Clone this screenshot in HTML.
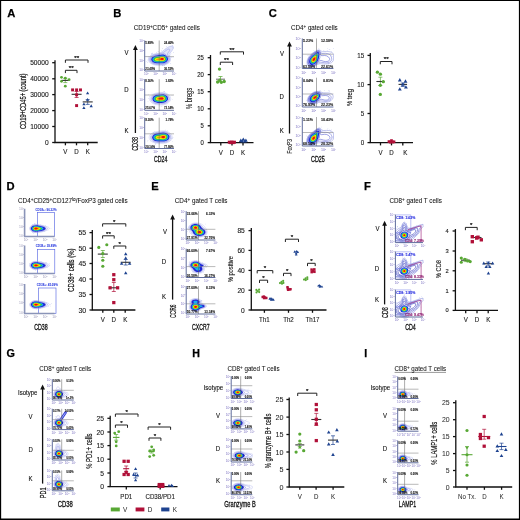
<!DOCTYPE html>
<html><head><meta charset="utf-8"><style>
html,body{margin:0;padding:0;background:#fff;width:520px;height:520px;overflow:hidden}
svg{display:block}
text{font-family:"Liberation Sans", sans-serif}
</style></head><body>
<svg width="520" height="520" viewBox="0 0 520 520" style="will-change:transform">
<rect width="520" height="520" fill="#fff"/>
<text x="7.2" y="16.9" font-size="11.2" text-anchor="start" font-weight="bold" fill="#000" stroke="#000" stroke-width="0.25" >A</text>
<text transform="translate(25.55,101.3) rotate(-90)" x="0" y="0" font-size="8.2" text-anchor="middle" fill="#111" stroke="#111" stroke-width="0.22" textLength="55.5" lengthAdjust="spacingAndGlyphs">CD19+CD45+ (count)</text>
<path d="M55 60.2V142.5H97.7" fill="none" stroke="#111" stroke-width="1.3"/>
<line x1="52.2" y1="62.7" x2="55" y2="62.7" stroke="#111" stroke-width="1.3"/>
<text x="48.6" y="65.0628" font-size="6.6" text-anchor="end" font-weight="normal" fill="#1a1a1a" textLength="18.40" lengthAdjust="spacingAndGlyphs" stroke="#1a1a1a" stroke-width="0.12" >50000</text>
<line x1="52.2" y1="78.8" x2="55" y2="78.8" stroke="#111" stroke-width="1.3"/>
<text x="48.6" y="81.16279999999999" font-size="6.6" text-anchor="end" font-weight="normal" fill="#1a1a1a" textLength="18.40" lengthAdjust="spacingAndGlyphs" stroke="#1a1a1a" stroke-width="0.12" >40000</text>
<line x1="52.2" y1="94.6" x2="55" y2="94.6" stroke="#111" stroke-width="1.3"/>
<text x="48.6" y="96.96279999999999" font-size="6.6" text-anchor="end" font-weight="normal" fill="#1a1a1a" textLength="18.40" lengthAdjust="spacingAndGlyphs" stroke="#1a1a1a" stroke-width="0.12" >30000</text>
<line x1="52.2" y1="110.6" x2="55" y2="110.6" stroke="#111" stroke-width="1.3"/>
<text x="48.6" y="112.96279999999999" font-size="6.6" text-anchor="end" font-weight="normal" fill="#1a1a1a" textLength="18.40" lengthAdjust="spacingAndGlyphs" stroke="#1a1a1a" stroke-width="0.12" >20000</text>
<line x1="52.2" y1="126.5" x2="55" y2="126.5" stroke="#111" stroke-width="1.3"/>
<text x="48.6" y="128.8628" font-size="6.6" text-anchor="end" font-weight="normal" fill="#1a1a1a" textLength="18.40" lengthAdjust="spacingAndGlyphs" stroke="#1a1a1a" stroke-width="0.12" >10000</text>
<line x1="52.2" y1="142.5" x2="55" y2="142.5" stroke="#111" stroke-width="1.3"/>
<text x="48.6" y="144.8628" font-size="6.6" text-anchor="end" font-weight="normal" fill="#1a1a1a" textLength="3.68" lengthAdjust="spacingAndGlyphs" stroke="#1a1a1a" stroke-width="0.12" >0</text>
<line x1="65.4" y1="142.5" x2="65.4" y2="145.3" stroke="#111" stroke-width="1.3"/>
<text x="65.4" y="154.4" font-size="7.0" text-anchor="middle" font-weight="normal" fill="#1a1a1a" textLength="4.11" lengthAdjust="spacingAndGlyphs" stroke="#1a1a1a" stroke-width="0.12" >V</text>
<line x1="76.5" y1="142.5" x2="76.5" y2="145.3" stroke="#111" stroke-width="1.3"/>
<text x="76.5" y="154.4" font-size="7.0" text-anchor="middle" font-weight="normal" fill="#1a1a1a" textLength="4.45" lengthAdjust="spacingAndGlyphs" stroke="#1a1a1a" stroke-width="0.12" >D</text>
<line x1="87.7" y1="142.5" x2="87.7" y2="145.3" stroke="#111" stroke-width="1.3"/>
<text x="87.7" y="154.4" font-size="7.0" text-anchor="middle" font-weight="normal" fill="#1a1a1a" textLength="4.11" lengthAdjust="spacingAndGlyphs" stroke="#1a1a1a" stroke-width="0.12" >K</text>
<path d="M65.4 73.1V70.3H77V73.1" fill="none" stroke="#222" stroke-width="1.0"/>
<text x="71.2" y="70.0" font-size="6.2" text-anchor="middle" font-weight="normal" fill="#222" stroke="#222" stroke-width="0.25" >**</text>
<path d="M65.4 62.8V60.0H88V62.8" fill="none" stroke="#222" stroke-width="1.0"/>
<text x="76.7" y="59.7" font-size="6.2" text-anchor="middle" font-weight="normal" fill="#222" stroke="#222" stroke-width="0.25" >**</text>
<path d="M65.3 78.3V82.6M63.3 78.3H67.3M63.3 82.6H67.3" stroke="#58a834" stroke-width="0.7" fill="none"/>
<line x1="61.3" y1="80.4" x2="69.3" y2="80.4" stroke="#333" stroke-width="1.1"/>
<circle cx="61.5" cy="77.3" r="1.40" fill="#58a834"/>
<circle cx="65.3" cy="78.2" r="1.40" fill="#58a834"/>
<circle cx="69.1" cy="79.7" r="1.40" fill="#58a834"/>
<circle cx="61.5" cy="81.3" r="1.40" fill="#58a834"/>
<circle cx="65.3" cy="86.2" r="1.40" fill="#58a834"/>
<path d="M76.6 91.5V97.5M74.6 91.5H78.6M74.6 97.5H78.6" stroke="#b01038" stroke-width="0.7" fill="none"/>
<line x1="71.6" y1="94.3" x2="81.6" y2="94.3" stroke="#333" stroke-width="1.1"/>
<rect x="71.13" y="88.43" width="2.94" height="2.94" fill="#b01038"/>
<rect x="75.13" y="88.43" width="2.94" height="2.94" fill="#b01038"/>
<rect x="79.03" y="88.43" width="2.94" height="2.94" fill="#b01038"/>
<rect x="75.13" y="93.33" width="2.94" height="2.94" fill="#b01038"/>
<rect x="75.13" y="104.13" width="2.94" height="2.94" fill="#b01038"/>
<path d="M87.7 99.6V104.4M85.7 99.6H89.7M85.7 104.4H89.7" stroke="#1e4390" stroke-width="0.7" fill="none"/>
<line x1="82.7" y1="101.9" x2="92.7" y2="101.9" stroke="#333" stroke-width="1.1"/>
<path d="M87.6 91.48L89.22 94.34L85.97 94.34Z" fill="#1e4390"/>
<path d="M87.6 97.88L89.22 100.74L85.97 100.74Z" fill="#1e4390"/>
<path d="M83.9 102.38L85.53 105.24L82.28 105.24Z" fill="#1e4390"/>
<path d="M91.2 104.28L92.83 107.14L89.58 107.14Z" fill="#1e4390"/>
<path d="M83.9 106.18L85.53 109.04L82.28 109.04Z" fill="#1e4390"/>
<text x="113.3" y="16.7" font-size="11.2" text-anchor="start" font-weight="bold" fill="#000" stroke="#000" stroke-width="0.25" >B</text>
<text x="133.8" y="30.3" font-size="6.5" text-anchor="start" font-weight="normal" fill="#111" textLength="66" lengthAdjust="spacingAndGlyphs" stroke="#111" stroke-width="0.06" >CD19<tspan font-size="4.8" baseline-shift="2.2">+</tspan>CD5<tspan font-size="4.8" baseline-shift="2.2">+</tspan> gated cells</text>
<path d="M162.2 65.4L158.6 65.5L155.6 65.2L153.2 64.7L151.0 63.7L149.4 62.4L148.4 60.8L148.2 59.2L148.7 57.4L150.1 55.8L152.2 54.5L154.6 53.7L158.6 53.0L160.8 52.2L162.0 51.4L165.8 48.3L168.8 46.5L171.4 45.7L172.4 45.6L173.2 45.9L173.7 46.4L173.8 47.0L173.4 48.8L172.2 50.8L169.8 53.8L169.4 54.6L169.5 55.4L170.5 57.4L170.8 58.6L170.7 60.0L170.2 61.4L169.0 62.9L167.2 64.1L165.0 65.0L162.2 65.4Z" fill="#e2e5fa"/>
<path d="M162.6 65.2L159.0 65.3L155.8 65.1L153.6 64.7L151.4 63.7L149.7 62.4L148.7 60.8L148.4 59.2L148.9 57.6L150.2 55.9L152.2 54.7L154.4 53.9L158.5 53.2L160.4 52.6L161.9 51.8L165.6 48.8L168.2 47.1L170.8 46.1L171.8 46.1L172.6 46.2L173.1 46.6L173.3 47.2L173.0 48.8L171.9 50.8L169.5 53.8L169.1 54.6L169.3 55.4L170.3 57.4L170.6 58.6L170.5 60.0L170.1 61.2L169.0 62.6L167.2 63.9L165.2 64.7L162.6 65.2Z" fill="none" stroke="#a4aaea" stroke-width="0.35"/>
<path d="M162.4 64.4L156.0 64.3L154.0 63.9L152.4 63.3L150.9 62.2L149.9 60.8L149.6 59.4L149.9 58.0L151.0 56.5L152.8 55.3L154.6 54.7L158.8 54.0L162.2 53.0L163.8 52.2L167.2 49.7L168.4 49.2L169.4 49.2L169.8 49.8L169.6 50.6L167.8 53.2L167.4 54.0L167.6 54.8L168.9 56.8L169.4 58.0L169.5 59.4L169.1 60.8L168.1 62.2L166.6 63.3L164.6 64.1L162.4 64.4Z" fill="none" stroke="#7e86e4" stroke-width="0.4"/>
<path d="M163.8 63.6L162.0 63.8L156.8 63.7L155.0 63.5L153.6 63.1L152.0 62.2L150.9 61.0L150.5 59.6L150.7 58.2L151.4 57.2L152.2 56.5L154.4 55.4L162.6 53.9L164.0 53.8L165.0 54.1L166.2 54.9L167.8 56.6L168.5 58.0L168.7 59.4L168.2 60.8L167.2 62.1L165.6 63.1L163.8 63.6Z" fill="none" stroke="#5560dc" stroke-width="0.4"/>
<circle cx="152.6" cy="66.2" r="0.28" fill="#9aa2ea"/>
<circle cx="161.4" cy="50.2" r="0.28" fill="#9aa2ea"/>
<circle cx="156.4" cy="52.4" r="0.28" fill="#9aa2ea"/>
<circle cx="148.0" cy="62.0" r="0.28" fill="#9aa2ea"/>
<circle cx="170.0" cy="55.2" r="0.28" fill="#9aa2ea"/>
<circle cx="173.0" cy="57.4" r="0.28" fill="#9aa2ea"/>
<circle cx="148.2" cy="56.2" r="0.28" fill="#9aa2ea"/>
<circle cx="158.0" cy="51.8" r="0.28" fill="#9aa2ea"/>
<circle cx="162.8" cy="48.6" r="0.28" fill="#9aa2ea"/>
<circle cx="146.8" cy="61.8" r="0.28" fill="#9aa2ea"/>
<circle cx="168.0" cy="48.2" r="0.28" fill="#9aa2ea"/>
<circle cx="162.8" cy="65.4" r="0.28" fill="#9aa2ea"/>
<circle cx="148.0" cy="56.2" r="0.28" fill="#9aa2ea"/>
<circle cx="164.4" cy="65.8" r="0.28" fill="#9aa2ea"/>
<circle cx="152.4" cy="53.8" r="0.28" fill="#9aa2ea"/>
<circle cx="172.4" cy="45.4" r="0.28" fill="#9aa2ea"/>
<circle cx="147.4" cy="60.0" r="0.28" fill="#9aa2ea"/>
<circle cx="173.4" cy="52.4" r="0.28" fill="#9aa2ea"/>
<circle cx="172.6" cy="43.0" r="0.28" fill="#9aa2ea"/>
<circle cx="164.6" cy="65.8" r="0.28" fill="#9aa2ea"/>
<circle cx="170.6" cy="54.2" r="0.28" fill="#9aa2ea"/>
<circle cx="171.4" cy="57.4" r="0.28" fill="#9aa2ea"/>
<circle cx="165.8" cy="49.2" r="0.28" fill="#9aa2ea"/>
<circle cx="171.0" cy="46.2" r="0.28" fill="#9aa2ea"/>
<circle cx="173.4" cy="48.0" r="0.28" fill="#9aa2ea"/>
<circle cx="172.8" cy="47.8" r="0.28" fill="#9aa2ea"/>
<circle cx="162.4" cy="65.6" r="0.28" fill="#9aa2ea"/>
<circle cx="151.6" cy="53.4" r="0.28" fill="#9aa2ea"/>
<circle cx="147.4" cy="62.8" r="0.28" fill="#9aa2ea"/>
<circle cx="163.8" cy="65.2" r="0.28" fill="#9aa2ea"/>
<circle cx="158.2" cy="51.6" r="0.28" fill="#9aa2ea"/>
<circle cx="146.6" cy="56.8" r="0.28" fill="#9aa2ea"/>
<circle cx="151.2" cy="54.4" r="0.28" fill="#9aa2ea"/>
<circle cx="169.6" cy="55.6" r="0.28" fill="#9aa2ea"/>
<circle cx="152.4" cy="53.0" r="0.28" fill="#9aa2ea"/>
<circle cx="171.0" cy="53.8" r="0.28" fill="#9aa2ea"/>
<circle cx="148.0" cy="57.0" r="0.28" fill="#9aa2ea"/>
<circle cx="152.0" cy="53.8" r="0.28" fill="#9aa2ea"/>
<circle cx="170.8" cy="63.4" r="0.28" fill="#9aa2ea"/>
<circle cx="166.2" cy="46.4" r="0.28" fill="#9aa2ea"/>
<path d="M163.2 63.2L156.8 63.2L154.0 62.7L152.6 61.9L151.6 60.8L151.2 59.6L151.4 58.4L151.8 57.6L152.6 56.9L154.8 55.8L162.2 54.6L163.6 54.6L164.8 54.9L166.2 55.7L167.4 57.0L167.9 58.2L168.0 59.6L167.5 60.8L166.4 62.0L165.0 62.8L163.2 63.2Z" fill="#2024d4"/>
<path d="M162.8 62.4L156.8 62.4L154.8 62.0L153.6 61.4L152.8 60.6L152.4 59.8L152.5 58.8L152.9 58.0L153.6 57.4L155.4 56.6L161.8 55.6L163.2 55.6L164.4 55.9L165.6 56.5L166.4 57.4L166.9 58.4L166.9 59.6L166.4 60.6L165.4 61.6L164.2 62.1L162.8 62.4Z" fill="#18b0f0"/>
<path d="M163.2 61.6L157.0 61.6L155.6 61.4L154.6 61.0L153.9 60.4L153.6 59.8L153.6 59.0L154.3 58.0L155.8 57.3L161.6 56.3L163.6 56.4L164.6 56.8L165.4 57.5L165.9 58.4L166.0 59.2L165.8 60.0L165.1 60.8L164.2 61.3L163.2 61.6Z" fill="#30c838"/>
<path d="M162.8 61.0L156.2 60.7L155.1 60.2L154.8 59.8L154.8 59.2L155.4 58.4L156.4 58.0L159.0 57.7L161.6 57.0L163.2 57.1L164.6 57.8L165.0 58.4L165.1 59.2L164.9 59.8L164.3 60.4L162.8 61.0Z" fill="#f4f000"/>
<path d="M163.0 60.4L161.8 60.5L159.2 60.1L157.0 60.0L156.3 59.8L156.0 59.4L156.2 59.0L156.8 58.7L158.8 58.5L161.4 57.6L162.8 57.6L163.8 58.0L164.2 58.4L164.4 59.0L164.0 59.9L163.0 60.4Z" fill="#ff9a00"/>
<path d="M162.8 60.0L161.8 60.1L160.8 59.8L160.1 59.4L160.0 59.0L160.7 58.4L161.4 58.1L162.2 58.0L163.0 58.1L163.5 58.4L163.8 59.0L163.5 59.6L162.8 60.0Z" fill="#f01010"/>
<text x="142.70" y="42.10" font-size="3.2" fill="#7c72c2" text-anchor="end">10</text><text x="142.70" y="41.00" font-size="1.98" fill="#7c72c2">1</text>
<text x="142.70" y="51.87" font-size="3.2" fill="#7c72c2" text-anchor="end">10</text><text x="142.70" y="50.77" font-size="1.98" fill="#7c72c2">2</text>
<text x="142.70" y="61.63" font-size="3.2" fill="#7c72c2" text-anchor="end">10</text><text x="142.70" y="60.53" font-size="1.98" fill="#7c72c2">3</text>
<text x="142.70" y="71.40" font-size="3.2" fill="#7c72c2" text-anchor="end">10</text><text x="142.70" y="70.30" font-size="1.98" fill="#7c72c2">4</text>
<text x="145.70" y="75.30" font-size="3.2" fill="#7c72c2" text-anchor="middle">10</text><text x="147.40" y="74.20" font-size="1.98" fill="#7c72c2">1</text>
<text x="154.97" y="75.30" font-size="3.2" fill="#7c72c2" text-anchor="middle">10</text><text x="156.67" y="74.20" font-size="1.98" fill="#7c72c2">2</text>
<text x="164.23" y="75.30" font-size="3.2" fill="#7c72c2" text-anchor="middle">10</text><text x="165.93" y="74.20" font-size="1.98" fill="#7c72c2">3</text>
<text x="173.50" y="75.30" font-size="3.2" fill="#7c72c2" text-anchor="middle">10</text><text x="175.20" y="74.20" font-size="1.98" fill="#7c72c2">4</text>
<line x1="159.2" y1="40.5" x2="159.2" y2="71" stroke="#5a5a5a" stroke-width="0.5"/>
<line x1="144.7" y1="56.6" x2="174" y2="56.6" stroke="#8a8a8a" stroke-width="0.6"/>
<path d="M144.7 40.5V71H174" fill="none" stroke="#5f6c9c" stroke-width="1.0"/>
<text x="145.29999999999998" y="43.762" font-size="2.9" text-anchor="start" font-weight="bold" fill="#111" stroke="#111" stroke-width="0.08" >5.89%</text>
<text x="173.7" y="43.762" font-size="2.9" text-anchor="end" font-weight="bold" fill="#111" stroke="#111" stroke-width="0.08" >24.40%</text>
<text x="145.29999999999998" y="70.1" font-size="2.9" text-anchor="start" font-weight="bold" fill="#111" stroke="#111" stroke-width="0.08" >23.49%</text>
<text x="173.7" y="70.1" font-size="2.9" text-anchor="end" font-weight="bold" fill="#111" stroke="#111" stroke-width="0.08" >36.53%</text>
<path d="M163.4 104.8L160.4 105.0L156.6 104.7L154.2 104.1L152.4 103.3L150.7 101.8L149.8 100.2L149.6 98.4L150.3 96.6L151.4 95.2L153.0 94.1L155.0 93.3L157.0 92.9L160.6 92.4L163.2 92.4L165.6 92.9L167.6 93.9L169.2 95.2L170.3 96.8L170.7 98.6L170.5 100.2L169.5 101.8L167.8 103.3L165.8 104.3L163.4 104.8Z" fill="none" stroke="#a4aaea" stroke-width="0.35"/>
<path d="M163.2 104.0L160.6 104.1L156.8 103.9L154.8 103.5L153.2 102.7L151.7 101.4L150.9 99.8L150.9 98.2L151.5 96.6L152.6 95.4L154.0 94.5L155.8 93.9L158.2 93.5L161.2 93.1L163.2 93.2L165.4 93.7L167.0 94.4L168.5 95.8L169.3 97.2L169.6 98.8L169.3 100.2L168.4 101.6L167.0 102.7L165.4 103.5L163.2 104.0Z" fill="none" stroke="#7e86e4" stroke-width="0.4"/>
<path d="M163.0 103.4L157.2 103.3L155.4 103.0L154.0 102.4L152.8 101.4L151.9 100.0L151.7 98.4L152.2 97.0L153.0 96.0L154.0 95.3L155.4 94.7L157.2 94.2L160.8 93.7L162.6 93.7L164.6 94.0L166.2 94.7L167.6 95.8L168.4 97.0L168.7 98.4L168.5 99.8L167.7 101.2L166.4 102.3L164.8 103.0L163.0 103.4Z" fill="none" stroke="#5560dc" stroke-width="0.4"/>
<circle cx="161.8" cy="106.2" r="0.28" fill="#9aa2ea"/>
<circle cx="160.0" cy="106.8" r="0.28" fill="#9aa2ea"/>
<circle cx="172.0" cy="95.6" r="0.28" fill="#9aa2ea"/>
<circle cx="148.6" cy="94.8" r="0.28" fill="#9aa2ea"/>
<circle cx="148.6" cy="98.6" r="0.28" fill="#9aa2ea"/>
<circle cx="155.0" cy="106.2" r="0.28" fill="#9aa2ea"/>
<circle cx="148.0" cy="101.2" r="0.28" fill="#9aa2ea"/>
<circle cx="152.0" cy="93.0" r="0.28" fill="#9aa2ea"/>
<circle cx="172.2" cy="99.8" r="0.28" fill="#9aa2ea"/>
<circle cx="162.0" cy="106.0" r="0.28" fill="#9aa2ea"/>
<circle cx="149.6" cy="96.4" r="0.28" fill="#9aa2ea"/>
<circle cx="163.6" cy="91.8" r="0.28" fill="#9aa2ea"/>
<circle cx="164.4" cy="91.8" r="0.28" fill="#9aa2ea"/>
<circle cx="164.2" cy="91.4" r="0.28" fill="#9aa2ea"/>
<circle cx="166.8" cy="105.8" r="0.28" fill="#9aa2ea"/>
<path d="M163.6 102.8L161.6 103.0L157.8 102.9L156.2 102.6L154.6 102.1L153.4 101.2L152.6 100.0L152.4 98.6L152.7 97.4L153.4 96.4L154.4 95.7L155.6 95.1L157.0 94.8L162.2 94.2L163.8 94.3L165.4 94.9L166.6 95.7L167.6 96.8L168.0 98.2L167.9 99.4L167.4 100.6L166.4 101.6L165.2 102.3L163.6 102.8Z" fill="#2024d4"/>
<path d="M163.0 102.0L158.0 102.0L155.6 101.5L154.5 100.8L153.7 99.8L153.5 98.8L153.8 97.8L154.3 97.0L155.0 96.4L157.0 95.7L161.8 95.0L163.2 95.1L164.6 95.5L165.7 96.2L166.4 97.0L166.8 98.0L166.8 99.2L166.3 100.2L165.5 101.0L164.4 101.6L163.0 102.0Z" fill="#18b0f0"/>
<path d="M163.2 101.2L160.4 101.4L157.8 101.2L156.4 100.9L155.4 100.4L154.9 99.8L154.6 99.0L154.7 98.2L155.6 97.1L157.2 96.4L161.4 95.7L162.6 95.8L163.8 96.0L164.8 96.5L165.5 97.2L165.9 98.0L165.9 98.8L165.6 99.6L165.0 100.4L163.2 101.2Z" fill="#30c838"/>
<path d="M162.4 100.6L158.8 100.5L157.0 100.2L155.9 99.4L155.8 98.4L156.5 97.6L157.8 97.1L161.4 96.5L163.2 96.6L164.0 97.0L164.6 97.5L164.9 98.2L164.9 98.8L164.7 99.4L164.1 100.0L162.4 100.6Z" fill="#f4f000"/>
<path d="M162.6 100.0L161.0 100.1L158.0 99.7L157.0 99.2L156.9 98.6L157.4 98.0L158.5 97.6L161.2 97.0L162.8 97.1L163.8 97.7L164.2 98.6L163.8 99.4L162.6 100.0Z" fill="#ff9a00"/>
<path d="M162.2 99.6L161.0 99.6L159.4 99.3L158.6 99.0L158.4 98.6L158.9 98.2L160.7 97.6L161.8 97.4L162.6 97.5L163.3 98.0L163.5 98.6L163.2 99.2L162.2 99.6Z" fill="#f01010"/>
<text x="142.70" y="80.80" font-size="3.2" fill="#7c72c2" text-anchor="end">10</text><text x="142.70" y="79.70" font-size="1.98" fill="#7c72c2">1</text>
<text x="142.70" y="90.77" font-size="3.2" fill="#7c72c2" text-anchor="end">10</text><text x="142.70" y="89.67" font-size="1.98" fill="#7c72c2">2</text>
<text x="142.70" y="100.73" font-size="3.2" fill="#7c72c2" text-anchor="end">10</text><text x="142.70" y="99.63" font-size="1.98" fill="#7c72c2">3</text>
<text x="142.70" y="110.70" font-size="3.2" fill="#7c72c2" text-anchor="end">10</text><text x="142.70" y="109.60" font-size="1.98" fill="#7c72c2">4</text>
<text x="145.70" y="114.60" font-size="3.2" fill="#7c72c2" text-anchor="middle">10</text><text x="147.40" y="113.50" font-size="1.98" fill="#7c72c2">1</text>
<text x="154.97" y="114.60" font-size="3.2" fill="#7c72c2" text-anchor="middle">10</text><text x="156.67" y="113.50" font-size="1.98" fill="#7c72c2">2</text>
<text x="164.23" y="114.60" font-size="3.2" fill="#7c72c2" text-anchor="middle">10</text><text x="165.93" y="113.50" font-size="1.98" fill="#7c72c2">3</text>
<text x="173.50" y="114.60" font-size="3.2" fill="#7c72c2" text-anchor="middle">10</text><text x="175.20" y="113.50" font-size="1.98" fill="#7c72c2">4</text>
<line x1="159.2" y1="79.2" x2="159.2" y2="110.3" stroke="#5a5a5a" stroke-width="0.5"/>
<line x1="144.7" y1="95" x2="174" y2="95" stroke="#8a8a8a" stroke-width="0.6"/>
<path d="M144.7 79.2V110.3H174" fill="none" stroke="#5f6c9c" stroke-width="1.0"/>
<text x="145.29999999999998" y="82.462" font-size="2.9" text-anchor="start" font-weight="bold" fill="#111" stroke="#111" stroke-width="0.08" >8.36%</text>
<text x="173.7" y="82.462" font-size="2.9" text-anchor="end" font-weight="bold" fill="#111" stroke="#111" stroke-width="0.08" >1.82%</text>
<text x="145.29999999999998" y="109.39999999999999" font-size="2.9" text-anchor="start" font-weight="bold" fill="#111" stroke="#111" stroke-width="0.08" >25.67%</text>
<text x="173.7" y="109.39999999999999" font-size="2.9" text-anchor="end" font-weight="bold" fill="#111" stroke="#111" stroke-width="0.08" >73.14%</text>
<path d="M159.4 143.4L156.6 143.3L154.0 142.7L152.0 141.8L150.4 140.4L149.4 138.8L149.1 137.2L149.5 135.6L150.8 134.0L152.6 132.8L155.0 131.9L161.4 130.9L163.4 130.8L165.8 131.1L167.8 131.7L169.6 132.7L171.0 134.0L171.7 135.0L172.1 136.0L172.2 137.8L171.5 139.6L170.0 141.2L168.2 142.3L165.8 143.1L163.6 143.4L159.4 143.4Z" fill="none" stroke="#a4aaea" stroke-width="0.35"/>
<path d="M159.4 142.6L156.8 142.5L154.8 142.1L153.0 141.3L151.6 140.2L150.7 138.8L150.4 137.2L150.8 135.8L151.9 134.4L153.6 133.3L155.6 132.6L163.4 131.6L165.4 131.7L167.2 132.3L168.8 133.2L170.1 134.4L170.9 136.0L171.0 137.8L170.3 139.4L169.0 140.8L167.4 141.7L165.4 142.4L163.6 142.6L159.4 142.6Z" fill="none" stroke="#7e86e4" stroke-width="0.4"/>
<path d="M165.0 141.8L157.6 142.0L155.8 141.7L154.4 141.3L152.8 140.3L151.8 139.0L151.4 137.6L151.6 136.2L152.3 135.2L153.2 134.3L154.4 133.7L156.0 133.1L163.2 132.2L165.0 132.3L166.8 132.8L168.4 133.7L169.6 135.0L170.1 136.4L170.1 137.8L169.5 139.2L168.4 140.4L166.8 141.3L165.0 141.8Z" fill="none" stroke="#5560dc" stroke-width="0.4"/>
<circle cx="155.2" cy="144.6" r="0.28" fill="#9aa2ea"/>
<circle cx="150.4" cy="134.2" r="0.28" fill="#9aa2ea"/>
<circle cx="155.8" cy="143.6" r="0.28" fill="#9aa2ea"/>
<circle cx="148.0" cy="140.2" r="0.28" fill="#9aa2ea"/>
<circle cx="159.6" cy="130.2" r="0.28" fill="#9aa2ea"/>
<circle cx="159.0" cy="144.0" r="0.28" fill="#9aa2ea"/>
<circle cx="147.6" cy="141.0" r="0.28" fill="#9aa2ea"/>
<circle cx="150.2" cy="141.0" r="0.28" fill="#9aa2ea"/>
<circle cx="172.4" cy="138.8" r="0.28" fill="#9aa2ea"/>
<circle cx="167.8" cy="130.8" r="0.28" fill="#9aa2ea"/>
<circle cx="170.8" cy="140.2" r="0.28" fill="#9aa2ea"/>
<circle cx="154.2" cy="131.2" r="0.28" fill="#9aa2ea"/>
<circle cx="172.2" cy="141.2" r="0.28" fill="#9aa2ea"/>
<circle cx="173.0" cy="137.6" r="0.28" fill="#9aa2ea"/>
<circle cx="153.6" cy="132.6" r="0.28" fill="#9aa2ea"/>
<circle cx="166.6" cy="142.8" r="0.28" fill="#9aa2ea"/>
<circle cx="171.8" cy="138.4" r="0.28" fill="#9aa2ea"/>
<circle cx="165.4" cy="130.0" r="0.28" fill="#9aa2ea"/>
<path d="M164.2 141.4L157.6 141.5L156.2 141.3L154.8 140.9L153.4 140.0L152.5 139.0L152.1 137.8L152.3 136.4L152.9 135.4L153.8 134.6L154.8 134.1L156.2 133.6L163.2 132.6L165.0 132.8L166.6 133.2L168.1 134.2L169.1 135.4L169.5 136.6L169.4 138.0L168.7 139.2L167.6 140.3L166.0 141.0L164.2 141.4Z" fill="#2024d4"/>
<path d="M163.4 140.6L157.6 140.6L155.6 140.2L154.4 139.5L153.6 138.6L153.4 137.6L153.5 136.6L154.6 135.3L156.6 134.5L163.0 133.5L164.4 133.5L165.8 133.9L167.1 134.6L168.0 135.6L168.3 136.8L168.2 138.0L167.5 139.0L166.4 139.9L165.0 140.4L163.4 140.6Z" fill="#18b0f0"/>
<path d="M164.2 139.8L158.0 139.8L156.6 139.7L155.6 139.2L154.9 138.6L154.5 137.8L154.5 137.0L155.4 135.9L156.8 135.2L160.0 134.8L162.8 134.2L165.0 134.4L166.0 134.8L166.9 135.6L167.3 136.4L167.4 137.4L167.0 138.2L166.3 139.0L165.4 139.5L164.2 139.8Z" fill="#30c838"/>
<path d="M164.4 139.0L163.2 139.2L160.6 138.9L157.2 138.9L156.4 138.6L155.9 138.2L155.7 137.8L155.7 137.2L156.2 136.5L157.2 136.0L160.0 135.7L162.8 135.0L164.4 135.0L165.2 135.3L165.9 135.8L166.3 136.4L166.4 137.0L166.3 137.6L165.9 138.2L165.2 138.8L164.4 139.0Z" fill="#f4f000"/>
<path d="M163.6 138.6L160.2 138.1L157.8 138.2L157.2 138.0L156.9 137.4L157.2 137.0L157.6 136.8L160.0 136.5L162.5 135.6L164.0 135.5L164.8 135.7L165.4 136.2L165.7 137.2L165.4 137.8L165.0 138.2L163.6 138.6Z" fill="#ff9a00"/>
<path d="M164.2 138.0L163.4 138.2L162.4 138.0L161.5 137.6L161.3 137.0L161.9 136.4L162.6 136.1L163.4 135.9L164.2 136.0L164.8 136.4L165.1 137.0L164.8 137.6L164.2 138.0Z" fill="#f01010"/>
<text x="142.70" y="119.30" font-size="3.2" fill="#7c72c2" text-anchor="end">10</text><text x="142.70" y="118.20" font-size="1.98" fill="#7c72c2">1</text>
<text x="142.70" y="129.17" font-size="3.2" fill="#7c72c2" text-anchor="end">10</text><text x="142.70" y="128.07" font-size="1.98" fill="#7c72c2">2</text>
<text x="142.70" y="139.03" font-size="3.2" fill="#7c72c2" text-anchor="end">10</text><text x="142.70" y="137.93" font-size="1.98" fill="#7c72c2">3</text>
<text x="142.70" y="148.90" font-size="3.2" fill="#7c72c2" text-anchor="end">10</text><text x="142.70" y="147.80" font-size="1.98" fill="#7c72c2">4</text>
<text x="145.70" y="152.80" font-size="3.2" fill="#7c72c2" text-anchor="middle">10</text><text x="147.40" y="151.70" font-size="1.98" fill="#7c72c2">1</text>
<text x="154.97" y="152.80" font-size="3.2" fill="#7c72c2" text-anchor="middle">10</text><text x="156.67" y="151.70" font-size="1.98" fill="#7c72c2">2</text>
<text x="164.23" y="152.80" font-size="3.2" fill="#7c72c2" text-anchor="middle">10</text><text x="165.93" y="151.70" font-size="1.98" fill="#7c72c2">3</text>
<text x="173.50" y="152.80" font-size="3.2" fill="#7c72c2" text-anchor="middle">10</text><text x="175.20" y="151.70" font-size="1.98" fill="#7c72c2">4</text>
<line x1="159.2" y1="117.7" x2="159.2" y2="148.5" stroke="#5a5a5a" stroke-width="0.5"/>
<line x1="144.7" y1="133.8" x2="174" y2="133.8" stroke="#8a8a8a" stroke-width="0.6"/>
<path d="M144.7 117.7V148.5H174" fill="none" stroke="#5f6c9c" stroke-width="1.0"/>
<text x="145.29999999999998" y="120.962" font-size="2.9" text-anchor="start" font-weight="bold" fill="#111" stroke="#111" stroke-width="0.08" >9.30%</text>
<text x="173.7" y="120.962" font-size="2.9" text-anchor="end" font-weight="bold" fill="#111" stroke="#111" stroke-width="0.08" >1.79%</text>
<text x="145.29999999999998" y="147.6" font-size="2.9" text-anchor="start" font-weight="bold" fill="#111" stroke="#111" stroke-width="0.08" >20.14%</text>
<text x="173.7" y="147.6" font-size="2.9" text-anchor="end" font-weight="bold" fill="#111" stroke="#111" stroke-width="0.08" >77.86%</text>
<line x1="135.4" y1="133" x2="135.4" y2="48" stroke="#111" stroke-width="1.3"/>
<path d="M135.4 45L137.8 50L133.0 50Z" fill="#111"/>
<text x="126.5" y="54.6" font-size="7.0" text-anchor="middle" font-weight="normal" fill="#111" textLength="4.02" lengthAdjust="spacingAndGlyphs" stroke="#111" stroke-width="0.12" >V</text>
<text x="126.5" y="91.8" font-size="7.0" text-anchor="middle" font-weight="normal" fill="#111" textLength="4.35" lengthAdjust="spacingAndGlyphs" stroke="#111" stroke-width="0.12" >D</text>
<text x="126.5" y="132.8" font-size="7.0" text-anchor="middle" font-weight="normal" fill="#111" textLength="4.02" lengthAdjust="spacingAndGlyphs" stroke="#111" stroke-width="0.12" >K</text>
<text transform="translate(138.05,143.9) rotate(-90)" x="0" y="0" font-size="8.2" text-anchor="middle" fill="#111" stroke="#111" stroke-width="0.22" textLength="13.8" lengthAdjust="spacingAndGlyphs">CD38</text>
<text x="154" y="162.3" font-size="8.2" text-anchor="start" font-weight="normal" fill="#111" textLength="13.3" lengthAdjust="spacingAndGlyphs" stroke="#111" stroke-width="0.3" >CD24</text>
<text transform="translate(192.15,98.4) rotate(-90)" x="0" y="0" font-size="8.2" text-anchor="middle" fill="#111" stroke="#111" stroke-width="0.1" textLength="21.3" lengthAdjust="spacingAndGlyphs">% bregs</text>
<path d="M210.5 55V142.6H253.5" fill="none" stroke="#111" stroke-width="1.3"/>
<line x1="207.7" y1="57.7" x2="210.5" y2="57.7" stroke="#111" stroke-width="1.3"/>
<text x="203.8" y="59.991200000000006" font-size="6.4" text-anchor="end" font-weight="normal" fill="#1a1a1a" textLength="6.60" lengthAdjust="spacingAndGlyphs" stroke="#1a1a1a" stroke-width="0.12" >25</text>
<line x1="207.7" y1="74.6" x2="210.5" y2="74.6" stroke="#111" stroke-width="1.3"/>
<text x="203.8" y="76.8912" font-size="6.4" text-anchor="end" font-weight="normal" fill="#1a1a1a" textLength="6.60" lengthAdjust="spacingAndGlyphs" stroke="#1a1a1a" stroke-width="0.12" >20</text>
<line x1="207.7" y1="91.7" x2="210.5" y2="91.7" stroke="#111" stroke-width="1.3"/>
<text x="203.8" y="93.9912" font-size="6.4" text-anchor="end" font-weight="normal" fill="#1a1a1a" textLength="6.60" lengthAdjust="spacingAndGlyphs" stroke="#1a1a1a" stroke-width="0.12" >15</text>
<line x1="207.7" y1="108.8" x2="210.5" y2="108.8" stroke="#111" stroke-width="1.3"/>
<text x="203.8" y="111.0912" font-size="6.4" text-anchor="end" font-weight="normal" fill="#1a1a1a" textLength="6.60" lengthAdjust="spacingAndGlyphs" stroke="#1a1a1a" stroke-width="0.12" >10</text>
<line x1="207.7" y1="125.8" x2="210.5" y2="125.8" stroke="#111" stroke-width="1.3"/>
<text x="203.8" y="128.0912" font-size="6.4" text-anchor="end" font-weight="normal" fill="#1a1a1a" textLength="3.30" lengthAdjust="spacingAndGlyphs" stroke="#1a1a1a" stroke-width="0.12" >5</text>
<line x1="207.7" y1="142.6" x2="210.5" y2="142.6" stroke="#111" stroke-width="1.3"/>
<text x="203.8" y="144.8912" font-size="6.4" text-anchor="end" font-weight="normal" fill="#1a1a1a" textLength="3.30" lengthAdjust="spacingAndGlyphs" stroke="#1a1a1a" stroke-width="0.12" >0</text>
<line x1="220.8" y1="142.6" x2="220.8" y2="145.4" stroke="#111" stroke-width="1.3"/>
<text x="220.8" y="154.5" font-size="7.0" text-anchor="middle" font-weight="normal" fill="#1a1a1a" textLength="4.11" lengthAdjust="spacingAndGlyphs" stroke="#1a1a1a" stroke-width="0.12" >V</text>
<line x1="232" y1="142.6" x2="232" y2="145.4" stroke="#111" stroke-width="1.3"/>
<text x="232" y="154.5" font-size="7.0" text-anchor="middle" font-weight="normal" fill="#1a1a1a" textLength="4.45" lengthAdjust="spacingAndGlyphs" stroke="#1a1a1a" stroke-width="0.12" >D</text>
<line x1="243" y1="142.6" x2="243" y2="145.4" stroke="#111" stroke-width="1.3"/>
<text x="243" y="154.5" font-size="7.0" text-anchor="middle" font-weight="normal" fill="#1a1a1a" textLength="4.11" lengthAdjust="spacingAndGlyphs" stroke="#1a1a1a" stroke-width="0.12" >K</text>
<path d="M220.3 65.0V62.2H232.6V65.0" fill="none" stroke="#222" stroke-width="1.0"/>
<text x="226.45" y="61.900000000000006" font-size="6.2" text-anchor="middle" font-weight="normal" fill="#222" stroke="#222" stroke-width="0.25" >**</text>
<path d="M220.3 54.599999999999994V51.8H243.5V54.599999999999994" fill="none" stroke="#222" stroke-width="1.0"/>
<text x="231.9" y="51.5" font-size="6.2" text-anchor="middle" font-weight="normal" fill="#222" stroke="#222" stroke-width="0.25" >**</text>
<path d="M220.5 76.5V81.5M218.5 76.5H222.5M218.5 81.5H222.5" stroke="#58a834" stroke-width="0.7" fill="none"/>
<line x1="216.0" y1="79.2" x2="225.0" y2="79.2" stroke="#777" stroke-width="1.1"/>
<circle cx="219.5" cy="69.1" r="1.67" fill="#58a834"/>
<circle cx="217.6" cy="82" r="1.67" fill="#58a834"/>
<circle cx="221.3" cy="82.3" r="1.67" fill="#58a834"/>
<circle cx="224.2" cy="81.5" r="1.67" fill="#58a834"/>
<circle cx="219.8" cy="80.2" r="1.67" fill="#58a834"/>
<rect x="227.78" y="140.68" width="3.04" height="3.04" fill="#b01038"/>
<rect x="230.28" y="140.48" width="3.04" height="3.04" fill="#b01038"/>
<rect x="232.88" y="140.68" width="3.04" height="3.04" fill="#b01038"/>
<rect x="229.08" y="141.08" width="3.04" height="3.04" fill="#b01038"/>
<rect x="231.68" y="141.08" width="3.04" height="3.04" fill="#b01038"/>
<path d="M240.8 138.62L242.68 141.92L238.93 141.92Z" fill="#1e4390"/>
<path d="M243.3 137.42L245.18 140.72L241.43 140.72Z" fill="#1e4390"/>
<path d="M245.9 138.42L247.78 141.72L244.03 141.72Z" fill="#1e4390"/>
<path d="M242.2 139.12L244.07 142.42L240.32 142.42Z" fill="#1e4390"/>
<path d="M244.9 139.22L246.78 142.52L243.03 142.52Z" fill="#1e4390"/>
<text x="268.7" y="16.8" font-size="11.2" text-anchor="start" font-weight="bold" fill="#000" stroke="#000" stroke-width="0.25" >C</text>
<text x="291" y="30.3" font-size="6.5" text-anchor="start" font-weight="normal" fill="#111" textLength="46.7" lengthAdjust="spacingAndGlyphs" stroke="#111" stroke-width="0.06" >CD4<tspan font-size="4.8" baseline-shift="2.2">+</tspan> gated cells</text>
<path d="M312.1 67.2L310.9 67.3L309.9 67.1L308.3 66.1L307.6 65.2L307.2 64.2L307.0 61.8L307.5 59.2L308.8 56.8L310.7 54.5L313.1 52.7L316.9 50.4L317.9 50.1L319.1 49.9L320.3 50.3L322.1 51.7L326.9 51.4L330.3 51.8L332.1 52.6L333.4 53.8L333.5 54.2L333.5 60.1L332.6 61.6L331.3 62.7L329.5 63.5L327.3 63.9L325.1 64.0L320.5 63.7L319.1 63.8L317.9 64.3L314.3 66.5L312.1 67.2Z" fill="none" stroke="#8088dc" stroke-width="0.45"/>
<path d="M312.7 66.4L311.5 66.6L310.5 66.5L309.5 66.1L308.7 65.4L308.2 64.6L307.8 63.4L307.7 62.0L307.8 60.6L308.8 58.0L310.5 55.6L312.3 53.9L316.3 51.3L317.9 50.6L319.3 50.7L320.1 51.2L321.3 53.2L321.7 53.5L325.5 53.3L327.7 53.6L329.6 54.4L330.8 55.8L331.6 57.8L331.8 59.4L331.2 60.8L329.9 62.0L328.3 62.6L326.3 62.9L324.3 62.7L320.7 62.2L319.5 62.3L318.5 62.8L314.9 65.5L312.7 66.4Z" fill="none" stroke="#5a62d4" stroke-width="0.5"/>
<path d="M312.9 65.8L311.7 66.0L310.7 65.9L309.7 65.4L309.0 64.8L308.6 64.0L308.2 62.8L308.2 61.6L308.4 60.2L309.4 57.8L311.1 55.6L312.9 54.1L316.9 51.4L318.5 51.1L319.7 51.6L320.2 52.6L320.7 55.0L321.1 55.5L321.9 55.7L324.7 55.5L326.5 55.8L328.3 56.8L329.5 58.3L329.7 59.2L329.6 60.0L329.1 60.6L328.3 61.2L327.1 61.5L325.5 61.6L323.7 61.3L321.1 60.4L320.1 60.5L319.1 61.1L315.5 64.5L314.3 65.3L312.9 65.8Z" fill="none" stroke="#4048cc" stroke-width="0.5"/>
<path d="M312.5 65.4L311.5 65.5L310.5 65.2L309.7 64.7L309.1 63.8L308.7 62.8L308.7 61.6L308.8 60.4L309.4 58.8L310.7 56.6L312.9 54.6L316.7 51.9L317.9 51.6L318.9 51.7L319.6 52.4L319.9 53.6L319.8 57.6L319.4 59.2L318.0 61.4L316.1 63.5L314.3 64.8L312.5 65.4Z" fill="none" stroke="#3038c4" stroke-width="0.5"/>
<circle cx="329.9" cy="49.6" r="0.28" fill="#9aa2ea"/>
<circle cx="329.7" cy="65.2" r="0.28" fill="#9aa2ea"/>
<circle cx="308.7" cy="66.6" r="0.28" fill="#9aa2ea"/>
<circle cx="309.7" cy="67.8" r="0.28" fill="#9aa2ea"/>
<circle cx="328.7" cy="64.0" r="0.28" fill="#9aa2ea"/>
<circle cx="322.3" cy="64.0" r="0.28" fill="#9aa2ea"/>
<circle cx="327.3" cy="48.8" r="0.28" fill="#9aa2ea"/>
<circle cx="327.7" cy="50.2" r="0.28" fill="#9aa2ea"/>
<circle cx="332.3" cy="56.8" r="0.28" fill="#9aa2ea"/>
<circle cx="314.9" cy="51.6" r="0.28" fill="#9aa2ea"/>
<circle cx="333.3" cy="48.6" r="0.28" fill="#9aa2ea"/>
<circle cx="328.1" cy="63.6" r="0.28" fill="#9aa2ea"/>
<circle cx="328.3" cy="63.6" r="0.28" fill="#9aa2ea"/>
<circle cx="318.9" cy="48.6" r="0.28" fill="#9aa2ea"/>
<circle cx="330.1" cy="53.0" r="0.28" fill="#9aa2ea"/>
<circle cx="329.1" cy="49.2" r="0.28" fill="#9aa2ea"/>
<circle cx="307.1" cy="62.8" r="0.28" fill="#9aa2ea"/>
<circle cx="308.7" cy="55.0" r="0.28" fill="#9aa2ea"/>
<circle cx="313.9" cy="50.8" r="0.28" fill="#9aa2ea"/>
<circle cx="331.7" cy="51.6" r="0.28" fill="#9aa2ea"/>
<circle cx="324.5" cy="64.8" r="0.28" fill="#9aa2ea"/>
<circle cx="319.9" cy="63.6" r="0.28" fill="#9aa2ea"/>
<circle cx="332.3" cy="61.6" r="0.28" fill="#9aa2ea"/>
<circle cx="323.9" cy="50.6" r="0.28" fill="#9aa2ea"/>
<circle cx="331.5" cy="55.2" r="0.28" fill="#9aa2ea"/>
<circle cx="307.9" cy="55.6" r="0.28" fill="#9aa2ea"/>
<circle cx="330.1" cy="53.4" r="0.28" fill="#9aa2ea"/>
<circle cx="331.1" cy="64.0" r="0.28" fill="#9aa2ea"/>
<circle cx="313.7" cy="52.8" r="0.28" fill="#9aa2ea"/>
<circle cx="309.5" cy="68.0" r="0.28" fill="#9aa2ea"/>
<path d="M313.1 64.8L312.1 65.0L311.1 64.9L310.3 64.5L309.7 63.8L309.2 62.8L309.1 61.8L309.2 60.6L309.6 59.2L310.9 57.0L312.7 55.2L316.5 52.4L317.5 52.1L318.5 52.1L319.2 52.8L319.4 54.2L319.0 57.8L318.5 59.6L317.5 61.4L316.1 63.0L314.7 64.1L313.1 64.8Z" fill="#2024d4"/>
<path d="M312.7 63.8L311.3 63.6L310.7 63.1L310.3 62.4L310.1 60.8L310.7 58.8L311.8 57.2L313.5 55.6L316.3 53.6L317.1 53.3L317.7 53.3L318.2 53.8L318.4 55.0L317.7 58.2L317.2 60.0L316.3 61.4L315.2 62.6L313.9 63.5L312.7 63.8Z" fill="#18b0f0"/>
<path d="M313.5 62.8L312.1 62.9L311.2 62.2L310.9 60.8L311.3 59.2L312.1 57.8L313.5 56.4L315.9 54.6L316.5 54.4L317.1 54.4L317.5 54.8L317.5 55.6L316.6 59.6L315.3 61.6L314.5 62.3L313.5 62.8Z" fill="#30c838"/>
<path d="M313.3 62.2L312.3 62.1L311.7 61.6L311.5 60.4L311.8 59.2L312.5 58.1L313.5 57.1L315.3 55.8L316.3 55.5L316.6 55.8L316.7 56.6L316.4 58.4L315.9 59.8L314.8 61.4L313.3 62.2Z" fill="#f4f000"/>
<path d="M313.5 61.6L312.7 61.6L312.1 61.0L312.0 60.2L312.3 59.2L313.0 58.2L313.9 57.3L315.1 56.6L315.7 56.6L315.9 56.8L316.0 57.6L315.6 59.6L314.7 60.9L313.5 61.6Z" fill="#ff9a00"/>
<path d="M313.9 60.8L313.3 61.0L312.8 60.8L312.6 60.2L312.7 59.6L313.6 58.2L314.3 57.7L315.0 57.6L315.3 58.0L315.2 59.2L314.7 60.2L313.9 60.8Z" fill="#f01010"/>
<text x="299.60" y="40.10" font-size="3.6" fill="#7c72c2" text-anchor="end">10</text><text x="299.60" y="39.00" font-size="2.23" fill="#7c72c2">1</text>
<text x="299.60" y="49.70" font-size="3.6" fill="#7c72c2" text-anchor="end">10</text><text x="299.60" y="48.60" font-size="2.23" fill="#7c72c2">2</text>
<text x="299.60" y="59.30" font-size="3.6" fill="#7c72c2" text-anchor="end">10</text><text x="299.60" y="58.20" font-size="2.23" fill="#7c72c2">3</text>
<text x="299.60" y="68.90" font-size="3.6" fill="#7c72c2" text-anchor="end">10</text><text x="299.60" y="67.80" font-size="2.23" fill="#7c72c2">4</text>
<text x="303.30" y="73.90" font-size="3.6" fill="#7c72c2" text-anchor="middle">10</text><text x="305.00" y="72.80" font-size="2.23" fill="#7c72c2">1</text>
<text x="313.17" y="73.90" font-size="3.6" fill="#7c72c2" text-anchor="middle">10</text><text x="314.87" y="72.80" font-size="2.23" fill="#7c72c2">2</text>
<text x="323.03" y="73.90" font-size="3.6" fill="#7c72c2" text-anchor="middle">10</text><text x="324.73" y="72.80" font-size="2.23" fill="#7c72c2">3</text>
<text x="332.90" y="73.90" font-size="3.6" fill="#7c72c2" text-anchor="middle">10</text><text x="334.60" y="72.80" font-size="2.23" fill="#7c72c2">4</text>
<line x1="316.5" y1="38.5" x2="316.5" y2="68.5" stroke="#5a5a5a" stroke-width="0.5"/>
<line x1="302.3" y1="54.2" x2="333.4" y2="54.2" stroke="#8a8a8a" stroke-width="0.6"/>
<path d="M302.3 38.5V68.5H333.4" fill="none" stroke="#5f6c9c" stroke-width="1.0"/>
<text x="302.90000000000003" y="42.308" font-size="3.6" text-anchor="start" font-weight="bold" fill="#111" stroke="#111" stroke-width="0.08" >5.23%</text>
<text x="333.09999999999997" y="42.308" font-size="3.6" text-anchor="end" font-weight="bold" fill="#111" stroke="#111" stroke-width="0.08" >12.58%</text>
<text x="302.90000000000003" y="67.6" font-size="3.6" text-anchor="start" font-weight="bold" fill="#111" stroke="#111" stroke-width="0.08" >63.59%</text>
<text x="333.09999999999997" y="67.6" font-size="3.6" text-anchor="end" font-weight="bold" fill="#111" stroke="#111" stroke-width="0.08" >22.61%</text>
<path d="M312.5 104.2L310.3 104.1L308.6 103.2L307.9 102.4L307.6 101.6L307.4 99.6L308.2 97.2L309.6 95.2L311.5 93.5L313.9 92.1L315.9 91.5L318.3 91.3L320.3 91.7L322.9 92.8L326.5 92.8L328.7 93.0L330.3 93.4L331.5 93.9L332.4 94.6L333.0 95.4L333.2 97.0L332.6 98.8L331.3 100.4L329.5 101.5L327.9 102.0L326.1 102.3L318.9 102.3L314.3 103.9L312.5 104.2Z" fill="none" stroke="#8088dc" stroke-width="0.45"/>
<path d="M312.7 103.6L310.7 103.5L309.1 102.6L308.2 101.2L308.1 99.4L308.8 97.4L310.2 95.4L312.1 93.7L314.3 92.5L316.9 91.9L319.5 92.1L320.7 92.6L322.5 94.1L326.5 94.2L328.9 94.7L330.3 95.6L331.0 96.6L331.1 97.8L330.7 99.0L329.8 100.0L328.5 100.7L327.1 101.1L325.7 101.3L320.9 100.9L319.7 100.9L318.7 101.2L314.9 103.1L312.7 103.6Z" fill="none" stroke="#5a62d4" stroke-width="0.5"/>
<path d="M313.5 103.0L311.5 103.1L309.9 102.5L308.9 101.2L308.7 99.4L309.2 97.6L310.5 95.6L312.5 93.9L314.5 92.9L317.1 92.3L319.3 92.5L320.7 93.4L321.7 95.3L322.1 95.7L325.3 95.5L326.9 95.7L328.3 96.2L329.1 97.2L329.3 98.0L329.0 98.8L328.4 99.4L327.5 99.9L326.3 100.1L324.9 100.1L321.3 99.3L320.5 99.4L319.5 99.8L315.9 102.1L313.5 103.0Z" fill="none" stroke="#4048cc" stroke-width="0.5"/>
<path d="M313.3 102.6L312.1 102.7L310.9 102.4L310.1 102.0L309.5 101.2L309.2 100.2L309.2 99.0L309.6 97.8L310.2 96.6L312.1 94.6L314.5 93.3L315.9 92.9L317.5 92.7L318.7 92.8L319.7 93.2L320.4 94.0L320.8 95.2L320.6 96.8L320.1 98.0L318.7 99.6L316.9 101.1L315.1 102.1L313.3 102.6Z" fill="none" stroke="#3038c4" stroke-width="0.5"/>
<circle cx="319.1" cy="91.0" r="0.28" fill="#9aa2ea"/>
<circle cx="328.9" cy="94.0" r="0.28" fill="#9aa2ea"/>
<circle cx="306.3" cy="100.4" r="0.28" fill="#9aa2ea"/>
<circle cx="329.5" cy="91.8" r="0.28" fill="#9aa2ea"/>
<circle cx="332.7" cy="94.6" r="0.28" fill="#9aa2ea"/>
<circle cx="330.3" cy="100.2" r="0.28" fill="#9aa2ea"/>
<circle cx="329.9" cy="92.0" r="0.28" fill="#9aa2ea"/>
<circle cx="330.3" cy="100.6" r="0.28" fill="#9aa2ea"/>
<circle cx="320.3" cy="90.6" r="0.28" fill="#9aa2ea"/>
<circle cx="332.3" cy="95.0" r="0.28" fill="#9aa2ea"/>
<circle cx="332.1" cy="98.0" r="0.28" fill="#9aa2ea"/>
<circle cx="324.5" cy="90.6" r="0.28" fill="#9aa2ea"/>
<circle cx="311.9" cy="104.8" r="0.28" fill="#9aa2ea"/>
<circle cx="329.5" cy="90.8" r="0.28" fill="#9aa2ea"/>
<circle cx="328.7" cy="90.6" r="0.28" fill="#9aa2ea"/>
<circle cx="316.3" cy="90.8" r="0.28" fill="#9aa2ea"/>
<circle cx="315.1" cy="105.0" r="0.28" fill="#9aa2ea"/>
<circle cx="329.3" cy="101.4" r="0.28" fill="#9aa2ea"/>
<circle cx="317.3" cy="103.2" r="0.28" fill="#9aa2ea"/>
<circle cx="325.7" cy="101.6" r="0.28" fill="#9aa2ea"/>
<circle cx="319.5" cy="90.2" r="0.28" fill="#9aa2ea"/>
<circle cx="317.3" cy="103.0" r="0.28" fill="#9aa2ea"/>
<circle cx="329.7" cy="100.6" r="0.28" fill="#9aa2ea"/>
<circle cx="319.5" cy="101.4" r="0.28" fill="#9aa2ea"/>
<circle cx="328.1" cy="92.0" r="0.28" fill="#9aa2ea"/>
<circle cx="326.9" cy="101.6" r="0.28" fill="#9aa2ea"/>
<circle cx="324.5" cy="93.2" r="0.28" fill="#9aa2ea"/>
<circle cx="322.3" cy="92.6" r="0.28" fill="#9aa2ea"/>
<circle cx="323.5" cy="103.2" r="0.28" fill="#9aa2ea"/>
<circle cx="324.3" cy="101.8" r="0.28" fill="#9aa2ea"/>
<path d="M313.3 102.2L312.1 102.3L311.1 102.0L310.3 101.5L309.8 100.8L309.6 99.8L309.7 98.8L310.0 97.8L310.7 96.6L312.5 94.7L314.9 93.5L317.5 93.1L318.7 93.3L319.4 93.6L320.1 94.4L320.2 95.6L320.0 96.8L319.2 98.2L318.0 99.6L316.5 100.9L314.9 101.8L313.3 102.2Z" fill="#2024d4"/>
<path d="M313.7 101.2L312.7 101.3L311.9 101.1L310.9 100.2L310.7 99.4L310.7 98.6L311.6 96.8L312.9 95.4L314.7 94.4L316.9 94.0L317.9 94.1L318.5 94.3L319.0 95.0L319.1 95.8L318.9 96.8L318.2 98.0L317.2 99.2L316.1 100.1L314.9 100.8L313.7 101.2Z" fill="#18b0f0"/>
<path d="M314.1 100.4L312.7 100.5L312.1 100.2L311.7 99.7L311.5 99.2L311.5 98.4L312.2 97.0L313.3 95.9L314.9 95.0L316.7 94.6L317.9 94.9L318.3 95.4L318.4 96.0L318.2 96.8L317.6 97.8L315.9 99.6L314.1 100.4Z" fill="#30c838"/>
<path d="M314.3 99.8L313.1 99.9L312.4 99.4L312.2 98.4L312.7 97.2L313.7 96.2L314.9 95.5L316.3 95.2L317.3 95.4L317.7 96.2L317.2 97.6L315.9 99.0L314.3 99.8Z" fill="#f4f000"/>
<path d="M313.9 99.4L313.1 99.2L312.7 98.6L312.9 97.8L313.4 97.0L314.3 96.2L315.3 95.8L316.3 95.7L316.9 95.9L317.1 96.2L317.1 96.8L316.4 98.0L315.1 99.0L313.9 99.4Z" fill="#ff9a00"/>
<path d="M314.3 98.8L313.7 98.7L313.4 98.4L313.4 97.8L313.8 97.2L315.1 96.3L315.9 96.2L316.4 96.4L316.5 97.0L316.0 97.8L315.1 98.5L314.3 98.8Z" fill="#f01010"/>
<text x="299.60" y="79.30" font-size="3.6" fill="#7c72c2" text-anchor="end">10</text><text x="299.60" y="78.20" font-size="2.23" fill="#7c72c2">1</text>
<text x="299.60" y="88.67" font-size="3.6" fill="#7c72c2" text-anchor="end">10</text><text x="299.60" y="87.57" font-size="2.23" fill="#7c72c2">2</text>
<text x="299.60" y="98.03" font-size="3.6" fill="#7c72c2" text-anchor="end">10</text><text x="299.60" y="96.93" font-size="2.23" fill="#7c72c2">3</text>
<text x="299.60" y="107.40" font-size="3.6" fill="#7c72c2" text-anchor="end">10</text><text x="299.60" y="106.30" font-size="2.23" fill="#7c72c2">4</text>
<text x="303.30" y="112.40" font-size="3.6" fill="#7c72c2" text-anchor="middle">10</text><text x="305.00" y="111.30" font-size="2.23" fill="#7c72c2">1</text>
<text x="313.17" y="112.40" font-size="3.6" fill="#7c72c2" text-anchor="middle">10</text><text x="314.87" y="111.30" font-size="2.23" fill="#7c72c2">2</text>
<text x="323.03" y="112.40" font-size="3.6" fill="#7c72c2" text-anchor="middle">10</text><text x="324.73" y="111.30" font-size="2.23" fill="#7c72c2">3</text>
<text x="332.90" y="112.40" font-size="3.6" fill="#7c72c2" text-anchor="middle">10</text><text x="334.60" y="111.30" font-size="2.23" fill="#7c72c2">4</text>
<line x1="316.5" y1="77.7" x2="316.5" y2="107" stroke="#5a5a5a" stroke-width="0.5"/>
<line x1="302.3" y1="94" x2="333.4" y2="94" stroke="#8a8a8a" stroke-width="0.6"/>
<path d="M302.3 77.7V107H333.4" fill="none" stroke="#5f6c9c" stroke-width="1.0"/>
<text x="302.90000000000003" y="81.50800000000001" font-size="3.6" text-anchor="start" font-weight="bold" fill="#111" stroke="#111" stroke-width="0.08" >0.04%</text>
<text x="333.09999999999997" y="81.50800000000001" font-size="3.6" text-anchor="end" font-weight="bold" fill="#111" stroke="#111" stroke-width="0.08" >0.81%</text>
<text x="302.90000000000003" y="106.1" font-size="3.6" text-anchor="start" font-weight="bold" fill="#111" stroke="#111" stroke-width="0.08" >76.93%</text>
<text x="333.09999999999997" y="106.1" font-size="3.6" text-anchor="end" font-weight="bold" fill="#111" stroke="#111" stroke-width="0.08" >22.23%</text>
<path d="M312.7 145.3L311.3 145.5L310.1 145.4L308.9 144.9L307.9 144.1L307.2 143.1L306.8 141.7L306.7 140.3L307.0 138.7L308.0 136.3L309.8 134.1L316.9 128.8L318.3 128.2L319.7 128.0L320.7 128.6L321.7 130.1L322.3 130.6L326.7 130.4L329.5 130.6L332.0 131.5L332.8 132.1L333.5 132.9L333.5 139.0L332.6 140.3L331.3 141.3L329.3 142.2L327.3 142.6L318.7 142.8L317.3 143.3L314.3 144.8L312.7 145.3Z" fill="none" stroke="#8088dc" stroke-width="0.45"/>
<path d="M312.5 144.7L311.3 144.8L310.1 144.6L309.1 144.2L308.2 143.3L307.7 142.3L307.4 141.1L307.4 139.7L307.8 138.3L308.7 136.3L310.4 134.3L313.7 131.9L316.3 129.8L317.5 129.0L318.9 128.7L319.5 128.8L320.1 129.1L320.6 129.9L321.1 131.9L321.5 132.4L325.7 132.3L328.1 132.6L330.1 133.6L330.8 134.3L331.4 135.3L332.0 136.9L331.8 138.5L331.1 139.7L329.7 140.7L328.1 141.3L326.3 141.5L320.5 141.1L319.3 141.2L318.3 141.6L314.9 143.9L312.5 144.7Z" fill="none" stroke="#5a62d4" stroke-width="0.5"/>
<path d="M312.9 144.1L311.7 144.3L310.7 144.2L309.7 143.8L308.8 143.1L308.2 142.1L308.0 141.1L307.9 139.9L308.2 138.5L309.2 136.5L310.6 134.7L313.9 132.3L316.3 130.2L317.5 129.5L318.9 129.3L319.5 129.5L319.9 129.9L320.3 131.1L320.3 133.8L320.7 134.6L321.5 134.7L324.7 134.3L326.7 134.5L328.7 135.5L329.8 136.9L330.0 137.7L329.8 138.5L329.2 139.3L328.3 139.8L326.9 140.2L325.3 140.3L323.5 140.0L320.9 139.3L319.9 139.3L319.1 139.8L315.7 142.8L314.3 143.6L312.9 144.1Z" fill="none" stroke="#4048cc" stroke-width="0.5"/>
<path d="M312.7 143.7L311.5 143.8L310.5 143.6L309.6 143.1L308.9 142.3L308.5 141.3L308.4 140.1L309.0 137.7L309.8 136.3L310.9 135.0L313.9 132.7L316.1 130.8L317.7 129.9L318.5 129.8L319.0 129.9L319.6 130.5L319.9 131.7L319.4 134.7L319.4 136.9L319.0 138.3L317.9 140.1L316.2 141.9L314.5 143.1L312.7 143.7Z" fill="none" stroke="#3038c4" stroke-width="0.5"/>
<circle cx="307.3" cy="136.5" r="0.28" fill="#9aa2ea"/>
<circle cx="327.9" cy="128.3" r="0.28" fill="#9aa2ea"/>
<circle cx="307.1" cy="144.9" r="0.28" fill="#9aa2ea"/>
<circle cx="320.1" cy="145.1" r="0.28" fill="#9aa2ea"/>
<circle cx="315.3" cy="145.7" r="0.28" fill="#9aa2ea"/>
<circle cx="329.7" cy="129.9" r="0.28" fill="#9aa2ea"/>
<circle cx="331.5" cy="129.3" r="0.28" fill="#9aa2ea"/>
<circle cx="306.7" cy="135.9" r="0.28" fill="#9aa2ea"/>
<circle cx="327.9" cy="141.9" r="0.28" fill="#9aa2ea"/>
<circle cx="320.3" cy="142.3" r="0.28" fill="#9aa2ea"/>
<circle cx="332.1" cy="132.9" r="0.28" fill="#9aa2ea"/>
<circle cx="322.9" cy="130.5" r="0.28" fill="#9aa2ea"/>
<circle cx="322.3" cy="129.3" r="0.28" fill="#9aa2ea"/>
<circle cx="325.1" cy="143.1" r="0.28" fill="#9aa2ea"/>
<circle cx="327.3" cy="129.9" r="0.28" fill="#9aa2ea"/>
<circle cx="330.3" cy="130.9" r="0.28" fill="#9aa2ea"/>
<circle cx="322.7" cy="131.5" r="0.28" fill="#9aa2ea"/>
<circle cx="306.5" cy="143.5" r="0.28" fill="#9aa2ea"/>
<circle cx="306.5" cy="141.7" r="0.28" fill="#9aa2ea"/>
<circle cx="321.7" cy="131.3" r="0.28" fill="#9aa2ea"/>
<circle cx="323.5" cy="141.9" r="0.28" fill="#9aa2ea"/>
<circle cx="326.1" cy="144.5" r="0.28" fill="#9aa2ea"/>
<circle cx="333.3" cy="136.9" r="0.28" fill="#9aa2ea"/>
<circle cx="330.9" cy="130.5" r="0.28" fill="#9aa2ea"/>
<circle cx="326.3" cy="141.7" r="0.28" fill="#9aa2ea"/>
<circle cx="324.9" cy="130.3" r="0.28" fill="#9aa2ea"/>
<circle cx="306.3" cy="141.7" r="0.28" fill="#9aa2ea"/>
<circle cx="332.7" cy="136.9" r="0.28" fill="#9aa2ea"/>
<circle cx="330.9" cy="133.1" r="0.28" fill="#9aa2ea"/>
<circle cx="321.1" cy="127.1" r="0.28" fill="#9aa2ea"/>
<path d="M312.5 143.3L311.5 143.3L310.5 143.1L309.7 142.5L309.3 141.9L308.9 141.1L308.8 139.9L309.0 138.7L309.5 137.5L311.1 135.3L316.1 131.2L317.5 130.4L318.7 130.4L319.3 131.1L319.4 132.3L318.6 137.3L318.0 138.9L317.0 140.5L315.7 141.8L314.1 142.8L312.5 143.3Z" fill="#2024d4"/>
<path d="M313.3 142.1L312.3 142.3L311.5 142.2L310.9 141.9L310.3 141.3L309.9 140.5L309.8 139.7L310.3 137.9L311.1 136.5L312.3 135.3L316.3 132.2L317.1 131.8L317.7 131.7L318.1 132.1L318.2 133.1L317.0 138.7L316.4 139.7L315.5 140.8L314.5 141.6L313.3 142.1Z" fill="#18b0f0"/>
<path d="M313.5 141.3L312.1 141.5L311.1 140.9L310.6 139.7L310.9 138.1L311.6 136.9L312.7 135.8L316.1 133.4L316.9 133.3L317.1 134.1L316.6 137.5L316.2 138.7L315.1 140.3L313.5 141.3Z" fill="#30c838"/>
<path d="M313.5 140.7L312.3 140.8L311.5 140.3L311.2 139.5L311.4 138.3L311.9 137.3L312.9 136.3L314.7 135.2L315.7 135.0L316.0 135.3L316.1 136.1L315.8 138.3L314.9 139.8L313.5 140.7Z" fill="#f4f000"/>
<path d="M313.7 140.1L312.9 140.3L312.1 140.0L311.7 139.3L311.9 138.3L312.4 137.3L313.3 136.5L314.3 136.0L315.1 136.0L315.4 136.3L315.5 136.9L315.3 138.3L314.7 139.3L313.7 140.1Z" fill="#ff9a00"/>
<path d="M313.7 139.5L313.1 139.7L312.6 139.5L312.3 139.1L312.3 138.5L313.1 137.3L313.9 136.8L314.5 136.7L314.9 137.2L314.9 138.1L314.5 138.9L313.7 139.5Z" fill="#f01010"/>
<text x="299.60" y="118.60" font-size="3.6" fill="#7c72c2" text-anchor="end">10</text><text x="299.60" y="117.50" font-size="2.23" fill="#7c72c2">1</text>
<text x="299.60" y="127.87" font-size="3.6" fill="#7c72c2" text-anchor="end">10</text><text x="299.60" y="126.77" font-size="2.23" fill="#7c72c2">2</text>
<text x="299.60" y="137.13" font-size="3.6" fill="#7c72c2" text-anchor="end">10</text><text x="299.60" y="136.03" font-size="2.23" fill="#7c72c2">3</text>
<text x="299.60" y="146.40" font-size="3.6" fill="#7c72c2" text-anchor="end">10</text><text x="299.60" y="145.30" font-size="2.23" fill="#7c72c2">4</text>
<text x="303.30" y="151.40" font-size="3.6" fill="#7c72c2" text-anchor="middle">10</text><text x="305.00" y="150.30" font-size="2.23" fill="#7c72c2">1</text>
<text x="313.17" y="151.40" font-size="3.6" fill="#7c72c2" text-anchor="middle">10</text><text x="314.87" y="150.30" font-size="2.23" fill="#7c72c2">2</text>
<text x="323.03" y="151.40" font-size="3.6" fill="#7c72c2" text-anchor="middle">10</text><text x="324.73" y="150.30" font-size="2.23" fill="#7c72c2">3</text>
<text x="332.90" y="151.40" font-size="3.6" fill="#7c72c2" text-anchor="middle">10</text><text x="334.60" y="150.30" font-size="2.23" fill="#7c72c2">4</text>
<line x1="316.5" y1="117" x2="316.5" y2="146" stroke="#5a5a5a" stroke-width="0.5"/>
<line x1="302.3" y1="132.5" x2="333.4" y2="132.5" stroke="#8a8a8a" stroke-width="0.6"/>
<path d="M302.3 117V146H333.4" fill="none" stroke="#5f6c9c" stroke-width="1.0"/>
<text x="302.90000000000003" y="120.808" font-size="3.6" text-anchor="start" font-weight="bold" fill="#111" stroke="#111" stroke-width="0.08" >1.11%</text>
<text x="333.09999999999997" y="120.808" font-size="3.6" text-anchor="end" font-weight="bold" fill="#111" stroke="#111" stroke-width="0.08" >10.43%</text>
<text x="302.90000000000003" y="145.1" font-size="3.6" text-anchor="start" font-weight="bold" fill="#111" stroke="#111" stroke-width="0.08" >68.14%</text>
<text x="333.09999999999997" y="145.1" font-size="3.6" text-anchor="end" font-weight="bold" fill="#111" stroke="#111" stroke-width="0.08" >20.32%</text>
<line x1="289.5" y1="133.5" x2="289.5" y2="44.5" stroke="#111" stroke-width="1.3"/>
<path d="M289.5 41.5L291.9 46.5L287.1 46.5Z" fill="#111"/>
<text x="281.9" y="56.2" font-size="7.0" text-anchor="middle" font-weight="normal" fill="#111" textLength="4.02" lengthAdjust="spacingAndGlyphs" stroke="#111" stroke-width="0.12" >V</text>
<text x="281.7" y="98.5" font-size="7.0" text-anchor="middle" font-weight="normal" fill="#111" textLength="4.35" lengthAdjust="spacingAndGlyphs" stroke="#111" stroke-width="0.12" >D</text>
<text x="281.7" y="133.1" font-size="7.0" text-anchor="middle" font-weight="normal" fill="#111" textLength="4.02" lengthAdjust="spacingAndGlyphs" stroke="#111" stroke-width="0.12" >K</text>
<text transform="translate(292.28,146.3) rotate(-90)" x="0" y="0" font-size="8.0" text-anchor="middle" fill="#111" stroke="#111" stroke-width="0.1" textLength="15.0" lengthAdjust="spacingAndGlyphs">FoxP3</text>
<text x="311" y="162.3" font-size="8.2" text-anchor="start" font-weight="normal" fill="#111" textLength="13.8" lengthAdjust="spacingAndGlyphs" stroke="#111" stroke-width="0.3" >CD25</text>
<text transform="translate(352.18,97.5) rotate(-90)" x="0" y="0" font-size="8.0" text-anchor="middle" fill="#111" stroke="#111" stroke-width="0.16" textLength="17" lengthAdjust="spacingAndGlyphs">% treg</text>
<path d="M370.3 53V142.6H413" fill="none" stroke="#111" stroke-width="1.3"/>
<line x1="367.5" y1="55.4" x2="370.3" y2="55.4" stroke="#111" stroke-width="1.3"/>
<text x="364.1" y="57.977599999999995" font-size="7.2" text-anchor="end" font-weight="normal" fill="#1a1a1a" textLength="6.90" lengthAdjust="spacingAndGlyphs" stroke="#1a1a1a" stroke-width="0.12" >15</text>
<line x1="367.5" y1="84.6" x2="370.3" y2="84.6" stroke="#111" stroke-width="1.3"/>
<text x="364.1" y="87.1776" font-size="7.2" text-anchor="end" font-weight="normal" fill="#1a1a1a" textLength="6.90" lengthAdjust="spacingAndGlyphs" stroke="#1a1a1a" stroke-width="0.12" >10</text>
<line x1="367.5" y1="113.5" x2="370.3" y2="113.5" stroke="#111" stroke-width="1.3"/>
<text x="364.1" y="116.0776" font-size="7.2" text-anchor="end" font-weight="normal" fill="#1a1a1a" textLength="3.45" lengthAdjust="spacingAndGlyphs" stroke="#1a1a1a" stroke-width="0.12" >5</text>
<line x1="367.5" y1="142.6" x2="370.3" y2="142.6" stroke="#111" stroke-width="1.3"/>
<text x="364.1" y="145.17759999999998" font-size="7.2" text-anchor="end" font-weight="normal" fill="#1a1a1a" textLength="3.45" lengthAdjust="spacingAndGlyphs" stroke="#1a1a1a" stroke-width="0.12" >0</text>
<line x1="380.5" y1="142.6" x2="380.5" y2="145.4" stroke="#111" stroke-width="1.3"/>
<text x="380.5" y="154.5" font-size="7.0" text-anchor="middle" font-weight="normal" fill="#1a1a1a" textLength="4.11" lengthAdjust="spacingAndGlyphs" stroke="#1a1a1a" stroke-width="0.12" >V</text>
<line x1="391.5" y1="142.6" x2="391.5" y2="145.4" stroke="#111" stroke-width="1.3"/>
<text x="391.5" y="154.5" font-size="7.0" text-anchor="middle" font-weight="normal" fill="#1a1a1a" textLength="4.45" lengthAdjust="spacingAndGlyphs" stroke="#1a1a1a" stroke-width="0.12" >D</text>
<line x1="402.8" y1="142.6" x2="402.8" y2="145.4" stroke="#111" stroke-width="1.3"/>
<text x="405.4" y="154.5" font-size="7.0" text-anchor="middle" font-weight="normal" fill="#1a1a1a" textLength="4.11" lengthAdjust="spacingAndGlyphs" stroke="#1a1a1a" stroke-width="0.12" >K</text>
<path d="M380.3 64.3V61.5H392V64.3" fill="none" stroke="#222" stroke-width="1.0"/>
<text x="386.15" y="61.2" font-size="6.2" text-anchor="middle" font-weight="normal" fill="#222" stroke="#222" stroke-width="0.25" >**</text>
<path d="M380.4 77.2V85.5M378.4 77.2H382.4M378.4 85.5H382.4" stroke="#58a834" stroke-width="0.7" fill="none"/>
<line x1="376.4" y1="81.5" x2="384.4" y2="81.5" stroke="#333" stroke-width="1.1"/>
<circle cx="377.4" cy="72.2" r="1.67" fill="#58a834"/>
<circle cx="380.4" cy="74.2" r="1.67" fill="#58a834"/>
<circle cx="383.3" cy="81.7" r="1.67" fill="#58a834"/>
<circle cx="380.3" cy="85.3" r="1.67" fill="#58a834"/>
<circle cx="380.3" cy="94.4" r="1.67" fill="#58a834"/>
<rect x="387.63" y="140.23" width="2.73" height="2.73" fill="#b01038"/>
<rect x="390.13" y="139.23" width="2.73" height="2.73" fill="#b01038"/>
<rect x="392.63" y="140.44" width="2.73" height="2.73" fill="#b01038"/>
<rect x="389.13" y="140.83" width="2.73" height="2.73" fill="#b01038"/>
<rect x="391.24" y="140.63" width="2.73" height="2.73" fill="#b01038"/>
<path d="M402.8 83V86.5M400.8 83H404.8M400.8 86.5H404.8" stroke="#1e4390" stroke-width="0.7" fill="none"/>
<line x1="398.55" y1="84.4" x2="407.05" y2="84.4" stroke="#333" stroke-width="1.1"/>
<path d="M399.8 78.05L401.74 81.46L397.86 81.46Z" fill="#1e4390"/>
<path d="M405.5 79.35L407.44 82.76L403.56 82.76Z" fill="#1e4390"/>
<path d="M402.9 82.35L404.84 85.76L400.96 85.76Z" fill="#1e4390"/>
<path d="M399.8 87.15L401.74 90.56L397.86 90.56Z" fill="#1e4390"/>
<path d="M405.9 85.15L407.84 88.56L403.96 88.56Z" fill="#1e4390"/>
<text x="6.5" y="189.8" font-size="11.2" text-anchor="start" font-weight="bold" fill="#000" stroke="#000" stroke-width="0.25" >D</text>
<text x="18" y="202.5" font-size="6.5" text-anchor="start" font-weight="normal" fill="#111" textLength="109.7" lengthAdjust="spacingAndGlyphs" stroke="#111" stroke-width="0.06" >CD4<tspan font-size="4.8" baseline-shift="2.2">+</tspan>CD25<tspan font-size="4.8" baseline-shift="2.2">+</tspan>CD127<tspan font-size="4.8" baseline-shift="2.2">lo</tspan>/FoxP3 gated cells</text>
<rect x="37.4" y="212.4" width="17.200000000000003" height="24.099999999999994" fill="none" stroke="#4a5ae0" stroke-width="0.6"/>
<path d="M36.4 232.6L34.4 232.6L32.6 232.1L31.2 231.4L30.2 230.4L29.6 229.2L29.6 227.8L30.2 226.6L31.2 225.7L32.6 224.9L34.0 224.5L35.6 224.4L37.2 224.5L42.2 225.3L44.8 225.9L48.2 227.1L49.0 227.6L49.4 228.2L49.3 229.0L48.6 229.7L44.6 231.3L41.4 232.1L36.4 232.6Z" fill="none" stroke="#a4aaea" stroke-width="0.35"/>
<path d="M37.8 232.0L36.0 232.2L34.4 232.1L33.0 231.7L31.6 231.0L30.7 230.0L30.3 229.0L30.3 227.8L30.8 226.8L31.8 225.9L33.0 225.3L34.6 224.9L36.4 224.9L43.4 226.1L46.4 227.2L47.6 228.2L47.6 228.8L47.1 229.4L44.4 230.7L41.8 231.5L37.8 232.0Z" fill="none" stroke="#7e86e4" stroke-width="0.4"/>
<path d="M38.0 231.6L36.2 231.8L34.6 231.7L33.2 231.4L32.2 230.8L31.3 230.0L30.9 229.2L30.8 228.2L31.2 227.2L32.0 226.3L33.2 225.7L34.6 225.3L36.2 225.2L42.6 226.3L44.7 227.2L46.0 228.2L46.0 228.6L45.7 229.2L43.6 230.5L41.6 231.1L38.0 231.6Z" fill="none" stroke="#5560dc" stroke-width="0.4"/>
<circle cx="38.0" cy="224.8" r="0.28" fill="#9aa2ea"/>
<circle cx="32.6" cy="232.4" r="0.28" fill="#9aa2ea"/>
<circle cx="33.4" cy="233.2" r="0.28" fill="#9aa2ea"/>
<circle cx="34.2" cy="223.6" r="0.28" fill="#9aa2ea"/>
<circle cx="40.8" cy="224.2" r="0.28" fill="#9aa2ea"/>
<circle cx="35.0" cy="223.6" r="0.28" fill="#9aa2ea"/>
<circle cx="32.6" cy="224.6" r="0.28" fill="#9aa2ea"/>
<circle cx="44.4" cy="231.8" r="0.28" fill="#9aa2ea"/>
<circle cx="45.4" cy="225.2" r="0.28" fill="#9aa2ea"/>
<circle cx="51.0" cy="228.8" r="0.28" fill="#9aa2ea"/>
<path d="M37.2 231.6L35.6 231.7L34.2 231.6L33.0 231.2L32.0 230.6L31.3 229.8L30.9 228.8L31.0 227.8L31.5 227.0L32.2 226.3L33.4 225.7L34.8 225.4L36.4 225.3L42.6 226.4L44.6 227.3L45.6 228.2L45.6 228.8L45.2 229.4L43.2 230.5L41.2 231.1L37.2 231.6Z" fill="#2024d4"/>
<path d="M37.8 230.8L35.2 231.0L33.2 230.4L32.5 229.8L32.0 229.0L32.0 228.4L32.2 227.6L32.8 226.9L33.8 226.4L35.0 226.1L36.2 226.0L41.4 227.0L42.7 227.6L43.3 228.2L43.3 229.0L42.2 229.8L40.8 230.3L37.8 230.8Z" fill="#18b0f0"/>
<path d="M37.2 230.4L35.2 230.5L33.7 230.0L32.8 229.0L32.7 228.4L32.9 227.8L33.4 227.2L34.2 226.8L36.2 226.5L40.6 227.5L41.4 227.9L41.9 228.4L41.8 229.0L41.0 229.5L37.2 230.4Z" fill="#30c838"/>
<path d="M37.2 230.0L35.6 230.1L34.2 229.8L33.4 229.0L33.4 228.0L34.4 227.1L36.0 226.9L39.0 227.6L40.1 228.0L40.5 228.4L40.5 228.8L40.0 229.2L37.2 230.0Z" fill="#f4f000"/>
<path d="M36.0 229.8L34.8 229.6L34.1 229.2L33.8 228.4L34.1 227.8L35.0 227.3L36.4 227.3L38.2 227.8L39.1 228.4L39.0 228.8L38.4 229.2L37.2 229.6L36.0 229.8Z" fill="#ff9a00"/>
<path d="M36.4 229.4L35.4 229.4L34.8 229.2L34.4 228.8L34.4 228.2L35.0 227.8L35.8 227.6L37.0 227.8L37.7 228.2L37.9 228.6L37.8 228.8L36.4 229.4Z" fill="#f01010"/>
<text x="22.80" y="210.40" font-size="3.4" fill="#9a98b8" text-anchor="end">10</text><text x="22.80" y="209.30" font-size="2.11" fill="#9a98b8">1</text>
<text x="22.80" y="219.23" font-size="3.4" fill="#9a98b8" text-anchor="end">10</text><text x="22.80" y="218.13" font-size="2.11" fill="#9a98b8">2</text>
<text x="22.80" y="228.07" font-size="3.4" fill="#9a98b8" text-anchor="end">10</text><text x="22.80" y="226.97" font-size="2.11" fill="#9a98b8">3</text>
<text x="22.80" y="236.90" font-size="3.4" fill="#9a98b8" text-anchor="end">10</text><text x="22.80" y="235.80" font-size="2.11" fill="#9a98b8">4</text>
<text x="25.60" y="240.80" font-size="3.4" fill="#9a98b8" text-anchor="middle">10</text><text x="27.30" y="239.70" font-size="2.11" fill="#9a98b8">1</text>
<text x="35.10" y="240.80" font-size="3.4" fill="#9a98b8" text-anchor="middle">10</text><text x="36.80" y="239.70" font-size="2.11" fill="#9a98b8">2</text>
<text x="44.60" y="240.80" font-size="3.4" fill="#9a98b8" text-anchor="middle">10</text><text x="46.30" y="239.70" font-size="2.11" fill="#9a98b8">3</text>
<text x="54.10" y="240.80" font-size="3.4" fill="#9a98b8" text-anchor="middle">10</text><text x="55.80" y="239.70" font-size="2.11" fill="#9a98b8">4</text>
<path d="M24.6 208.8V236.5H54.6" fill="none" stroke="#8a94b8" stroke-width="1.6"/>
<text x="46.0" y="210.5" font-size="3.2" text-anchor="middle" font-weight="bold" fill="#3040e0" textLength="21" lengthAdjust="spacingAndGlyphs" stroke="#3040e0" stroke-width="0.06" >CD38+: 96.32%</text>
<rect x="37.5" y="249.4" width="17.299999999999997" height="24.099999999999994" fill="none" stroke="#4a5ae0" stroke-width="0.6"/>
<path d="M37.4 269.4L35.4 269.5L33.6 269.3L32.0 268.7L30.8 267.9L29.9 266.8L29.6 265.6L29.7 264.4L30.5 263.2L31.6 262.3L33.0 261.7L34.8 261.3L36.6 261.3L41.8 262.1L44.4 262.7L48.0 263.9L48.9 264.4L49.4 265.0L49.4 265.6L49.1 266.2L47.0 267.3L42.6 268.7L37.4 269.4Z" fill="none" stroke="#a4aaea" stroke-width="0.35"/>
<path d="M37.0 269.0L35.4 269.1L33.8 268.9L32.4 268.4L31.3 267.6L30.5 266.6L30.2 265.6L30.4 264.4L31.1 263.4L32.0 262.7L33.4 262.0L35.0 261.8L36.8 261.8L41.4 262.5L43.6 263.0L46.5 264.2L47.2 264.6L47.6 265.2L47.6 265.8L46.9 266.4L43.8 267.8L41.4 268.5L37.0 269.0Z" fill="none" stroke="#7e86e4" stroke-width="0.4"/>
<path d="M37.2 268.6L35.4 268.7L34.0 268.5L32.8 268.1L31.8 267.4L31.1 266.6L30.8 265.6L30.9 264.6L31.4 263.8L32.2 263.1L33.4 262.5L34.8 262.2L36.4 262.2L42.8 263.3L44.9 264.2L46.0 265.2L46.0 265.6L45.6 266.2L43.4 267.5L41.2 268.1L37.2 268.6Z" fill="none" stroke="#5560dc" stroke-width="0.4"/>
<circle cx="46.4" cy="262.4" r="0.28" fill="#9aa2ea"/>
<circle cx="49.8" cy="263.8" r="0.28" fill="#9aa2ea"/>
<circle cx="40.2" cy="261.6" r="0.28" fill="#9aa2ea"/>
<circle cx="47.2" cy="267.0" r="0.28" fill="#9aa2ea"/>
<circle cx="29.6" cy="263.6" r="0.28" fill="#9aa2ea"/>
<circle cx="41.6" cy="261.6" r="0.28" fill="#9aa2ea"/>
<circle cx="35.4" cy="270.4" r="0.28" fill="#9aa2ea"/>
<circle cx="45.8" cy="262.6" r="0.28" fill="#9aa2ea"/>
<circle cx="32.8" cy="268.8" r="0.28" fill="#9aa2ea"/>
<circle cx="49.0" cy="265.8" r="0.28" fill="#9aa2ea"/>
<path d="M36.0 268.6L34.6 268.5L33.2 268.1L32.0 267.5L31.3 266.6L30.9 265.6L31.1 264.6L31.5 263.8L32.4 263.1L34.6 262.3L37.2 262.3L43.0 263.5L44.9 264.4L45.6 265.2L45.6 265.8L45.0 266.4L43.0 267.5L40.6 268.1L36.0 268.6Z" fill="#2024d4"/>
<path d="M37.0 267.8L34.6 267.8L32.8 267.0L32.3 266.4L32.0 265.6L32.1 264.8L32.4 264.2L33.2 263.6L34.2 263.1L36.4 263.0L41.4 263.9L42.6 264.5L43.3 265.2L43.2 266.0L42.0 266.8L40.4 267.3L37.0 267.8Z" fill="#18b0f0"/>
<path d="M36.4 267.4L34.6 267.3L33.3 266.6L32.7 265.6L32.8 265.0L33.1 264.4L34.4 263.6L36.4 263.4L40.6 264.4L41.5 264.8L41.9 265.2L41.8 265.8L41.0 266.4L36.4 267.4Z" fill="#30c838"/>
<path d="M36.6 267.0L35.0 267.0L33.8 266.4L33.3 265.6L33.6 264.6L34.8 263.9L36.4 263.8L39.3 264.6L40.2 265.0L40.6 265.4L40.4 265.8L39.8 266.2L36.6 267.0Z" fill="#f4f000"/>
<path d="M36.8 266.6L35.6 266.7L34.5 266.4L33.9 265.8L33.9 265.0L34.8 264.3L36.2 264.2L37.9 264.6L38.7 265.0L39.1 265.4L38.6 266.0L36.8 266.6Z" fill="#ff9a00"/>
<path d="M36.8 266.2L35.8 266.3L35.0 266.2L34.5 265.8L34.4 265.2L34.7 264.8L35.4 264.5L36.2 264.5L37.2 264.8L37.8 265.2L37.9 265.6L36.8 266.2Z" fill="#f01010"/>
<text x="22.80" y="247.20" font-size="3.4" fill="#9a98b8" text-anchor="end">10</text><text x="22.80" y="246.10" font-size="2.11" fill="#9a98b8">1</text>
<text x="22.80" y="256.10" font-size="3.4" fill="#9a98b8" text-anchor="end">10</text><text x="22.80" y="255.00" font-size="2.11" fill="#9a98b8">2</text>
<text x="22.80" y="265.00" font-size="3.4" fill="#9a98b8" text-anchor="end">10</text><text x="22.80" y="263.90" font-size="2.11" fill="#9a98b8">3</text>
<text x="22.80" y="273.90" font-size="3.4" fill="#9a98b8" text-anchor="end">10</text><text x="22.80" y="272.80" font-size="2.11" fill="#9a98b8">4</text>
<text x="25.60" y="277.80" font-size="3.4" fill="#9a98b8" text-anchor="middle">10</text><text x="27.30" y="276.70" font-size="2.11" fill="#9a98b8">1</text>
<text x="35.10" y="277.80" font-size="3.4" fill="#9a98b8" text-anchor="middle">10</text><text x="36.80" y="276.70" font-size="2.11" fill="#9a98b8">2</text>
<text x="44.60" y="277.80" font-size="3.4" fill="#9a98b8" text-anchor="middle">10</text><text x="46.30" y="276.70" font-size="2.11" fill="#9a98b8">3</text>
<text x="54.10" y="277.80" font-size="3.4" fill="#9a98b8" text-anchor="middle">10</text><text x="55.80" y="276.70" font-size="2.11" fill="#9a98b8">4</text>
<path d="M24.6 245.6V273.5H54.6" fill="none" stroke="#8a94b8" stroke-width="1.6"/>
<text x="46.15" y="247.29999999999998" font-size="3.2" text-anchor="middle" font-weight="bold" fill="#3040e0" textLength="21" lengthAdjust="spacingAndGlyphs" stroke="#3040e0" stroke-width="0.06" >CD38+: 39.89%</text>
<rect x="38.5" y="288" width="17.5" height="25.5" fill="none" stroke="#4a5ae0" stroke-width="0.6"/>
<path d="M37.4 308.6L35.4 308.7L33.6 308.5L32.0 307.9L30.8 307.1L29.9 306.0L29.6 304.8L29.7 303.6L30.5 302.4L31.6 301.5L33.0 300.9L34.8 300.5L36.6 300.5L41.8 301.3L44.4 301.9L48.0 303.1L48.9 303.6L49.4 304.2L49.4 304.8L49.1 305.4L47.0 306.5L42.6 307.9L37.4 308.6Z" fill="none" stroke="#a4aaea" stroke-width="0.35"/>
<path d="M37.0 308.2L35.4 308.3L33.8 308.1L32.4 307.6L31.3 306.8L30.5 305.8L30.2 304.8L30.4 303.6L31.1 302.6L32.0 301.9L33.4 301.2L35.0 301.0L36.8 301.0L41.4 301.7L43.6 302.2L46.5 303.4L47.2 303.8L47.6 304.4L47.6 305.0L46.9 305.6L43.8 307.0L41.4 307.7L37.0 308.2Z" fill="none" stroke="#7e86e4" stroke-width="0.4"/>
<path d="M37.2 307.8L35.4 307.9L34.0 307.7L32.8 307.3L31.8 306.6L31.1 305.8L30.8 304.8L30.9 303.8L31.4 303.0L32.2 302.3L33.4 301.7L34.8 301.4L36.4 301.4L42.8 302.5L44.9 303.4L46.0 304.4L46.0 304.8L45.6 305.4L43.4 306.7L41.2 307.3L37.2 307.8Z" fill="none" stroke="#5560dc" stroke-width="0.4"/>
<circle cx="40.2" cy="308.8" r="0.28" fill="#9aa2ea"/>
<circle cx="50.6" cy="306.0" r="0.28" fill="#9aa2ea"/>
<circle cx="51.2" cy="303.4" r="0.28" fill="#9aa2ea"/>
<circle cx="44.2" cy="307.8" r="0.28" fill="#9aa2ea"/>
<circle cx="39.4" cy="308.4" r="0.28" fill="#9aa2ea"/>
<circle cx="50.8" cy="304.2" r="0.28" fill="#9aa2ea"/>
<circle cx="36.6" cy="309.0" r="0.28" fill="#9aa2ea"/>
<circle cx="44.8" cy="301.0" r="0.28" fill="#9aa2ea"/>
<circle cx="48.2" cy="306.8" r="0.28" fill="#9aa2ea"/>
<circle cx="46.8" cy="302.2" r="0.28" fill="#9aa2ea"/>
<path d="M36.0 307.8L34.6 307.7L33.2 307.3L32.0 306.7L31.3 305.8L30.9 304.8L31.1 303.8L31.5 303.0L32.4 302.3L34.6 301.5L37.2 301.5L43.0 302.7L44.9 303.6L45.6 304.4L45.6 305.0L45.0 305.6L43.0 306.7L40.6 307.3L36.0 307.8Z" fill="#2024d4"/>
<path d="M37.0 307.0L34.6 307.0L32.8 306.2L32.3 305.6L32.0 304.8L32.1 304.0L32.4 303.4L33.2 302.8L34.2 302.3L36.4 302.2L41.4 303.1L42.6 303.7L43.3 304.4L43.2 305.2L42.0 306.0L40.4 306.5L37.0 307.0Z" fill="#18b0f0"/>
<path d="M36.4 306.6L34.6 306.5L33.3 305.8L32.7 304.8L32.8 304.2L33.1 303.6L34.4 302.8L36.4 302.6L40.6 303.6L41.5 304.0L41.9 304.4L41.8 305.0L41.0 305.6L36.4 306.6Z" fill="#30c838"/>
<path d="M36.6 306.2L35.0 306.2L33.8 305.6L33.3 304.8L33.6 303.8L34.8 303.1L36.4 303.0L39.3 303.8L40.2 304.2L40.6 304.6L40.4 305.0L39.8 305.4L36.6 306.2Z" fill="#f4f000"/>
<path d="M36.8 305.8L35.6 305.9L34.5 305.6L33.9 305.0L33.9 304.2L34.8 303.5L36.2 303.4L37.9 303.8L38.7 304.2L39.1 304.6L38.6 305.2L36.8 305.8Z" fill="#ff9a00"/>
<path d="M36.8 305.4L35.8 305.5L35.0 305.4L34.5 305.0L34.4 304.4L34.7 304.0L35.4 303.7L36.2 303.7L37.2 304.0L37.8 304.4L37.9 304.8L36.8 305.4Z" fill="#f01010"/>
<text x="22.80" y="285.60" font-size="3.4" fill="#9a98b8" text-anchor="end">10</text><text x="22.80" y="284.50" font-size="2.11" fill="#9a98b8">1</text>
<text x="22.80" y="295.03" font-size="3.4" fill="#9a98b8" text-anchor="end">10</text><text x="22.80" y="293.93" font-size="2.11" fill="#9a98b8">2</text>
<text x="22.80" y="304.47" font-size="3.4" fill="#9a98b8" text-anchor="end">10</text><text x="22.80" y="303.37" font-size="2.11" fill="#9a98b8">3</text>
<text x="22.80" y="313.90" font-size="3.4" fill="#9a98b8" text-anchor="end">10</text><text x="22.80" y="312.80" font-size="2.11" fill="#9a98b8">4</text>
<text x="25.60" y="317.80" font-size="3.4" fill="#9a98b8" text-anchor="middle">10</text><text x="27.30" y="316.70" font-size="2.11" fill="#9a98b8">1</text>
<text x="35.10" y="317.80" font-size="3.4" fill="#9a98b8" text-anchor="middle">10</text><text x="36.80" y="316.70" font-size="2.11" fill="#9a98b8">2</text>
<text x="44.60" y="317.80" font-size="3.4" fill="#9a98b8" text-anchor="middle">10</text><text x="46.30" y="316.70" font-size="2.11" fill="#9a98b8">3</text>
<text x="54.10" y="317.80" font-size="3.4" fill="#9a98b8" text-anchor="middle">10</text><text x="55.80" y="316.70" font-size="2.11" fill="#9a98b8">4</text>
<path d="M24.6 284V313.5H54.6" fill="none" stroke="#8a94b8" stroke-width="1.6"/>
<text x="47.25" y="285.7" font-size="3.2" text-anchor="middle" font-weight="bold" fill="#3040e0" textLength="21" lengthAdjust="spacingAndGlyphs" stroke="#3040e0" stroke-width="0.06" >CD38+: 45.09%</text>
<text x="34.2" y="330.2" font-size="8.2" text-anchor="start" font-weight="normal" fill="#111" textLength="13.5" lengthAdjust="spacingAndGlyphs" stroke="#111" stroke-width="0.3" >CD38</text>
<text transform="translate(74.05,270.1) rotate(-90)" x="0" y="0" font-size="8.2" text-anchor="middle" fill="#111" stroke="#111" stroke-width="0.22" textLength="43.2" lengthAdjust="spacingAndGlyphs">CD38+ cells (%)</text>
<path d="M92.3 230V310H135.4" fill="none" stroke="#111" stroke-width="1.3"/>
<line x1="89.5" y1="232.6" x2="92.3" y2="232.6" stroke="#111" stroke-width="1.3"/>
<text x="86.2" y="235.17759999999998" font-size="7.2" text-anchor="end" font-weight="normal" fill="#1a1a1a" textLength="7.70" lengthAdjust="spacingAndGlyphs" stroke="#1a1a1a" stroke-width="0.12" >55</text>
<line x1="89.5" y1="248.2" x2="92.3" y2="248.2" stroke="#111" stroke-width="1.3"/>
<text x="86.2" y="250.77759999999998" font-size="7.2" text-anchor="end" font-weight="normal" fill="#1a1a1a" textLength="7.70" lengthAdjust="spacingAndGlyphs" stroke="#1a1a1a" stroke-width="0.12" >50</text>
<line x1="89.5" y1="263.5" x2="92.3" y2="263.5" stroke="#111" stroke-width="1.3"/>
<text x="86.2" y="266.0776" font-size="7.2" text-anchor="end" font-weight="normal" fill="#1a1a1a" textLength="7.70" lengthAdjust="spacingAndGlyphs" stroke="#1a1a1a" stroke-width="0.12" >45</text>
<line x1="89.5" y1="279" x2="92.3" y2="279" stroke="#111" stroke-width="1.3"/>
<text x="86.2" y="281.5776" font-size="7.2" text-anchor="end" font-weight="normal" fill="#1a1a1a" textLength="7.70" lengthAdjust="spacingAndGlyphs" stroke="#1a1a1a" stroke-width="0.12" >40</text>
<line x1="89.5" y1="294.5" x2="92.3" y2="294.5" stroke="#111" stroke-width="1.3"/>
<text x="86.2" y="297.0776" font-size="7.2" text-anchor="end" font-weight="normal" fill="#1a1a1a" textLength="7.70" lengthAdjust="spacingAndGlyphs" stroke="#1a1a1a" stroke-width="0.12" >35</text>
<line x1="89.5" y1="310" x2="92.3" y2="310" stroke="#111" stroke-width="1.3"/>
<text x="86.2" y="312.5776" font-size="7.2" text-anchor="end" font-weight="normal" fill="#1a1a1a" textLength="7.70" lengthAdjust="spacingAndGlyphs" stroke="#1a1a1a" stroke-width="0.12" >30</text>
<line x1="102.8" y1="310" x2="102.8" y2="312.8" stroke="#111" stroke-width="1.3"/>
<text x="102.8" y="321.9" font-size="7.0" text-anchor="middle" font-weight="normal" fill="#1a1a1a" textLength="4.11" lengthAdjust="spacingAndGlyphs" stroke="#1a1a1a" stroke-width="0.12" >V</text>
<line x1="113.8" y1="310" x2="113.8" y2="312.8" stroke="#111" stroke-width="1.3"/>
<text x="113.8" y="321.9" font-size="7.0" text-anchor="middle" font-weight="normal" fill="#1a1a1a" textLength="4.45" lengthAdjust="spacingAndGlyphs" stroke="#1a1a1a" stroke-width="0.12" >D</text>
<line x1="125.2" y1="310" x2="125.2" y2="312.8" stroke="#111" stroke-width="1.3"/>
<text x="125.2" y="321.9" font-size="7.0" text-anchor="middle" font-weight="normal" fill="#1a1a1a" textLength="4.11" lengthAdjust="spacingAndGlyphs" stroke="#1a1a1a" stroke-width="0.12" >K</text>
<path d="M102.6 226.60000000000002V223.8H125.8V226.60000000000002" fill="none" stroke="#222" stroke-width="1.0"/>
<text x="114.19999999999999" y="223.5" font-size="6.2" text-anchor="middle" font-weight="normal" fill="#222" stroke="#222" stroke-width="0.25" >*</text>
<path d="M102.6 238.60000000000002V235.8H114.2V238.60000000000002" fill="none" stroke="#222" stroke-width="1.0"/>
<text x="108.4" y="235.5" font-size="6.2" text-anchor="middle" font-weight="normal" fill="#222" stroke="#222" stroke-width="0.25" >**</text>
<path d="M113.8 248.8V246H125.8V248.8" fill="none" stroke="#222" stroke-width="1.0"/>
<text x="119.8" y="245.7" font-size="6.2" text-anchor="middle" font-weight="normal" fill="#222" stroke="#222" stroke-width="0.25" >*</text>
<path d="M102.8 250.5V257.5M100.8 250.5H104.8M100.8 257.5H104.8" stroke="#58a834" stroke-width="0.7" fill="none"/>
<line x1="97.8" y1="254.1" x2="107.8" y2="254.1" stroke="#333" stroke-width="1.1"/>
<circle cx="98.8" cy="247.4" r="1.57" fill="#58a834"/>
<circle cx="106.8" cy="244.7" r="1.57" fill="#58a834"/>
<circle cx="102.8" cy="253.5" r="1.57" fill="#58a834"/>
<circle cx="102.8" cy="260.2" r="1.57" fill="#58a834"/>
<circle cx="102.8" cy="266.2" r="1.57" fill="#58a834"/>
<path d="M113.8 282.5V291.5M111.8 282.5H115.8M111.8 291.5H115.8" stroke="#b01038" stroke-width="0.7" fill="none"/>
<line x1="108.8" y1="287.8" x2="118.8" y2="287.8" stroke="#333" stroke-width="1.1"/>
<rect x="112.17" y="273.07" width="3.26" height="3.26" fill="#b01038"/>
<rect x="112.17" y="278.07" width="3.26" height="3.26" fill="#b01038"/>
<rect x="108.47" y="286.17" width="3.26" height="3.26" fill="#b01038"/>
<rect x="115.97" y="286.17" width="3.26" height="3.26" fill="#b01038"/>
<rect x="112.17" y="300.97" width="3.26" height="3.26" fill="#b01038"/>
<path d="M125.7 259.5V265M123.7 259.5H127.7M123.7 265H127.7" stroke="#1e4390" stroke-width="0.7" fill="none"/>
<line x1="120.7" y1="262.3" x2="130.7" y2="262.3" stroke="#333" stroke-width="1.1"/>
<path d="M125.7 252.25L127.45 255.33L123.95 255.33Z" fill="#1e4390"/>
<path d="M125.7 256.35L127.45 259.43L123.95 259.43Z" fill="#1e4390"/>
<path d="M121.6 261.75L123.35 264.83L119.85 264.83Z" fill="#1e4390"/>
<path d="M129.6 261.75L131.35 264.83L127.85 264.83Z" fill="#1e4390"/>
<path d="M125.7 271.15L127.45 274.23L123.95 274.23Z" fill="#1e4390"/>
<text x="151.2" y="189.8" font-size="11.2" text-anchor="start" font-weight="bold" fill="#000" stroke="#000" stroke-width="0.25" >E</text>
<text x="174.8" y="203.3" font-size="6.5" text-anchor="start" font-weight="normal" fill="#111" textLength="52.7" lengthAdjust="spacingAndGlyphs" stroke="#111" stroke-width="0.06" >CD4<tspan font-size="4.8" baseline-shift="2.2">+</tspan> gated T cells</text>
<path d="M200.5 237.2L197.7 237.3L194.9 236.7L192.5 235.5L190.9 234.0L189.6 231.8L188.8 229.8L188.5 228.4L188.6 227.4L188.9 226.4L189.5 225.4L190.3 224.6L191.7 223.7L193.5 223.1L195.7 222.8L197.7 222.9L199.7 223.3L201.5 224.1L203.1 225.2L204.5 226.6L206.2 229.0L206.9 230.4L207.2 231.8L207.0 233.2L206.1 234.7L204.5 235.9L202.7 236.7L200.5 237.2Z" fill="none" stroke="#a4aaea" stroke-width="0.35"/>
<path d="M199.9 236.6L197.5 236.5L195.3 235.9L193.5 234.9L192.2 233.6L189.9 229.6L189.4 228.2L189.4 227.4L189.8 226.4L190.3 225.6L191.1 224.8L192.9 223.9L194.7 223.5L196.7 223.5L198.7 223.9L200.1 224.5L201.4 225.4L205.3 229.6L206.0 230.8L206.3 231.8L206.1 233.0L205.6 234.0L204.7 235.0L203.5 235.7L201.9 236.3L199.9 236.6Z" fill="none" stroke="#7e86e4" stroke-width="0.4"/>
<path d="M200.7 236.0L198.7 236.1L196.7 235.8L195.1 235.1L193.7 234.0L193.0 233.0L192.2 231.4L190.7 229.6L190.3 228.6L190.2 227.0L190.6 226.2L191.3 225.4L192.7 224.5L194.3 224.0L196.1 223.9L198.1 224.3L199.3 224.8L200.3 225.5L202.1 227.8L204.5 229.8L205.2 230.8L205.5 231.8L205.5 232.8L205.1 233.6L204.4 234.4L203.5 235.1L202.1 235.7L200.7 236.0Z" fill="none" stroke="#5560dc" stroke-width="0.4"/>
<circle cx="187.3" cy="231.8" r="0.28" fill="#9aa2ea"/>
<circle cx="188.5" cy="227.0" r="0.28" fill="#9aa2ea"/>
<circle cx="205.7" cy="224.0" r="0.28" fill="#9aa2ea"/>
<circle cx="203.7" cy="238.0" r="0.28" fill="#9aa2ea"/>
<circle cx="206.1" cy="236.0" r="0.28" fill="#9aa2ea"/>
<circle cx="187.3" cy="228.8" r="0.28" fill="#9aa2ea"/>
<circle cx="206.7" cy="229.2" r="0.28" fill="#9aa2ea"/>
<circle cx="206.5" cy="234.8" r="0.28" fill="#9aa2ea"/>
<circle cx="195.7" cy="238.2" r="0.28" fill="#9aa2ea"/>
<circle cx="191.5" cy="233.6" r="0.28" fill="#9aa2ea"/>
<path d="M201.1 235.8L199.1 236.0L197.1 235.7L195.3 235.0L193.9 234.0L193.2 233.0L192.5 231.4L190.9 229.6L190.4 228.6L190.4 227.0L191.2 225.6L192.5 224.7L194.3 224.1L196.1 224.0L197.9 224.4L199.1 224.9L200.1 225.5L202.0 228.0L204.3 229.8L204.9 230.6L205.3 231.6L205.4 232.4L205.0 233.4L204.4 234.2L203.5 234.9L201.1 235.8Z" fill="#2024d4"/>
<path d="M200.5 235.0L198.9 235.1L197.5 234.9L196.3 234.4L195.3 233.6L194.8 232.8L194.2 231.0L192.3 229.4L191.6 228.4L191.5 227.2L192.3 226.0L193.3 225.3L194.7 224.9L196.3 224.9L197.7 225.3L198.7 225.8L199.3 226.4L200.5 228.7L202.5 229.9L203.4 230.6L203.8 231.2L204.0 232.0L203.9 232.8L203.6 233.4L202.3 234.5L200.5 235.0Z" fill="#18b0f0"/>
<path d="M200.5 234.4L199.3 234.5L198.1 234.4L197.1 234.0L196.2 233.4L195.6 232.4L195.4 230.6L193.3 229.3L192.5 228.4L192.3 227.4L192.9 226.3L193.7 225.8L194.9 225.4L196.3 225.5L197.4 225.8L198.3 226.4L198.8 227.0L199.1 228.8L199.4 229.2L201.5 230.1L202.5 230.8L203.1 231.8L202.9 233.0L201.9 233.9L200.5 234.4Z" fill="#30c838"/>
<path d="M200.3 234.0L198.3 234.0L196.9 233.2L196.5 232.6L196.3 232.0L196.7 230.2L194.3 229.3L193.3 228.6L192.9 227.6L193.4 226.6L194.1 226.1L195.1 225.9L196.1 225.9L197.2 226.2L197.9 226.8L198.2 227.4L198.3 228.1L198.0 229.6L200.9 230.4L202.1 231.2L202.4 232.0L202.3 232.8L201.5 233.6L200.3 234.0Z" fill="#f4f000"/>
<path d="M196.3 229.2L194.9 229.1L193.9 228.5L193.5 227.6L193.9 226.8L194.5 226.4L195.5 226.2L196.5 226.4L197.2 226.8L197.6 227.4L197.6 228.2L197.1 228.9L196.3 229.2ZM200.1 233.6L198.7 233.6L197.5 233.0L197.0 232.0L197.5 231.0L198.3 230.6L199.5 230.5L200.7 230.8L201.5 231.4L201.8 232.0L201.6 232.8L200.9 233.4L200.1 233.6Z" fill="#ff9a00"/>
<path d="M196.3 228.7L195.3 228.7L194.5 228.4L194.1 227.8L194.2 227.2L194.7 226.8L195.3 226.6L196.1 226.7L196.7 227.0L197.1 227.8L196.9 228.2L196.3 228.7ZM199.9 233.2L198.9 233.2L198.1 232.8L197.7 232.2L197.9 231.6L198.4 231.2L199.1 231.0L199.9 231.1L200.7 231.4L201.1 231.8L201.1 232.4L200.7 232.9L199.9 233.2Z" fill="#f01010"/>
<text x="184.20" y="212.80" font-size="3.2" fill="#7c72c2" text-anchor="end">10</text><text x="184.20" y="211.70" font-size="1.98" fill="#7c72c2">1</text>
<text x="184.20" y="222.00" font-size="3.2" fill="#7c72c2" text-anchor="end">10</text><text x="184.20" y="220.90" font-size="1.98" fill="#7c72c2">2</text>
<text x="184.20" y="231.20" font-size="3.2" fill="#7c72c2" text-anchor="end">10</text><text x="184.20" y="230.10" font-size="1.98" fill="#7c72c2">3</text>
<text x="184.20" y="240.40" font-size="3.2" fill="#7c72c2" text-anchor="end">10</text><text x="184.20" y="239.30" font-size="1.98" fill="#7c72c2">4</text>
<text x="187.20" y="244.30" font-size="3.2" fill="#7c72c2" text-anchor="middle">10</text><text x="188.90" y="243.20" font-size="1.98" fill="#7c72c2">1</text>
<text x="196.43" y="244.30" font-size="3.2" fill="#7c72c2" text-anchor="middle">10</text><text x="198.13" y="243.20" font-size="1.98" fill="#7c72c2">2</text>
<text x="205.67" y="244.30" font-size="3.2" fill="#7c72c2" text-anchor="middle">10</text><text x="207.37" y="243.20" font-size="1.98" fill="#7c72c2">3</text>
<text x="214.90" y="244.30" font-size="3.2" fill="#7c72c2" text-anchor="middle">10</text><text x="216.60" y="243.20" font-size="1.98" fill="#7c72c2">4</text>
<line x1="198.5" y1="211.2" x2="198.5" y2="240" stroke="#5a5a5a" stroke-width="0.5"/>
<line x1="186.2" y1="229.3" x2="215.4" y2="229.3" stroke="#8a8a8a" stroke-width="0.6"/>
<path d="M186.2 211.2V240H215.4" fill="none" stroke="#5f6c9c" stroke-width="1.0"/>
<text x="186.79999999999998" y="214.696" font-size="3.2" text-anchor="start" font-weight="bold" fill="#111" stroke="#111" stroke-width="0.08" >33.06%</text>
<text x="215.1" y="214.696" font-size="3.2" text-anchor="end" font-weight="bold" fill="#111" stroke="#111" stroke-width="0.08" >6.32%</text>
<text x="186.79999999999998" y="239.1" font-size="3.2" text-anchor="start" font-weight="bold" fill="#111" stroke="#111" stroke-width="0.08" >27.81%</text>
<text x="215.1" y="239.1" font-size="3.2" text-anchor="end" font-weight="bold" fill="#111" stroke="#111" stroke-width="0.08" >32.76%</text>
<path d="M198.7 273.3L196.5 273.2L194.7 272.8L193.1 272.0L192.0 270.9L190.9 268.8L189.4 266.7L189.0 265.5L189.0 264.5L189.4 263.5L190.9 262.0L192.3 261.2L193.9 260.8L195.5 260.7L197.3 260.8L199.5 261.6L201.9 263.1L205.9 264.2L207.3 265.1L207.4 265.7L207.1 266.1L204.5 267.7L204.5 269.9L204.1 270.7L203.5 271.5L202.5 272.2L201.3 272.8L198.7 273.3Z" fill="none" stroke="#a4aaea" stroke-width="0.35"/>
<path d="M199.7 272.5L197.7 272.7L195.9 272.4L194.3 271.8L193.1 270.9L191.9 268.8L190.4 267.1L189.8 265.9L189.7 265.1L189.8 264.3L190.2 263.5L190.9 262.7L191.9 262.0L193.5 261.4L195.1 261.2L196.7 261.2L198.7 261.8L201.4 263.5L204.5 264.5L205.6 265.1L205.7 265.5L205.6 265.9L203.6 267.1L203.3 267.5L203.5 269.5L203.0 270.7L201.7 271.8L199.7 272.5Z" fill="none" stroke="#7e86e4" stroke-width="0.4"/>
<path d="M198.5 272.1L196.3 271.9L194.5 271.1L193.7 270.3L192.8 268.7L190.8 266.7L190.4 265.7L190.4 264.5L190.9 263.5L191.9 262.6L193.1 262.0L194.5 261.6L197.1 261.7L198.7 262.3L201.0 263.9L203.5 264.9L204.0 265.3L203.9 265.9L202.4 266.9L202.1 267.3L202.6 269.3L202.2 270.5L200.7 271.6L198.5 272.1Z" fill="none" stroke="#5560dc" stroke-width="0.4"/>
<circle cx="202.3" cy="262.3" r="0.28" fill="#9aa2ea"/>
<circle cx="198.3" cy="273.1" r="0.28" fill="#9aa2ea"/>
<circle cx="189.3" cy="262.1" r="0.28" fill="#9aa2ea"/>
<circle cx="192.5" cy="271.9" r="0.28" fill="#9aa2ea"/>
<circle cx="189.9" cy="261.3" r="0.28" fill="#9aa2ea"/>
<circle cx="189.1" cy="262.3" r="0.28" fill="#9aa2ea"/>
<circle cx="188.1" cy="266.1" r="0.28" fill="#9aa2ea"/>
<circle cx="206.7" cy="267.7" r="0.28" fill="#9aa2ea"/>
<circle cx="193.3" cy="271.9" r="0.28" fill="#9aa2ea"/>
<circle cx="203.3" cy="272.7" r="0.28" fill="#9aa2ea"/>
<path d="M198.9 271.9L196.7 271.9L194.8 271.1L193.9 270.3L192.8 268.5L191.1 266.9L190.6 265.9L190.4 264.9L190.8 263.9L191.7 262.9L192.9 262.2L194.1 261.8L195.5 261.7L196.9 261.8L198.7 262.4L200.9 264.0L203.5 265.3L203.4 265.9L202.1 266.8L201.8 267.3L202.4 269.1L202.0 270.3L200.7 271.4L198.9 271.9Z" fill="#2024d4"/>
<path d="M198.9 270.5L197.7 270.6L196.5 270.3L195.8 269.7L195.0 268.5L192.3 266.7L191.7 265.9L191.6 265.1L191.8 264.3L192.4 263.5L194.1 262.6L196.3 262.5L198.1 263.1L199.8 264.5L200.3 265.1L200.4 265.7L199.4 267.5L200.2 269.3L199.8 270.1L198.9 270.5Z" fill="#18b0f0"/>
<path d="M197.1 267.5L196.3 267.7L195.1 267.5L193.9 267.1L193.1 266.5L192.6 265.9L192.4 265.3L192.4 264.7L192.7 264.1L193.8 263.3L195.3 263.0L196.9 263.2L198.2 263.9L199.1 264.9L199.2 265.7L198.3 266.8L197.1 267.5Z" fill="#30c838"/>
<path d="M196.7 266.9L195.1 267.0L193.6 266.3L193.0 265.3L193.3 264.3L194.1 263.7L195.3 263.4L196.5 263.5L197.7 264.1L198.3 264.9L198.4 265.7L197.7 266.4L196.7 266.9Z" fill="#f4f000"/>
<path d="M196.3 266.5L195.1 266.5L194.1 266.1L193.5 265.3L193.7 264.5L194.3 264.0L195.3 263.8L196.3 263.9L197.2 264.3L197.7 264.9L197.8 265.5L197.3 266.1L196.3 266.5Z" fill="#ff9a00"/>
<path d="M196.1 266.1L195.3 266.1L194.5 265.8L194.1 265.3L194.2 264.7L195.3 264.2L196.1 264.2L196.7 264.5L197.1 264.9L197.1 265.5L196.7 265.9L196.1 266.1Z" fill="#f01010"/>
<text x="184.20" y="250.30" font-size="3.2" fill="#7c72c2" text-anchor="end">10</text><text x="184.20" y="249.20" font-size="1.98" fill="#7c72c2">1</text>
<text x="184.20" y="259.50" font-size="3.2" fill="#7c72c2" text-anchor="end">10</text><text x="184.20" y="258.40" font-size="1.98" fill="#7c72c2">2</text>
<text x="184.20" y="268.70" font-size="3.2" fill="#7c72c2" text-anchor="end">10</text><text x="184.20" y="267.60" font-size="1.98" fill="#7c72c2">3</text>
<text x="184.20" y="277.90" font-size="3.2" fill="#7c72c2" text-anchor="end">10</text><text x="184.20" y="276.80" font-size="1.98" fill="#7c72c2">4</text>
<text x="187.20" y="281.80" font-size="3.2" fill="#7c72c2" text-anchor="middle">10</text><text x="188.90" y="280.70" font-size="1.98" fill="#7c72c2">1</text>
<text x="196.43" y="281.80" font-size="3.2" fill="#7c72c2" text-anchor="middle">10</text><text x="198.13" y="280.70" font-size="1.98" fill="#7c72c2">2</text>
<text x="205.67" y="281.80" font-size="3.2" fill="#7c72c2" text-anchor="middle">10</text><text x="207.37" y="280.70" font-size="1.98" fill="#7c72c2">3</text>
<text x="214.90" y="281.80" font-size="3.2" fill="#7c72c2" text-anchor="middle">10</text><text x="216.60" y="280.70" font-size="1.98" fill="#7c72c2">4</text>
<line x1="198.5" y1="248.7" x2="198.5" y2="277.5" stroke="#5a5a5a" stroke-width="0.5"/>
<line x1="186.2" y1="266.6" x2="215.4" y2="266.6" stroke="#8a8a8a" stroke-width="0.6"/>
<path d="M186.2 248.7V277.5H215.4" fill="none" stroke="#5f6c9c" stroke-width="1.0"/>
<text x="186.79999999999998" y="252.196" font-size="3.2" text-anchor="start" font-weight="bold" fill="#111" stroke="#111" stroke-width="0.08" >66.60%</text>
<text x="215.1" y="252.196" font-size="3.2" text-anchor="end" font-weight="bold" fill="#111" stroke="#111" stroke-width="0.08" >7.67%</text>
<text x="186.79999999999998" y="276.6" font-size="3.2" text-anchor="start" font-weight="bold" fill="#111" stroke="#111" stroke-width="0.08" >26.58%</text>
<text x="215.1" y="276.6" font-size="3.2" text-anchor="end" font-weight="bold" fill="#111" stroke="#111" stroke-width="0.08" >16.27%</text>
<path d="M196.3 311.6L193.9 311.5L191.7 310.7L190.2 309.4L189.4 307.8L189.3 306.2L190.1 304.0L189.4 302.2L189.5 301.2L190.0 300.4L190.7 299.8L192.7 298.9L194.5 298.5L196.3 298.5L198.3 298.9L199.7 299.4L200.8 300.2L201.4 301.0L201.6 301.8L201.3 303.2L201.4 303.6L205.3 304.7L206.3 305.4L206.6 306.0L206.4 306.8L205.5 307.5L201.7 308.7L199.9 310.3L198.9 310.9L197.7 311.4L196.3 311.6Z" fill="none" stroke="#a4aaea" stroke-width="0.35"/>
<path d="M196.7 311.0L194.7 311.1L192.7 310.6L191.1 309.5L190.1 308.0L190.0 307.2L190.0 306.2L191.0 303.8L190.4 302.2L190.4 301.4L191.1 300.4L192.7 299.5L194.3 299.1L195.9 299.0L197.5 299.2L198.9 299.7L199.9 300.4L200.5 301.2L200.6 302.0L200.2 303.4L200.4 303.8L204.3 304.8L205.3 305.4L205.7 306.0L205.6 306.6L204.9 307.3L203.9 307.7L201.2 308.4L198.9 310.2L196.7 311.0Z" fill="none" stroke="#7e86e4" stroke-width="0.4"/>
<path d="M196.5 310.6L194.7 310.6L192.7 310.0L191.4 309.0L190.6 307.6L190.7 306.0L191.8 303.8L191.2 302.2L191.3 301.4L192.1 300.4L193.7 299.7L196.3 299.5L197.5 299.7L198.6 300.2L199.4 300.8L199.8 301.6L199.8 302.2L199.3 303.4L199.5 304.0L200.5 304.4L203.7 305.1L204.5 305.5L204.9 306.0L204.8 306.6L204.1 307.2L200.7 308.2L198.5 309.9L196.5 310.6Z" fill="none" stroke="#5560dc" stroke-width="0.4"/>
<circle cx="194.1" cy="312.4" r="0.28" fill="#9aa2ea"/>
<circle cx="200.9" cy="301.0" r="0.28" fill="#9aa2ea"/>
<circle cx="197.9" cy="299.0" r="0.28" fill="#9aa2ea"/>
<circle cx="201.9" cy="300.4" r="0.28" fill="#9aa2ea"/>
<circle cx="189.1" cy="308.4" r="0.28" fill="#9aa2ea"/>
<circle cx="198.7" cy="312.0" r="0.28" fill="#9aa2ea"/>
<circle cx="189.9" cy="309.6" r="0.28" fill="#9aa2ea"/>
<circle cx="202.1" cy="303.0" r="0.28" fill="#9aa2ea"/>
<circle cx="197.7" cy="311.4" r="0.28" fill="#9aa2ea"/>
<circle cx="201.5" cy="300.4" r="0.28" fill="#9aa2ea"/>
<path d="M196.9 310.4L194.9 310.6L193.1 310.1L191.7 309.2L190.8 307.8L190.7 307.0L190.8 306.0L192.0 303.8L191.4 302.2L191.5 301.4L192.1 300.6L193.3 299.9L194.5 299.7L195.9 299.6L197.1 299.8L198.3 300.2L199.1 300.8L199.6 301.6L199.6 302.2L199.0 303.4L199.3 304.0L200.1 304.4L203.5 305.1L204.3 305.5L204.7 306.0L204.6 306.6L204.1 307.0L200.5 308.2L198.7 309.7L196.9 310.4Z" fill="#2024d4"/>
<path d="M196.7 309.6L195.1 309.7L193.5 309.3L192.3 308.4L191.8 307.4L191.8 306.4L192.1 305.6L194.3 303.6L194.2 303.2L193.4 302.2L193.4 301.6L193.9 301.0L194.7 300.7L196.3 300.7L197.0 301.0L197.5 301.4L197.6 302.2L196.7 303.4L197.1 304.0L199.1 305.0L202.2 305.6L202.9 306.2L202.2 306.8L199.7 307.6L198.1 309.0L196.7 309.6Z" fill="#18b0f0"/>
<path d="M195.5 309.2L193.7 308.7L193.0 308.2L192.6 307.6L192.5 307.0L192.6 306.2L193.0 305.6L193.7 305.0L194.9 304.5L196.1 304.5L200.4 306.2L197.5 308.6L196.5 309.1L195.5 309.2Z" fill="#30c838"/>
<path d="M196.5 308.6L194.9 308.7L193.5 308.0L193.1 307.0L193.1 306.4L193.5 305.8L194.5 305.2L195.7 305.0L197.1 305.3L198.3 306.0L198.6 306.4L198.2 307.2L197.5 308.0L196.5 308.6Z" fill="#f4f000"/>
<path d="M196.3 308.2L195.1 308.3L194.0 307.8L193.6 307.0L194.0 306.0L194.7 305.5L195.7 305.4L196.7 305.6L197.4 306.0L197.7 306.4L197.7 307.0L197.1 307.8L196.3 308.2Z" fill="#ff9a00"/>
<path d="M196.1 307.8L195.3 307.9L194.5 307.6L194.1 307.0L194.5 306.2L195.1 305.9L195.7 305.8L196.8 306.2L197.1 306.6L197.1 307.0L196.7 307.5L196.1 307.8Z" fill="#f01010"/>
<text x="184.20" y="287.60" font-size="3.2" fill="#7c72c2" text-anchor="end">10</text><text x="184.20" y="286.50" font-size="1.98" fill="#7c72c2">1</text>
<text x="184.20" y="296.53" font-size="3.2" fill="#7c72c2" text-anchor="end">10</text><text x="184.20" y="295.43" font-size="1.98" fill="#7c72c2">2</text>
<text x="184.20" y="305.47" font-size="3.2" fill="#7c72c2" text-anchor="end">10</text><text x="184.20" y="304.37" font-size="1.98" fill="#7c72c2">3</text>
<text x="184.20" y="314.40" font-size="3.2" fill="#7c72c2" text-anchor="end">10</text><text x="184.20" y="313.30" font-size="1.98" fill="#7c72c2">4</text>
<text x="187.20" y="318.30" font-size="3.2" fill="#7c72c2" text-anchor="middle">10</text><text x="188.90" y="317.20" font-size="1.98" fill="#7c72c2">1</text>
<text x="196.43" y="318.30" font-size="3.2" fill="#7c72c2" text-anchor="middle">10</text><text x="198.13" y="317.20" font-size="1.98" fill="#7c72c2">2</text>
<text x="205.67" y="318.30" font-size="3.2" fill="#7c72c2" text-anchor="middle">10</text><text x="207.37" y="317.20" font-size="1.98" fill="#7c72c2">3</text>
<text x="214.90" y="318.30" font-size="3.2" fill="#7c72c2" text-anchor="middle">10</text><text x="216.60" y="317.20" font-size="1.98" fill="#7c72c2">4</text>
<line x1="198.5" y1="286" x2="198.5" y2="314" stroke="#5a5a5a" stroke-width="0.5"/>
<line x1="186.2" y1="303.8" x2="215.4" y2="303.8" stroke="#8a8a8a" stroke-width="0.6"/>
<path d="M186.2 286V314H215.4" fill="none" stroke="#5f6c9c" stroke-width="1.0"/>
<text x="186.79999999999998" y="289.496" font-size="3.2" text-anchor="start" font-weight="bold" fill="#111" stroke="#111" stroke-width="0.08" >27.60%</text>
<text x="215.1" y="289.496" font-size="3.2" text-anchor="end" font-weight="bold" fill="#111" stroke="#111" stroke-width="0.08" >8.33%</text>
<text x="186.79999999999998" y="313.1" font-size="3.2" text-anchor="start" font-weight="bold" fill="#111" stroke="#111" stroke-width="0.08" >50.77%</text>
<text x="215.1" y="313.1" font-size="3.2" text-anchor="end" font-weight="bold" fill="#111" stroke="#111" stroke-width="0.08" >13.34%</text>
<line x1="172.6" y1="299.6" x2="172.6" y2="217.6" stroke="#111" stroke-width="1.3"/>
<path d="M172.6 214.6L175.0 219.6L170.2 219.6Z" fill="#111"/>
<text x="165" y="233.8" font-size="7.0" text-anchor="middle" font-weight="normal" fill="#111" textLength="4.02" lengthAdjust="spacingAndGlyphs" stroke="#111" stroke-width="0.12" >V</text>
<text x="164" y="264.2" font-size="7.0" text-anchor="middle" font-weight="normal" fill="#111" textLength="4.35" lengthAdjust="spacingAndGlyphs" stroke="#111" stroke-width="0.12" >D</text>
<text x="164" y="299.2" font-size="7.0" text-anchor="middle" font-weight="normal" fill="#111" textLength="4.02" lengthAdjust="spacingAndGlyphs" stroke="#111" stroke-width="0.12" >K</text>
<text transform="translate(176.05,311.2) rotate(-90)" x="0" y="0" font-size="8.2" text-anchor="middle" fill="#111" stroke="#111" stroke-width="0.22" textLength="13.6" lengthAdjust="spacingAndGlyphs">CCR6</text>
<text x="192" y="330.4" font-size="8.2" text-anchor="start" font-weight="normal" fill="#111" textLength="17.6" lengthAdjust="spacingAndGlyphs" stroke="#111" stroke-width="0.3" >CXCR7</text>
<text transform="translate(233.01,269.2) rotate(-90)" x="0" y="0" font-size="7.8" text-anchor="middle" fill="#111" stroke="#111" stroke-width="0.08" textLength="26.1" lengthAdjust="spacingAndGlyphs">% positive</text>
<path d="M251.3 228V310H326.5" fill="none" stroke="#111" stroke-width="1.3"/>
<line x1="248.5" y1="230.6" x2="251.3" y2="230.6" stroke="#111" stroke-width="1.3"/>
<text x="244.8" y="233.106" font-size="7.0" text-anchor="end" font-weight="normal" fill="#1a1a1a" textLength="7.40" lengthAdjust="spacingAndGlyphs" stroke="#1a1a1a" stroke-width="0.12" >85</text>
<line x1="248.5" y1="250.4" x2="251.3" y2="250.4" stroke="#111" stroke-width="1.3"/>
<text x="244.8" y="252.906" font-size="7.0" text-anchor="end" font-weight="normal" fill="#1a1a1a" textLength="7.40" lengthAdjust="spacingAndGlyphs" stroke="#1a1a1a" stroke-width="0.12" >60</text>
<line x1="248.5" y1="270.4" x2="251.3" y2="270.4" stroke="#111" stroke-width="1.3"/>
<text x="244.8" y="272.90599999999995" font-size="7.0" text-anchor="end" font-weight="normal" fill="#1a1a1a" textLength="7.40" lengthAdjust="spacingAndGlyphs" stroke="#1a1a1a" stroke-width="0.12" >40</text>
<line x1="248.5" y1="290.2" x2="251.3" y2="290.2" stroke="#111" stroke-width="1.3"/>
<text x="244.8" y="292.70599999999996" font-size="7.0" text-anchor="end" font-weight="normal" fill="#1a1a1a" textLength="7.40" lengthAdjust="spacingAndGlyphs" stroke="#1a1a1a" stroke-width="0.12" >20</text>
<line x1="248.5" y1="310" x2="251.3" y2="310" stroke="#111" stroke-width="1.3"/>
<text x="244.8" y="312.506" font-size="7.0" text-anchor="end" font-weight="normal" fill="#1a1a1a" textLength="3.70" lengthAdjust="spacingAndGlyphs" stroke="#1a1a1a" stroke-width="0.12" >0</text>
<line x1="264.4" y1="310" x2="264.4" y2="312.8" stroke="#111" stroke-width="1.3"/>
<text x="264.4" y="321.9" font-size="7.0" text-anchor="middle" font-weight="normal" fill="#1a1a1a" textLength="10.61" lengthAdjust="spacingAndGlyphs" stroke="#1a1a1a" stroke-width="0.12" >Th1</text>
<line x1="288.5" y1="310" x2="288.5" y2="312.8" stroke="#111" stroke-width="1.3"/>
<text x="288.5" y="321.9" font-size="7.0" text-anchor="middle" font-weight="normal" fill="#1a1a1a" textLength="10.61" lengthAdjust="spacingAndGlyphs" stroke="#1a1a1a" stroke-width="0.12" >Th2</text>
<line x1="312.5" y1="310" x2="312.5" y2="312.8" stroke="#111" stroke-width="1.3"/>
<text x="312.5" y="321.9" font-size="7.0" text-anchor="middle" font-weight="normal" fill="#1a1a1a" textLength="14.04" lengthAdjust="spacingAndGlyphs" stroke="#1a1a1a" stroke-width="0.12" >Th17</text>
<path d="M257.2 273.40000000000003V270.6H272.8V273.40000000000003" fill="none" stroke="#222" stroke-width="1.0"/>
<text x="265.0" y="270.3" font-size="6.2" text-anchor="middle" font-weight="normal" fill="#222" stroke="#222" stroke-width="0.25" >*</text>
<path d="M259.5 283.0V280.2H267.6V283.0" fill="none" stroke="#222" stroke-width="1.0"/>
<text x="263.55" y="279.9" font-size="6.2" text-anchor="middle" font-weight="normal" fill="#222" stroke="#222" stroke-width="0.25" >*</text>
<path d="M285.4 242.0V239.2H298.5V242.0" fill="none" stroke="#222" stroke-width="1.0"/>
<text x="291.95" y="238.89999999999998" font-size="6.2" text-anchor="middle" font-weight="normal" fill="#222" stroke="#222" stroke-width="0.25" >*</text>
<path d="M283.5 276.1V273.3H291V276.1" fill="none" stroke="#222" stroke-width="1.0"/>
<text x="287.25" y="273.0" font-size="6.2" text-anchor="middle" font-weight="normal" fill="#222" stroke="#222" stroke-width="0.25" >*</text>
<path d="M307.5 266.1V263.3H315.2V266.1" fill="none" stroke="#222" stroke-width="1.0"/>
<text x="311.35" y="263.0" font-size="6.2" text-anchor="middle" font-weight="normal" fill="#222" stroke="#222" stroke-width="0.25" >*</text>
<circle cx="256.40000000000003" cy="289.90000000000003" r="1.08" fill="#58a834"/>
<circle cx="259.1" cy="289.70000000000005" r="1.08" fill="#58a834"/>
<circle cx="257.8" cy="291.1" r="1.08" fill="#58a834"/>
<circle cx="256.5" cy="292.40000000000003" r="1.08" fill="#58a834"/>
<circle cx="259.2" cy="292.1" r="1.08" fill="#58a834"/>
<rect x="261.49" y="295.79" width="2.42" height="2.42" fill="#b01038"/>
<rect x="262.69" y="295.39" width="2.42" height="2.42" fill="#b01038"/>
<rect x="263.79" y="296.29" width="2.42" height="2.42" fill="#b01038"/>
<rect x="265.09" y="296.79" width="2.42" height="2.42" fill="#b01038"/>
<rect x="262.89" y="296.89" width="2.42" height="2.42" fill="#b01038"/>
<path d="M269.8 297.35L271.18 299.77L268.43 299.77Z" fill="#1e4390"/>
<path d="M271.0 296.95L272.38 299.37L269.62 299.37Z" fill="#1e4390"/>
<path d="M272.1 297.85L273.48 300.27L270.73 300.27Z" fill="#1e4390"/>
<path d="M273.40000000000003 298.35L274.78 300.77L272.03 300.77Z" fill="#1e4390"/>
<path d="M271.2 298.45L272.57 300.87L269.82 300.87Z" fill="#1e4390"/>
<circle cx="280.0" cy="283.1" r="1.08" fill="#58a834"/>
<circle cx="281.5" cy="281.9" r="1.08" fill="#58a834"/>
<circle cx="283.2" cy="280.9" r="1.08" fill="#58a834"/>
<circle cx="282.0" cy="283.7" r="1.08" fill="#58a834"/>
<circle cx="283.40000000000003" cy="282.9" r="1.08" fill="#58a834"/>
<rect x="286.29" y="285.99" width="2.42" height="2.42" fill="#b01038"/>
<rect x="286.69" y="287.39" width="2.42" height="2.42" fill="#b01038"/>
<rect x="286.89" y="288.59" width="2.42" height="2.42" fill="#b01038"/>
<rect x="288.29" y="288.19" width="2.42" height="2.42" fill="#b01038"/>
<rect x="289.29" y="287.99" width="2.42" height="2.42" fill="#b01038"/>
<path d="M294.7 250.35L296.07 252.77L293.32 252.77Z" fill="#1e4390"/>
<path d="M296.4 249.95L297.77 252.37L295.02 252.37Z" fill="#1e4390"/>
<path d="M297.7 250.55L299.07 252.97L296.32 252.97Z" fill="#1e4390"/>
<path d="M296.2 251.95L297.57 254.37L294.82 254.37Z" fill="#1e4390"/>
<path d="M296.2 253.15L297.57 255.57L294.82 255.57Z" fill="#1e4390"/>
<circle cx="304.0" cy="279.6" r="1.08" fill="#58a834"/>
<circle cx="305.6" cy="278.40000000000003" r="1.08" fill="#58a834"/>
<circle cx="307.3" cy="277.3" r="1.08" fill="#58a834"/>
<circle cx="305.8" cy="280.1" r="1.08" fill="#58a834"/>
<circle cx="307.40000000000003" cy="279.1" r="1.08" fill="#58a834"/>
<rect x="310.34" y="268.34" width="2.52" height="2.52" fill="#b01038"/>
<rect x="313.04" y="268.14" width="2.52" height="2.52" fill="#b01038"/>
<rect x="311.74" y="269.54" width="2.52" height="2.52" fill="#b01038"/>
<rect x="310.44" y="270.84" width="2.52" height="2.52" fill="#b01038"/>
<rect x="313.14" y="270.54" width="2.52" height="2.52" fill="#b01038"/>
<path d="M318.4 284.38L319.65 286.58L317.15 286.58Z" fill="#1e4390"/>
<path d="M319.59999999999997 283.98L320.85 286.18L318.35 286.18Z" fill="#1e4390"/>
<path d="M320.7 284.88L321.95 287.08L319.45 287.08Z" fill="#1e4390"/>
<path d="M322.0 285.38L323.25 287.58L320.75 287.58Z" fill="#1e4390"/>
<path d="M319.79999999999995 285.48L321.05 287.68L318.55 287.68Z" fill="#1e4390"/>
<text x="364.0" y="189.8" font-size="11.2" text-anchor="start" font-weight="bold" fill="#000" stroke="#000" stroke-width="0.25" >F</text>
<text x="389.5" y="203.3" font-size="6.5" text-anchor="start" font-weight="normal" fill="#111" textLength="52.3" lengthAdjust="spacingAndGlyphs" stroke="#111" stroke-width="0.06" >CD8<tspan font-size="4.8" baseline-shift="2.2">+</tspan> gated T cells</text>
<path d="M408.6 242.6L400.1 242.6L398.0 241.9L395.6 241.8L395.4 235.4L395.6 230.9L397.8 229.1L400.8 227.4L401.4 226.6L402.8 223.3L403.4 222.6L404.0 222.2L404.8 222.3L405.4 222.8L406.1 223.8L407.6 227.4L408.2 227.9L409.2 228.2L410.4 228.1L411.9 227.8L420.0 225.0L423.0 224.3L423.0 226.7L420.6 229.2L419.3 232.4L418.4 233.8L411.6 240.2L408.6 242.6Z" fill="none" stroke="#7880d8" stroke-width="0.5"/>
<path d="M406.2 242.6L403.2 242.6L398.8 241.0L395.6 240.4L395.6 232.6L396.8 232.2L398.6 230.6L401.2 228.8L401.8 227.8L403.0 224.6L403.4 224.0L404.0 223.5L404.8 223.6L405.4 224.2L405.9 225.2L407.0 228.3L407.6 229.0L408.2 229.2L410.4 229.0L418.4 226.5L419.8 226.3L420.6 226.5L420.6 227.2L419.1 229.6L418.1 232.4L417.2 233.8L415.8 235.1L412.3 237.6L408.0 241.0L406.8 242.3L406.2 242.6Z" fill="none" stroke="#4a52cc" stroke-width="0.55"/>
<path d="M404.8 241.6L403.8 241.7L402.4 241.5L397.4 239.6L396.5 238.8L395.6 236.7L395.6 234.0L397.4 233.7L398.0 233.4L399.6 231.6L401.8 229.8L402.4 228.8L403.2 226.1L403.8 225.2L404.4 225.0L405.0 225.5L405.5 226.4L406.4 229.2L407.0 229.9L407.8 230.2L409.6 230.1L415.6 228.2L417.0 228.1L417.6 228.4L417.7 229.2L417.1 231.6L416.6 232.6L415.9 233.6L414.4 234.8L411.0 236.8L408.4 239.3L404.8 241.6Z" fill="none" stroke="#3038c0" stroke-width="0.55"/>
<path d="M404.2 240.6L403.2 240.7L402.0 240.5L398.2 239.0L397.1 237.8L396.6 236.0L396.8 235.4L398.6 234.5L400.2 232.1L402.7 230.0L404.0 227.2L404.4 227.1L404.7 227.4L405.5 229.4L405.9 230.0L406.8 230.6L407.8 231.0L409.4 231.0L414.0 229.6L414.8 229.6L415.4 229.8L415.6 230.4L415.5 231.4L415.1 232.4L414.4 233.2L413.3 234.0L410.6 235.4L408.7 238.0L407.6 239.0L406.0 239.9L404.2 240.6Z" fill="none" stroke="#2830b8" stroke-width="0.55"/>
<path d="M404.0 239.8L402.6 239.8L400.8 239.3L399.2 238.5L398.4 237.6L398.3 236.6L399.2 235.4L399.9 233.6L400.7 232.4L403.0 230.7L404.4 230.1L408.0 231.8L410.4 232.4L410.5 232.8L408.9 236.6L408.1 237.8L406.4 239.1L404.0 239.8Z" fill="none" stroke="#2028b0" stroke-width="0.55"/>
<circle cx="416.0" cy="239.0" r="0.28" fill="#9aa2ea"/>
<circle cx="415.8" cy="235.0" r="0.28" fill="#9aa2ea"/>
<circle cx="410.8" cy="242.0" r="0.28" fill="#9aa2ea"/>
<circle cx="414.0" cy="226.8" r="0.28" fill="#9aa2ea"/>
<circle cx="415.8" cy="227.2" r="0.28" fill="#9aa2ea"/>
<circle cx="418.8" cy="231.4" r="0.28" fill="#9aa2ea"/>
<circle cx="421.6" cy="225.4" r="0.28" fill="#9aa2ea"/>
<circle cx="420.2" cy="227.4" r="0.28" fill="#9aa2ea"/>
<circle cx="411.0" cy="240.0" r="0.28" fill="#9aa2ea"/>
<circle cx="397.4" cy="226.6" r="0.28" fill="#9aa2ea"/>
<circle cx="408.2" cy="240.4" r="0.28" fill="#9aa2ea"/>
<circle cx="403.4" cy="223.0" r="0.28" fill="#9aa2ea"/>
<circle cx="397.6" cy="226.6" r="0.28" fill="#9aa2ea"/>
<circle cx="406.4" cy="223.4" r="0.28" fill="#9aa2ea"/>
<circle cx="421.6" cy="227.0" r="0.28" fill="#9aa2ea"/>
<circle cx="407.8" cy="228.4" r="0.28" fill="#9aa2ea"/>
<circle cx="416.8" cy="225.8" r="0.28" fill="#9aa2ea"/>
<circle cx="397.6" cy="227.0" r="0.28" fill="#9aa2ea"/>
<circle cx="409.8" cy="228.2" r="0.28" fill="#9aa2ea"/>
<circle cx="396.8" cy="228.2" r="0.28" fill="#9aa2ea"/>
<circle cx="400.8" cy="229.0" r="0.28" fill="#9aa2ea"/>
<circle cx="420.8" cy="226.6" r="0.28" fill="#9aa2ea"/>
<circle cx="418.6" cy="225.4" r="0.28" fill="#9aa2ea"/>
<circle cx="412.8" cy="242.0" r="0.28" fill="#9aa2ea"/>
<circle cx="404.6" cy="222.8" r="0.28" fill="#9aa2ea"/>
<path d="M404.8 238.8L403.2 238.8L401.8 238.4L400.8 237.6L400.3 236.4L400.4 234.6L401.1 233.2L402.4 232.0L404.0 231.4L405.4 231.6L407.1 232.4L407.9 233.2L408.4 234.4L408.1 236.0L407.4 237.4L406.2 238.3L404.8 238.8Z" fill="#2024d4"/>
<path d="M404.4 238.0L403.2 237.9L402.2 237.4L401.5 236.4L401.3 235.4L401.4 234.4L402.0 233.4L403.0 232.6L404.2 232.3L405.4 232.5L406.4 233.1L407.2 234.0L407.4 235.0L407.2 236.0L406.6 237.0L405.6 237.7L404.4 238.0Z" fill="#18b0f0"/>
<path d="M404.6 237.4L403.6 237.4L402.8 237.0L402.2 236.4L401.9 235.6L402.0 234.6L402.4 233.9L403.2 233.2L404.0 232.9L405.0 233.0L405.8 233.4L406.4 234.0L406.7 234.8L406.6 235.8L406.2 236.5L405.4 237.2L404.6 237.4Z" fill="#30c838"/>
<path d="M405.0 236.8L404.2 237.0L403.4 236.8L402.9 236.4L402.5 235.8L402.4 235.2L402.6 234.4L403.0 233.9L403.6 233.5L404.2 233.4L405.0 233.5L405.6 233.8L406.0 234.4L406.2 235.0L406.1 235.8L405.7 236.4L405.0 236.8Z" fill="#f4f000"/>
<path d="M404.8 236.5L403.6 236.4L402.9 235.6L403.0 234.6L403.8 233.9L404.8 233.9L405.6 234.6L405.8 235.2L405.6 235.8L404.8 236.5Z" fill="#ff9a00"/>
<path d="M404.8 236.0L404.0 236.1L403.4 235.7L403.3 235.0L403.7 234.4L404.6 234.2L405.2 234.7L405.3 235.4L404.8 236.0Z" fill="#f01010"/>
<path d="M395.6 214.9H410.8V232.6H395.6" fill="none" stroke="#6a74e8" stroke-width="0.45"/>
<path d="M407.9 229.7L421.1 225.7V242.6" fill="none" stroke="#a83888" stroke-width="0.7"/>
<text x="393.40" y="216.20" font-size="3.2" fill="#7c72c2" text-anchor="end">10</text><text x="393.40" y="215.10" font-size="1.98" fill="#7c72c2">1</text>
<text x="393.40" y="222.90" font-size="3.2" fill="#7c72c2" text-anchor="end">10</text><text x="393.40" y="221.80" font-size="1.98" fill="#7c72c2">2</text>
<text x="393.40" y="229.60" font-size="3.2" fill="#7c72c2" text-anchor="end">10</text><text x="393.40" y="228.50" font-size="1.98" fill="#7c72c2">3</text>
<text x="393.40" y="236.30" font-size="3.2" fill="#7c72c2" text-anchor="end">10</text><text x="393.40" y="235.20" font-size="1.98" fill="#7c72c2">4</text>
<text x="393.40" y="243.00" font-size="3.2" fill="#7c72c2" text-anchor="end">10</text><text x="393.40" y="241.90" font-size="1.98" fill="#7c72c2">5</text>
<text x="396.40" y="246.90" font-size="3.2" fill="#7c72c2" text-anchor="middle">10</text><text x="398.10" y="245.80" font-size="1.98" fill="#7c72c2">1</text>
<text x="405.10" y="246.90" font-size="3.2" fill="#7c72c2" text-anchor="middle">10</text><text x="406.80" y="245.80" font-size="1.98" fill="#7c72c2">2</text>
<text x="413.80" y="246.90" font-size="3.2" fill="#7c72c2" text-anchor="middle">10</text><text x="415.50" y="245.80" font-size="1.98" fill="#7c72c2">3</text>
<text x="422.50" y="246.90" font-size="3.2" fill="#7c72c2" text-anchor="middle">10</text><text x="424.20" y="245.80" font-size="1.98" fill="#7c72c2">4</text>
<path d="M395.4 214.6V242.6H423" fill="none" stroke="#5f6c9c" stroke-width="1.0"/>
<text x="396.3" y="219.0" font-size="3.5" text-anchor="start" font-weight="bold" fill="#2a30e0" stroke="#2a30e0" stroke-width="0.1" >CD8: 3.63%</text>
<text x="424" y="241.5" font-size="3.5" text-anchor="end" font-weight="bold" fill="#902070" stroke="#902070" stroke-width="0.1" >CD4: 7.29%</text>
<path d="M407.6 279.5L403.5 279.5L398.3 277.9L395.6 277.7L395.4 271.3L395.6 266.8L397.8 265.0L400.8 263.3L401.4 262.5L402.8 259.2L403.4 258.5L404.0 258.1L404.8 258.2L405.4 258.7L406.1 259.7L407.6 263.3L408.2 263.8L409.2 264.1L410.4 264.0L411.9 263.7L420.0 260.9L423.0 260.2L423.0 262.6L420.6 265.1L419.3 268.3L418.4 269.7L411.6 276.1L407.6 279.5Z" fill="none" stroke="#7880d8" stroke-width="0.5"/>
<path d="M405.6 278.7L403.4 278.6L398.8 276.9L395.6 276.3L395.6 268.5L396.8 268.1L398.6 266.5L401.2 264.7L401.8 263.7L402.8 260.9L403.4 259.9L403.8 259.5L404.4 259.4L405.2 259.9L405.9 261.1L407.0 264.2L407.6 264.9L408.2 265.1L410.4 264.9L418.4 262.4L419.8 262.2L420.6 262.4L420.6 263.1L419.1 265.5L418.1 268.3L417.0 269.9L415.6 271.2L412.3 273.5L408.0 276.9L406.7 278.3L405.6 278.7Z" fill="none" stroke="#4a52cc" stroke-width="0.55"/>
<path d="M404.8 277.5L403.8 277.6L402.4 277.4L397.4 275.5L396.5 274.7L395.6 272.6L395.6 269.9L397.4 269.6L398.0 269.3L399.6 267.5L401.8 265.7L402.4 264.7L403.2 262.0L403.8 261.1L404.4 260.9L405.0 261.4L405.5 262.3L406.4 265.1L407.0 265.8L407.8 266.1L409.6 266.0L415.6 264.1L417.0 264.0L417.6 264.3L417.7 265.1L417.1 267.5L416.6 268.5L415.9 269.5L414.4 270.7L411.0 272.7L408.4 275.2L404.8 277.5Z" fill="none" stroke="#3038c0" stroke-width="0.55"/>
<path d="M404.2 276.5L403.2 276.6L402.0 276.4L398.2 274.9L397.1 273.7L396.6 271.9L396.8 271.3L398.6 270.4L400.2 268.0L402.7 265.9L404.0 263.1L404.4 263.0L404.7 263.3L405.5 265.3L405.9 265.9L406.8 266.5L407.8 266.9L409.4 266.9L414.0 265.5L414.8 265.5L415.4 265.7L415.6 266.3L415.5 267.3L415.1 268.3L414.4 269.1L413.3 269.9L410.6 271.3L408.7 273.9L407.6 274.9L406.0 275.8L404.2 276.5Z" fill="none" stroke="#2830b8" stroke-width="0.55"/>
<path d="M404.0 275.7L402.6 275.7L400.8 275.2L399.2 274.4L398.4 273.5L398.3 272.5L399.2 271.3L399.9 269.5L400.7 268.3L403.0 266.6L404.4 266.0L408.0 267.7L410.4 268.3L410.5 268.7L408.9 272.5L408.1 273.7L406.4 275.0L404.0 275.7Z" fill="none" stroke="#2028b0" stroke-width="0.55"/>
<circle cx="418.0" cy="271.3" r="0.28" fill="#9aa2ea"/>
<circle cx="411.2" cy="263.9" r="0.28" fill="#9aa2ea"/>
<circle cx="421.4" cy="266.1" r="0.28" fill="#9aa2ea"/>
<circle cx="406.2" cy="260.7" r="0.28" fill="#9aa2ea"/>
<circle cx="411.8" cy="278.1" r="0.28" fill="#9aa2ea"/>
<circle cx="402.4" cy="258.7" r="0.28" fill="#9aa2ea"/>
<circle cx="402.6" cy="256.9" r="0.28" fill="#9aa2ea"/>
<circle cx="419.0" cy="265.1" r="0.28" fill="#9aa2ea"/>
<circle cx="401.0" cy="260.7" r="0.28" fill="#9aa2ea"/>
<circle cx="402.8" cy="260.5" r="0.28" fill="#9aa2ea"/>
<circle cx="396.2" cy="276.3" r="0.28" fill="#9aa2ea"/>
<circle cx="413.8" cy="262.3" r="0.28" fill="#9aa2ea"/>
<circle cx="409.2" cy="278.7" r="0.28" fill="#9aa2ea"/>
<circle cx="410.8" cy="275.5" r="0.28" fill="#9aa2ea"/>
<circle cx="411.6" cy="277.9" r="0.28" fill="#9aa2ea"/>
<circle cx="416.0" cy="272.3" r="0.28" fill="#9aa2ea"/>
<circle cx="409.8" cy="276.5" r="0.28" fill="#9aa2ea"/>
<circle cx="423.0" cy="262.3" r="0.28" fill="#9aa2ea"/>
<circle cx="400.4" cy="261.7" r="0.28" fill="#9aa2ea"/>
<circle cx="415.0" cy="271.9" r="0.28" fill="#9aa2ea"/>
<circle cx="411.4" cy="275.7" r="0.28" fill="#9aa2ea"/>
<circle cx="409.8" cy="264.5" r="0.28" fill="#9aa2ea"/>
<circle cx="408.0" cy="261.7" r="0.28" fill="#9aa2ea"/>
<circle cx="410.4" cy="261.9" r="0.28" fill="#9aa2ea"/>
<circle cx="421.0" cy="261.1" r="0.28" fill="#9aa2ea"/>
<path d="M404.8 274.7L403.2 274.7L401.8 274.3L400.8 273.5L400.3 272.3L400.4 270.5L401.1 269.1L402.4 267.9L404.0 267.3L405.4 267.5L407.1 268.3L407.9 269.1L408.4 270.3L408.1 271.9L407.4 273.3L406.2 274.2L404.8 274.7Z" fill="#2024d4"/>
<path d="M404.4 273.9L403.2 273.8L402.2 273.3L401.5 272.3L401.3 271.3L401.4 270.3L402.0 269.3L403.0 268.5L404.2 268.2L405.4 268.4L406.4 269.0L407.2 269.9L407.4 270.9L407.2 271.9L406.6 272.9L405.6 273.6L404.4 273.9Z" fill="#18b0f0"/>
<path d="M404.6 273.3L403.6 273.3L402.8 272.9L402.2 272.3L401.9 271.5L402.0 270.5L402.4 269.8L403.2 269.1L404.0 268.8L405.0 268.9L405.8 269.3L406.4 269.9L406.7 270.7L406.6 271.7L406.2 272.4L405.4 273.1L404.6 273.3Z" fill="#30c838"/>
<path d="M405.0 272.7L404.2 272.9L403.4 272.7L402.9 272.3L402.5 271.7L402.4 271.1L402.6 270.3L403.0 269.8L403.6 269.4L404.2 269.3L405.0 269.4L405.6 269.7L406.0 270.3L406.2 270.9L406.1 271.7L405.7 272.3L405.0 272.7Z" fill="#f4f000"/>
<path d="M404.8 272.4L403.6 272.3L402.9 271.5L403.0 270.5L403.8 269.8L404.8 269.8L405.6 270.5L405.8 271.1L405.6 271.7L404.8 272.4Z" fill="#ff9a00"/>
<path d="M404.8 271.9L404.0 272.0L403.4 271.6L403.3 270.9L403.7 270.3L404.6 270.1L405.2 270.6L405.3 271.3L404.8 271.9Z" fill="#f01010"/>
<path d="M395.6 251.8H410.8V268.5H395.6" fill="none" stroke="#6a74e8" stroke-width="0.45"/>
<path d="M407.9 266L421.1 262V279.4" fill="none" stroke="#a83888" stroke-width="0.7"/>
<text x="393.40" y="253.10" font-size="3.2" fill="#7c72c2" text-anchor="end">10</text><text x="393.40" y="252.00" font-size="1.98" fill="#7c72c2">1</text>
<text x="393.40" y="259.77" font-size="3.2" fill="#7c72c2" text-anchor="end">10</text><text x="393.40" y="258.67" font-size="1.98" fill="#7c72c2">2</text>
<text x="393.40" y="266.45" font-size="3.2" fill="#7c72c2" text-anchor="end">10</text><text x="393.40" y="265.35" font-size="1.98" fill="#7c72c2">3</text>
<text x="393.40" y="273.12" font-size="3.2" fill="#7c72c2" text-anchor="end">10</text><text x="393.40" y="272.02" font-size="1.98" fill="#7c72c2">4</text>
<text x="393.40" y="279.80" font-size="3.2" fill="#7c72c2" text-anchor="end">10</text><text x="393.40" y="278.70" font-size="1.98" fill="#7c72c2">5</text>
<text x="396.40" y="283.70" font-size="3.2" fill="#7c72c2" text-anchor="middle">10</text><text x="398.10" y="282.60" font-size="1.98" fill="#7c72c2">1</text>
<text x="405.10" y="283.70" font-size="3.2" fill="#7c72c2" text-anchor="middle">10</text><text x="406.80" y="282.60" font-size="1.98" fill="#7c72c2">2</text>
<text x="413.80" y="283.70" font-size="3.2" fill="#7c72c2" text-anchor="middle">10</text><text x="415.50" y="282.60" font-size="1.98" fill="#7c72c2">3</text>
<text x="422.50" y="283.70" font-size="3.2" fill="#7c72c2" text-anchor="middle">10</text><text x="424.20" y="282.60" font-size="1.98" fill="#7c72c2">4</text>
<path d="M395.4 251.5V279.4H423" fill="none" stroke="#5f6c9c" stroke-width="1.0"/>
<text x="396.3" y="255.9" font-size="3.5" text-anchor="start" font-weight="bold" fill="#2a30e0" stroke="#2a30e0" stroke-width="0.1" >CD8: 5.47%</text>
<text x="424" y="278.29999999999995" font-size="3.5" text-anchor="end" font-weight="bold" fill="#902070" stroke="#902070" stroke-width="0.1" >CD4: 8.33%</text>
<path d="M408.2 317.0L401.9 317.0L398.3 315.8L395.6 315.6L395.4 309.2L395.6 304.7L397.8 302.9L400.8 301.2L401.4 300.4L402.8 297.1L403.4 296.4L404.0 296.0L404.8 296.1L405.4 296.6L406.1 297.6L407.6 301.2L408.2 301.7L409.2 302.0L410.4 301.9L411.9 301.6L420.0 298.8L423.0 298.1L423.0 300.5L420.6 303.0L419.3 306.2L418.4 307.6L417.2 308.9L414.3 311.4L411.6 314.0L409.3 315.8L408.2 317.0Z" fill="none" stroke="#7880d8" stroke-width="0.5"/>
<path d="M405.6 316.6L403.4 316.5L398.8 314.8L395.6 314.2L395.6 306.4L396.8 306.0L398.6 304.4L401.2 302.6L401.8 301.6L402.8 298.8L403.4 297.8L403.8 297.4L404.4 297.3L405.2 297.8L405.9 299.0L407.0 302.1L407.6 302.8L408.2 303.0L410.4 302.8L418.4 300.3L419.8 300.1L420.6 300.3L420.6 301.0L419.1 303.4L418.1 306.2L417.0 307.8L415.6 309.1L412.3 311.4L408.0 314.8L406.7 316.2L405.6 316.6Z" fill="none" stroke="#4a52cc" stroke-width="0.55"/>
<path d="M404.8 315.4L403.8 315.5L402.4 315.3L397.4 313.4L396.5 312.6L395.6 310.5L395.6 307.8L397.4 307.5L398.0 307.2L399.6 305.4L401.8 303.6L402.4 302.6L403.2 299.9L403.8 299.0L404.4 298.8L405.0 299.3L405.5 300.2L406.4 303.0L407.0 303.7L407.8 304.0L409.6 303.9L415.6 302.0L417.0 301.9L417.6 302.2L417.7 303.0L417.1 305.4L416.6 306.4L415.9 307.4L414.4 308.6L411.0 310.6L408.4 313.1L404.8 315.4Z" fill="none" stroke="#3038c0" stroke-width="0.55"/>
<path d="M404.2 314.4L403.2 314.5L402.0 314.3L398.2 312.8L397.1 311.6L396.6 309.8L396.8 309.2L398.6 308.3L400.2 305.9L402.7 303.8L404.0 301.0L404.4 300.9L404.7 301.2L405.5 303.2L405.9 303.8L406.8 304.4L407.8 304.8L409.4 304.8L414.0 303.4L414.8 303.4L415.4 303.6L415.6 304.2L415.5 305.2L415.1 306.2L414.4 307.0L413.3 307.8L410.6 309.2L408.7 311.8L407.6 312.8L406.0 313.7L404.2 314.4Z" fill="none" stroke="#2830b8" stroke-width="0.55"/>
<path d="M404.0 313.6L402.6 313.6L400.8 313.1L399.2 312.3L398.4 311.4L398.3 310.4L399.2 309.2L399.9 307.4L400.7 306.2L403.0 304.5L404.4 303.9L408.0 305.6L410.4 306.2L410.5 306.6L408.9 310.4L408.1 311.6L406.4 312.9L404.0 313.6Z" fill="none" stroke="#2028b0" stroke-width="0.55"/>
<circle cx="414.6" cy="311.8" r="0.28" fill="#9aa2ea"/>
<circle cx="411.0" cy="314.0" r="0.28" fill="#9aa2ea"/>
<circle cx="417.6" cy="300.2" r="0.28" fill="#9aa2ea"/>
<circle cx="414.0" cy="312.6" r="0.28" fill="#9aa2ea"/>
<circle cx="401.0" cy="302.6" r="0.28" fill="#9aa2ea"/>
<circle cx="397.6" cy="315.2" r="0.28" fill="#9aa2ea"/>
<circle cx="419.8" cy="297.4" r="0.28" fill="#9aa2ea"/>
<circle cx="421.0" cy="307.0" r="0.28" fill="#9aa2ea"/>
<circle cx="404.0" cy="295.2" r="0.28" fill="#9aa2ea"/>
<circle cx="407.6" cy="300.0" r="0.28" fill="#9aa2ea"/>
<circle cx="406.6" cy="296.0" r="0.28" fill="#9aa2ea"/>
<circle cx="418.2" cy="307.0" r="0.28" fill="#9aa2ea"/>
<circle cx="421.4" cy="296.8" r="0.28" fill="#9aa2ea"/>
<circle cx="397.4" cy="303.4" r="0.28" fill="#9aa2ea"/>
<circle cx="408.0" cy="316.8" r="0.28" fill="#9aa2ea"/>
<circle cx="417.4" cy="308.4" r="0.28" fill="#9aa2ea"/>
<circle cx="396.0" cy="302.2" r="0.28" fill="#9aa2ea"/>
<circle cx="405.8" cy="298.6" r="0.28" fill="#9aa2ea"/>
<circle cx="413.4" cy="313.0" r="0.28" fill="#9aa2ea"/>
<circle cx="419.6" cy="305.6" r="0.28" fill="#9aa2ea"/>
<circle cx="395.6" cy="314.6" r="0.28" fill="#9aa2ea"/>
<circle cx="404.8" cy="294.6" r="0.28" fill="#9aa2ea"/>
<circle cx="399.4" cy="302.6" r="0.28" fill="#9aa2ea"/>
<circle cx="396.6" cy="302.2" r="0.28" fill="#9aa2ea"/>
<circle cx="401.6" cy="301.8" r="0.28" fill="#9aa2ea"/>
<path d="M404.8 312.6L403.2 312.6L401.8 312.2L400.8 311.4L400.3 310.2L400.4 308.4L401.1 307.0L402.4 305.8L404.0 305.2L405.4 305.4L407.1 306.2L407.9 307.0L408.4 308.2L408.1 309.8L407.4 311.2L406.2 312.1L404.8 312.6Z" fill="#2024d4"/>
<path d="M404.4 311.8L403.2 311.7L402.2 311.2L401.5 310.2L401.3 309.2L401.4 308.2L402.0 307.2L403.0 306.4L404.2 306.1L405.4 306.3L406.4 306.9L407.2 307.8L407.4 308.8L407.2 309.8L406.6 310.8L405.6 311.5L404.4 311.8Z" fill="#18b0f0"/>
<path d="M404.6 311.2L403.6 311.2L402.8 310.8L402.2 310.2L401.9 309.4L402.0 308.4L402.4 307.7L403.2 307.0L404.0 306.7L405.0 306.8L405.8 307.2L406.4 307.8L406.7 308.6L406.6 309.6L406.2 310.3L405.4 311.0L404.6 311.2Z" fill="#30c838"/>
<path d="M405.0 310.6L404.2 310.8L403.4 310.6L402.9 310.2L402.5 309.6L402.4 309.0L402.6 308.2L403.0 307.7L403.6 307.3L404.2 307.2L405.0 307.3L405.6 307.6L406.0 308.2L406.2 308.8L406.1 309.6L405.7 310.2L405.0 310.6Z" fill="#f4f000"/>
<path d="M404.8 310.3L403.6 310.2L402.9 309.4L403.0 308.4L403.8 307.7L404.8 307.7L405.6 308.4L405.8 309.0L405.6 309.6L404.8 310.3Z" fill="#ff9a00"/>
<path d="M404.8 309.8L404.0 309.9L403.4 309.5L403.3 308.8L403.7 308.2L404.6 308.0L405.2 308.5L405.3 309.2L404.8 309.8Z" fill="#f01010"/>
<path d="M395.6 289.90000000000003H410.8V306.4H395.6" fill="none" stroke="#6a74e8" stroke-width="0.45"/>
<path d="M407.9 304L421.1 300V317" fill="none" stroke="#a83888" stroke-width="0.7"/>
<text x="393.40" y="291.20" font-size="3.2" fill="#7c72c2" text-anchor="end">10</text><text x="393.40" y="290.10" font-size="1.98" fill="#7c72c2">1</text>
<text x="393.40" y="297.75" font-size="3.2" fill="#7c72c2" text-anchor="end">10</text><text x="393.40" y="296.65" font-size="1.98" fill="#7c72c2">2</text>
<text x="393.40" y="304.30" font-size="3.2" fill="#7c72c2" text-anchor="end">10</text><text x="393.40" y="303.20" font-size="1.98" fill="#7c72c2">3</text>
<text x="393.40" y="310.85" font-size="3.2" fill="#7c72c2" text-anchor="end">10</text><text x="393.40" y="309.75" font-size="1.98" fill="#7c72c2">4</text>
<text x="393.40" y="317.40" font-size="3.2" fill="#7c72c2" text-anchor="end">10</text><text x="393.40" y="316.30" font-size="1.98" fill="#7c72c2">5</text>
<text x="396.40" y="321.30" font-size="3.2" fill="#7c72c2" text-anchor="middle">10</text><text x="398.10" y="320.20" font-size="1.98" fill="#7c72c2">1</text>
<text x="405.10" y="321.30" font-size="3.2" fill="#7c72c2" text-anchor="middle">10</text><text x="406.80" y="320.20" font-size="1.98" fill="#7c72c2">2</text>
<text x="413.80" y="321.30" font-size="3.2" fill="#7c72c2" text-anchor="middle">10</text><text x="415.50" y="320.20" font-size="1.98" fill="#7c72c2">3</text>
<text x="422.50" y="321.30" font-size="3.2" fill="#7c72c2" text-anchor="middle">10</text><text x="424.20" y="320.20" font-size="1.98" fill="#7c72c2">4</text>
<path d="M395.4 289.6V317H423" fill="none" stroke="#5f6c9c" stroke-width="1.0"/>
<text x="396.3" y="294.0" font-size="3.5" text-anchor="start" font-weight="bold" fill="#2a30e0" stroke="#2a30e0" stroke-width="0.1" >CD8: 3.95%</text>
<text x="424" y="315.9" font-size="3.5" text-anchor="end" font-weight="bold" fill="#902070" stroke="#902070" stroke-width="0.1" >CD4: 9.47%</text>
<line x1="384.6" y1="304.4" x2="384.6" y2="223.8" stroke="#111" stroke-width="1.3"/>
<path d="M384.6 220.8L387.0 225.8L382.20000000000005 225.8Z" fill="#111"/>
<text x="377.5" y="231.2" font-size="7.0" text-anchor="middle" font-weight="normal" fill="#111" textLength="4.02" lengthAdjust="spacingAndGlyphs" stroke="#111" stroke-width="0.12" >V</text>
<text x="377" y="271.3" font-size="7.0" text-anchor="middle" font-weight="normal" fill="#111" textLength="4.35" lengthAdjust="spacingAndGlyphs" stroke="#111" stroke-width="0.12" >D</text>
<text x="377" y="302" font-size="7.0" text-anchor="middle" font-weight="normal" fill="#111" textLength="4.02" lengthAdjust="spacingAndGlyphs" stroke="#111" stroke-width="0.12" >K</text>
<text transform="translate(387.65,312.6) rotate(-90)" x="0" y="0" font-size="8.2" text-anchor="middle" fill="#111" stroke="#111" stroke-width="0.22" textLength="10.7" lengthAdjust="spacingAndGlyphs">CD8</text>
<text x="405.2" y="330.4" font-size="8.2" text-anchor="start" font-weight="normal" fill="#111" textLength="10.6" lengthAdjust="spacingAndGlyphs" stroke="#111" stroke-width="0.3" >CD4</text>
<text transform="translate(440.58,269.1) rotate(-90)" x="0" y="0" font-size="8.0" text-anchor="middle" fill="#111" stroke="#111" stroke-width="0.08" textLength="18.1" lengthAdjust="spacingAndGlyphs">% CD8</text>
<path d="M455.4 229V310.4H498" fill="none" stroke="#111" stroke-width="1.3"/>
<line x1="452.59999999999997" y1="231" x2="455.4" y2="231" stroke="#111" stroke-width="1.3"/>
<text x="448.79999999999995" y="233.0048" font-size="5.6" text-anchor="end" font-weight="normal" fill="#1a1a1a" textLength="3.20" lengthAdjust="spacingAndGlyphs" stroke="#1a1a1a" stroke-width="0.12" >4</text>
<line x1="452.59999999999997" y1="251" x2="455.4" y2="251" stroke="#111" stroke-width="1.3"/>
<text x="448.79999999999995" y="253.0048" font-size="5.6" text-anchor="end" font-weight="normal" fill="#1a1a1a" textLength="3.20" lengthAdjust="spacingAndGlyphs" stroke="#1a1a1a" stroke-width="0.12" >3</text>
<line x1="452.59999999999997" y1="270.8" x2="455.4" y2="270.8" stroke="#111" stroke-width="1.3"/>
<text x="448.79999999999995" y="272.8048" font-size="5.6" text-anchor="end" font-weight="normal" fill="#1a1a1a" textLength="3.20" lengthAdjust="spacingAndGlyphs" stroke="#1a1a1a" stroke-width="0.12" >2</text>
<line x1="452.59999999999997" y1="290.8" x2="455.4" y2="290.8" stroke="#111" stroke-width="1.3"/>
<text x="448.79999999999995" y="292.8048" font-size="5.6" text-anchor="end" font-weight="normal" fill="#1a1a1a" textLength="3.20" lengthAdjust="spacingAndGlyphs" stroke="#1a1a1a" stroke-width="0.12" >1</text>
<line x1="452.59999999999997" y1="310.4" x2="455.4" y2="310.4" stroke="#111" stroke-width="1.3"/>
<text x="448.79999999999995" y="312.40479999999997" font-size="5.6" text-anchor="end" font-weight="normal" fill="#1a1a1a" textLength="3.20" lengthAdjust="spacingAndGlyphs" stroke="#1a1a1a" stroke-width="0.12" >0</text>
<line x1="465.7" y1="310.4" x2="465.7" y2="313.2" stroke="#111" stroke-width="1.3"/>
<text x="465.7" y="322.29999999999995" font-size="7.0" text-anchor="middle" font-weight="normal" fill="#1a1a1a" textLength="4.11" lengthAdjust="spacingAndGlyphs" stroke="#1a1a1a" stroke-width="0.12" >V</text>
<line x1="477" y1="310.4" x2="477" y2="313.2" stroke="#111" stroke-width="1.3"/>
<text x="477" y="322.29999999999995" font-size="7.0" text-anchor="middle" font-weight="normal" fill="#1a1a1a" textLength="4.45" lengthAdjust="spacingAndGlyphs" stroke="#1a1a1a" stroke-width="0.12" >D</text>
<line x1="488.2" y1="310.4" x2="488.2" y2="313.2" stroke="#111" stroke-width="1.3"/>
<text x="488.2" y="322.29999999999995" font-size="7.0" text-anchor="middle" font-weight="normal" fill="#1a1a1a" textLength="4.11" lengthAdjust="spacingAndGlyphs" stroke="#1a1a1a" stroke-width="0.12" >K</text>
<path d="M465.4 230.20000000000002V227.4H477.2V230.20000000000002" fill="none" stroke="#222" stroke-width="1.0"/>
<text x="471.29999999999995" y="227.1" font-size="6.2" text-anchor="middle" font-weight="normal" fill="#222" stroke="#222" stroke-width="0.25" >*</text>
<path d="M465.5 258.8V261.6M463.5 258.8H467.5M463.5 261.6H467.5" stroke="#58a834" stroke-width="0.7" fill="none"/>
<line x1="461.0" y1="260.2" x2="470.0" y2="260.2" stroke="#333" stroke-width="1.1"/>
<circle cx="461.3" cy="258.1" r="1.57" fill="#58a834"/>
<circle cx="464.8" cy="259.2" r="1.57" fill="#58a834"/>
<circle cx="467.7" cy="260.9" r="1.57" fill="#58a834"/>
<circle cx="470.2" cy="261.6" r="1.57" fill="#58a834"/>
<circle cx="461.3" cy="262.3" r="1.57" fill="#58a834"/>
<path d="M477 236.5V238.8M475 236.5H479M475 238.8H479" stroke="#b01038" stroke-width="0.7" fill="none"/>
<line x1="472.5" y1="237.5" x2="481.5" y2="237.5" stroke="#333" stroke-width="1.1"/>
<rect x="470.62" y="235.02" width="3.36" height="3.36" fill="#b01038"/>
<rect x="475.02" y="236.32" width="3.36" height="3.36" fill="#b01038"/>
<rect x="479.62" y="238.12" width="3.36" height="3.36" fill="#b01038"/>
<rect x="470.62" y="240.02" width="3.36" height="3.36" fill="#b01038"/>
<rect x="476.32" y="235.52" width="3.36" height="3.36" fill="#b01038"/>
<path d="M488.2 262V266M486.2 262H490.2M486.2 266H490.2" stroke="#1e4390" stroke-width="0.7" fill="none"/>
<line x1="483.2" y1="263.7" x2="493.2" y2="263.7" stroke="#333" stroke-width="1.1"/>
<path d="M483.8 261.52L485.49 264.49L482.11 264.49Z" fill="#1e4390"/>
<path d="M488.4 261.22L490.09 264.19L486.71 264.19Z" fill="#1e4390"/>
<path d="M492.6 261.52L494.29 264.49L490.91 264.49Z" fill="#1e4390"/>
<path d="M486.2 264.92L487.89 267.89L484.51 267.89Z" fill="#1e4390"/>
<path d="M489.8 264.92L491.49 267.89L488.11 267.89Z" fill="#1e4390"/>
<path d="M488.4 271.52L490.09 274.49L486.71 274.49Z" fill="#1e4390"/>
<text x="6.4" y="357.4" font-size="10.8" text-anchor="start" font-weight="bold" fill="#000" stroke="#000" stroke-width="0.25" >G</text>
<text x="39.3" y="371.0" font-size="6.5" text-anchor="start" font-weight="normal" fill="#111" textLength="51.9" lengthAdjust="spacingAndGlyphs" stroke="#111" stroke-width="0.06" >CD8<tspan font-size="4.8" baseline-shift="2.2">+</tspan> gated T cells</text>
<path d="M59.8 398.6L57.6 398.5L55.6 397.7L54.2 396.4L53.6 394.8L53.6 393.4L54.1 392.2L56.0 389.8L57.0 387.3L57.8 386.7L58.4 386.8L58.8 387.1L59.8 389.0L60.4 389.6L63.8 391.5L67.0 392.6L67.8 393.4L68.2 394.2L68.0 395.4L66.8 396.5L65.8 396.9L63.4 397.4L61.2 398.3L59.8 398.6Z" fill="none" stroke="#a4aaea" stroke-width="0.35"/>
<path d="M60.2 398.0L58.4 398.2L56.6 397.7L55.1 396.6L54.3 395.2L54.2 393.8L54.8 392.2L56.2 390.7L57.8 389.8L59.0 389.8L61.2 390.7L63.8 392.4L66.0 393.4L66.7 394.2L66.6 395.0L66.0 395.6L63.6 396.5L61.6 397.5L60.2 398.0Z" fill="none" stroke="#7e86e4" stroke-width="0.4"/>
<path d="M60.0 397.6L58.4 397.7L56.8 397.3L55.6 396.5L54.9 395.4L54.6 394.0L55.1 392.6L56.0 391.5L57.4 390.7L59.0 390.5L61.0 391.1L62.6 392.2L64.3 394.2L64.3 394.6L64.1 395.0L62.5 396.4L61.4 397.1L60.0 397.6Z" fill="none" stroke="#5560dc" stroke-width="0.4"/>
<circle cx="60.8" cy="388.6" r="0.28" fill="#9aa2ea"/>
<circle cx="56.0" cy="389.2" r="0.28" fill="#9aa2ea"/>
<circle cx="66.0" cy="390.8" r="0.28" fill="#9aa2ea"/>
<circle cx="67.8" cy="392.2" r="0.28" fill="#9aa2ea"/>
<circle cx="53.0" cy="395.0" r="0.28" fill="#9aa2ea"/>
<circle cx="54.2" cy="391.6" r="0.28" fill="#9aa2ea"/>
<circle cx="61.8" cy="390.0" r="0.28" fill="#9aa2ea"/>
<circle cx="64.2" cy="390.4" r="0.28" fill="#9aa2ea"/>
<path d="M59.2 397.4L57.8 397.3L56.4 396.7L55.5 395.8L55.1 394.6L55.2 393.4L55.8 392.2L57.0 391.3L58.2 390.9L60.0 391.1L61.4 391.7L62.6 392.8L63.2 394.0L63.0 395.0L62.1 396.2L60.6 397.1L59.2 397.4Z" fill="#1c1cc4"/>
<path d="M59.4 396.6L58.4 396.6L57.4 396.3L56.5 395.6L56.0 394.8L56.0 393.8L56.3 393.0L57.0 392.3L57.8 391.9L59.0 391.7L60.2 392.0L61.2 392.6L61.9 393.6L61.9 394.6L61.4 395.6L60.6 396.2L59.4 396.6Z" fill="#1898f0"/>
<path d="M59.8 396.0L58.2 396.1L57.4 395.7L56.9 395.2L56.6 394.6L56.6 393.8L56.8 393.2L57.4 392.6L58.4 392.2L59.4 392.3L60.3 392.6L61.0 393.2L61.3 394.0L61.2 394.8L60.6 395.6L59.8 396.0Z" fill="#30c838"/>
<path d="M59.6 395.7L58.2 395.7L57.3 395.0L57.0 394.0L57.7 393.0L58.4 392.7L59.2 392.6L60.0 392.9L60.5 393.4L60.8 394.0L60.7 394.8L60.2 395.3L59.6 395.7Z" fill="#f4f000"/>
<path d="M59.0 395.4L58.0 395.2L57.5 394.4L57.6 393.6L58.6 393.0L59.7 393.2L60.4 394.0L60.3 394.6L60.0 395.0L59.0 395.4Z" fill="#ff9a00"/>
<path d="M59.2 395.0L58.5 395.0L58.0 394.6L57.9 394.0L58.4 393.4L59.2 393.4L59.8 393.8L59.8 394.6L59.2 395.0Z" fill="#f01010"/>
<text x="50.30" y="380.80" font-size="3.2" fill="#7c72c2" text-anchor="end">10</text><text x="50.30" y="379.70" font-size="1.98" fill="#7c72c2">1</text>
<text x="50.30" y="387.33" font-size="3.2" fill="#7c72c2" text-anchor="end">10</text><text x="50.30" y="386.23" font-size="1.98" fill="#7c72c2">2</text>
<text x="50.30" y="393.87" font-size="3.2" fill="#7c72c2" text-anchor="end">10</text><text x="50.30" y="392.77" font-size="1.98" fill="#7c72c2">3</text>
<text x="50.30" y="400.40" font-size="3.2" fill="#7c72c2" text-anchor="end">10</text><text x="50.30" y="399.30" font-size="1.98" fill="#7c72c2">4</text>
<text x="53.30" y="404.30" font-size="3.2" fill="#7c72c2" text-anchor="middle">10</text><text x="55.00" y="403.20" font-size="1.98" fill="#7c72c2">1</text>
<text x="59.97" y="404.30" font-size="3.2" fill="#7c72c2" text-anchor="middle">10</text><text x="61.67" y="403.20" font-size="1.98" fill="#7c72c2">2</text>
<text x="66.63" y="404.30" font-size="3.2" fill="#7c72c2" text-anchor="middle">10</text><text x="68.33" y="403.20" font-size="1.98" fill="#7c72c2">3</text>
<text x="73.30" y="404.30" font-size="3.2" fill="#7c72c2" text-anchor="middle">10</text><text x="75.00" y="403.20" font-size="1.98" fill="#7c72c2">4</text>
<line x1="61.7" y1="379.2" x2="61.7" y2="400" stroke="#5a5a5a" stroke-width="0.5"/>
<line x1="52.3" y1="390.3" x2="73.8" y2="390.3" stroke="#8a8a8a" stroke-width="0.6"/>
<path d="M52.3 379.2V400H73.8" fill="none" stroke="#5f6c9c" stroke-width="1.0"/>
<text x="52.9" y="382.228" font-size="2.6" text-anchor="start" font-weight="bold" fill="#111" stroke="#111" stroke-width="0.08" >0.00%</text>
<text x="73.5" y="382.228" font-size="2.6" text-anchor="end" font-weight="bold" fill="#111" stroke="#111" stroke-width="0.08" >0.12%</text>
<text x="52.9" y="399.1" font-size="2.6" text-anchor="start" font-weight="bold" fill="#111" stroke="#111" stroke-width="0.08" >96.76%</text>
<text x="73.5" y="399.1" font-size="2.6" text-anchor="end" font-weight="bold" fill="#111" stroke="#111" stroke-width="0.08" >1e-3%</text>
<path d="M59.5 421.5L65.6 412.6" stroke="#3038d8" stroke-width="2.6" stroke-linecap="round"/><path d="M60 420.5L65.4 412.9" stroke="#b8c4f4" stroke-width="0.9" stroke-linecap="round"/>
<path d="M59.8 427.2L57.6 427.1L55.6 426.3L54.2 425.0L53.6 423.4L53.6 422.0L54.1 420.8L56.0 418.4L57.0 415.9L57.8 415.3L58.4 415.4L58.8 415.7L59.8 417.6L60.4 418.2L63.8 420.1L67.0 421.2L67.8 422.0L68.2 422.8L68.0 424.0L66.8 425.1L65.8 425.5L63.4 426.0L61.2 426.9L59.8 427.2Z" fill="none" stroke="#a4aaea" stroke-width="0.35"/>
<path d="M60.2 426.6L58.4 426.8L56.6 426.3L55.1 425.2L54.3 423.8L54.2 422.4L54.8 420.8L56.2 419.3L57.8 418.4L59.0 418.4L61.2 419.3L63.8 421.0L66.0 422.0L66.7 422.8L66.6 423.6L66.0 424.2L63.6 425.1L61.6 426.1L60.2 426.6Z" fill="none" stroke="#7e86e4" stroke-width="0.4"/>
<path d="M60.0 426.2L58.4 426.3L56.8 425.9L55.6 425.1L54.9 424.0L54.6 422.6L55.1 421.2L56.0 420.1L57.4 419.3L59.0 419.1L61.0 419.7L62.6 420.8L64.3 422.8L64.3 423.2L64.1 423.6L62.5 425.0L61.4 425.7L60.0 426.2Z" fill="none" stroke="#5560dc" stroke-width="0.4"/>
<circle cx="58.6" cy="427.0" r="0.28" fill="#9aa2ea"/>
<circle cx="55.2" cy="416.2" r="0.28" fill="#9aa2ea"/>
<circle cx="55.2" cy="426.0" r="0.28" fill="#9aa2ea"/>
<circle cx="55.2" cy="418.6" r="0.28" fill="#9aa2ea"/>
<circle cx="56.6" cy="427.2" r="0.28" fill="#9aa2ea"/>
<circle cx="57.0" cy="416.4" r="0.28" fill="#9aa2ea"/>
<circle cx="59.8" cy="416.0" r="0.28" fill="#9aa2ea"/>
<circle cx="63.4" cy="418.8" r="0.28" fill="#9aa2ea"/>
<path d="M59.2 426.0L57.8 425.9L56.4 425.3L55.5 424.4L55.1 423.2L55.2 422.0L55.8 420.8L57.0 419.9L58.2 419.5L60.0 419.7L61.4 420.3L62.6 421.4L63.2 422.6L63.0 423.6L62.1 424.8L60.6 425.7L59.2 426.0Z" fill="#1c1cc4"/>
<path d="M59.4 425.2L58.4 425.2L57.4 424.9L56.5 424.2L56.0 423.4L56.0 422.4L56.3 421.6L57.0 420.9L57.8 420.5L59.0 420.3L60.2 420.6L61.2 421.2L61.9 422.2L61.9 423.2L61.4 424.2L60.6 424.8L59.4 425.2Z" fill="#1898f0"/>
<path d="M59.8 424.6L58.2 424.7L57.4 424.3L56.9 423.8L56.6 423.2L56.6 422.4L56.8 421.8L57.4 421.2L58.4 420.8L59.4 420.9L60.3 421.2L61.0 421.8L61.3 422.6L61.2 423.4L60.6 424.2L59.8 424.6Z" fill="#30c838"/>
<path d="M59.6 424.3L58.2 424.3L57.3 423.6L57.0 422.6L57.7 421.6L58.4 421.3L59.2 421.2L60.0 421.5L60.5 422.0L60.8 422.6L60.7 423.4L60.2 423.9L59.6 424.3Z" fill="#f4f000"/>
<path d="M59.0 424.0L58.0 423.8L57.5 423.0L57.6 422.2L58.6 421.6L59.7 421.8L60.4 422.6L60.3 423.2L60.0 423.6L59.0 424.0Z" fill="#ff9a00"/>
<path d="M59.2 423.6L58.5 423.6L58.0 423.2L57.9 422.6L58.4 422.0L59.2 422.0L59.8 422.4L59.8 423.2L59.2 423.6Z" fill="#f01010"/>
<text x="50.30" y="410.40" font-size="3.2" fill="#7c72c2" text-anchor="end">10</text><text x="50.30" y="409.30" font-size="1.98" fill="#7c72c2">1</text>
<text x="50.30" y="416.93" font-size="3.2" fill="#7c72c2" text-anchor="end">10</text><text x="50.30" y="415.83" font-size="1.98" fill="#7c72c2">2</text>
<text x="50.30" y="423.47" font-size="3.2" fill="#7c72c2" text-anchor="end">10</text><text x="50.30" y="422.37" font-size="1.98" fill="#7c72c2">3</text>
<text x="50.30" y="430.00" font-size="3.2" fill="#7c72c2" text-anchor="end">10</text><text x="50.30" y="428.90" font-size="1.98" fill="#7c72c2">4</text>
<text x="53.30" y="433.90" font-size="3.2" fill="#7c72c2" text-anchor="middle">10</text><text x="55.00" y="432.80" font-size="1.98" fill="#7c72c2">1</text>
<text x="59.97" y="433.90" font-size="3.2" fill="#7c72c2" text-anchor="middle">10</text><text x="61.67" y="432.80" font-size="1.98" fill="#7c72c2">2</text>
<text x="66.63" y="433.90" font-size="3.2" fill="#7c72c2" text-anchor="middle">10</text><text x="68.33" y="432.80" font-size="1.98" fill="#7c72c2">3</text>
<text x="73.30" y="433.90" font-size="3.2" fill="#7c72c2" text-anchor="middle">10</text><text x="75.00" y="432.80" font-size="1.98" fill="#7c72c2">4</text>
<line x1="61.7" y1="408.8" x2="61.7" y2="429.6" stroke="#5a5a5a" stroke-width="0.5"/>
<line x1="52.3" y1="419.6" x2="73.8" y2="419.6" stroke="#8a8a8a" stroke-width="0.6"/>
<path d="M52.3 408.8V429.6H73.8" fill="none" stroke="#5f6c9c" stroke-width="1.0"/>
<text x="52.9" y="411.82800000000003" font-size="2.6" text-anchor="start" font-weight="bold" fill="#111" stroke="#111" stroke-width="0.08" >0.37%</text>
<text x="73.5" y="411.82800000000003" font-size="2.6" text-anchor="end" font-weight="bold" fill="#111" stroke="#111" stroke-width="0.08" >14.03%</text>
<text x="52.9" y="428.70000000000005" font-size="2.6" text-anchor="start" font-weight="bold" fill="#111" stroke="#111" stroke-width="0.08" >70.72%</text>
<text x="73.5" y="428.70000000000005" font-size="2.6" text-anchor="end" font-weight="bold" fill="#111" stroke="#111" stroke-width="0.08" >0.41%</text>
<path d="M60.2 457.9L58.0 458.0L55.8 457.2L54.3 455.9L53.9 455.1L53.6 454.1L53.8 452.3L55.2 449.7L55.5 446.9L55.9 445.3L56.8 443.8L57.8 443.3L58.8 443.5L59.8 444.6L60.4 446.1L60.8 448.7L61.2 449.3L63.7 450.9L67.0 452.0L67.8 452.7L68.2 453.7L67.9 454.9L66.8 455.9L65.6 456.3L63.6 456.7L60.2 457.9Z" fill="none" stroke="#a4aaea" stroke-width="0.35"/>
<path d="M59.8 457.5L57.8 457.5L56.0 456.8L54.7 455.5L54.2 454.1L54.1 453.3L54.4 452.3L56.0 449.6L56.2 447.3L56.5 446.1L57.0 445.2L57.8 444.7L58.6 444.8L59.3 445.7L59.7 446.9L60.0 448.9L60.4 449.5L63.8 451.8L66.0 452.8L66.7 453.7L66.5 454.5L65.9 455.1L63.6 455.9L61.0 457.2L59.8 457.5Z" fill="none" stroke="#7e86e4" stroke-width="0.4"/>
<path d="M59.6 457.1L57.8 457.0L56.4 456.5L55.3 455.5L54.7 454.1L54.7 453.1L54.9 452.3L56.8 449.7L57.2 447.1L57.6 446.4L58.0 446.3L58.4 446.4L58.8 447.0L59.1 448.9L59.5 449.5L62.3 451.3L63.8 452.9L64.3 453.7L64.0 454.5L62.2 456.0L60.8 456.8L59.6 457.1Z" fill="none" stroke="#5560dc" stroke-width="0.4"/>
<circle cx="64.0" cy="449.7" r="0.28" fill="#9aa2ea"/>
<circle cx="64.2" cy="457.9" r="0.28" fill="#9aa2ea"/>
<circle cx="63.4" cy="457.3" r="0.28" fill="#9aa2ea"/>
<circle cx="56.0" cy="444.5" r="0.28" fill="#9aa2ea"/>
<circle cx="54.6" cy="449.9" r="0.28" fill="#9aa2ea"/>
<circle cx="65.0" cy="456.5" r="0.28" fill="#9aa2ea"/>
<circle cx="63.6" cy="450.3" r="0.28" fill="#9aa2ea"/>
<circle cx="53.6" cy="451.3" r="0.28" fill="#9aa2ea"/>
<path d="M59.8 456.7L58.4 456.8L57.0 456.4L55.8 455.5L55.1 454.3L55.1 453.1L55.6 451.9L56.8 450.6L58.0 449.8L59.0 450.0L61.4 451.1L62.5 452.1L63.1 453.3L63.1 454.3L62.4 455.3L61.2 456.2L59.8 456.7Z" fill="#1c1cc4"/>
<path d="M59.8 456.0L58.6 456.1L57.6 455.8L56.8 455.3L56.1 454.5L55.9 453.7L56.1 452.7L56.7 451.9L57.6 451.2L58.6 451.0L59.8 451.2L61.0 451.8L61.7 452.7L62.0 453.7L61.6 454.7L60.8 455.5L59.8 456.0Z" fill="#1898f0"/>
<path d="M59.4 455.5L57.8 455.3L57.1 454.9L56.7 454.3L56.5 453.7L56.7 452.9L57.1 452.3L57.8 451.8L58.8 451.6L59.8 451.7L60.6 452.2L61.2 452.9L61.3 453.7L61.1 454.5L60.4 455.1L59.4 455.5Z" fill="#30c838"/>
<path d="M59.4 455.1L58.0 455.0L57.1 454.1L57.1 453.1L57.5 452.5L58.0 452.2L58.8 452.0L59.6 452.1L60.3 452.5L60.7 453.1L60.8 453.7L60.6 454.3L60.2 454.7L59.4 455.1Z" fill="#f4f000"/>
<path d="M59.4 454.7L58.4 454.7L57.6 454.2L57.5 453.3L58.0 452.6L59.2 452.4L60.2 453.0L60.4 453.5L60.2 454.1L59.4 454.7Z" fill="#ff9a00"/>
<path d="M59.4 454.3L58.6 454.4L58.1 454.1L57.9 453.5L58.2 452.9L59.0 452.7L59.8 453.1L59.9 453.7L59.4 454.3Z" fill="#f01010"/>
<text x="50.30" y="440.90" font-size="3.2" fill="#7c72c2" text-anchor="end">10</text><text x="50.30" y="439.80" font-size="1.98" fill="#7c72c2">1</text>
<text x="50.30" y="447.40" font-size="3.2" fill="#7c72c2" text-anchor="end">10</text><text x="50.30" y="446.30" font-size="1.98" fill="#7c72c2">2</text>
<text x="50.30" y="453.90" font-size="3.2" fill="#7c72c2" text-anchor="end">10</text><text x="50.30" y="452.80" font-size="1.98" fill="#7c72c2">3</text>
<text x="50.30" y="460.40" font-size="3.2" fill="#7c72c2" text-anchor="end">10</text><text x="50.30" y="459.30" font-size="1.98" fill="#7c72c2">4</text>
<text x="53.30" y="464.30" font-size="3.2" fill="#7c72c2" text-anchor="middle">10</text><text x="55.00" y="463.20" font-size="1.98" fill="#7c72c2">1</text>
<text x="59.97" y="464.30" font-size="3.2" fill="#7c72c2" text-anchor="middle">10</text><text x="61.67" y="463.20" font-size="1.98" fill="#7c72c2">2</text>
<text x="66.63" y="464.30" font-size="3.2" fill="#7c72c2" text-anchor="middle">10</text><text x="68.33" y="463.20" font-size="1.98" fill="#7c72c2">3</text>
<text x="73.30" y="464.30" font-size="3.2" fill="#7c72c2" text-anchor="middle">10</text><text x="75.00" y="463.20" font-size="1.98" fill="#7c72c2">4</text>
<line x1="61.7" y1="439.3" x2="61.7" y2="460" stroke="#5a5a5a" stroke-width="0.5"/>
<line x1="52.3" y1="450.3" x2="73.8" y2="450.3" stroke="#8a8a8a" stroke-width="0.6"/>
<path d="M52.3 439.3V460H73.8" fill="none" stroke="#5f6c9c" stroke-width="1.0"/>
<text x="52.9" y="442.32800000000003" font-size="2.6" text-anchor="start" font-weight="bold" fill="#111" stroke="#111" stroke-width="0.08" >0.02%</text>
<text x="73.5" y="442.32800000000003" font-size="2.6" text-anchor="end" font-weight="bold" fill="#111" stroke="#111" stroke-width="0.08" >0.00%</text>
<text x="52.9" y="459.1" font-size="2.6" text-anchor="start" font-weight="bold" fill="#111" stroke="#111" stroke-width="0.08" >95.33%</text>
<text x="73.5" y="459.1" font-size="2.6" text-anchor="end" font-weight="bold" fill="#111" stroke="#111" stroke-width="0.08" >0.01%</text>
<path d="M60.2 488.6L58.0 488.7L56.0 488.1L54.5 486.8L53.7 485.2L53.6 483.4L54.9 480.6L55.1 478.0L55.4 476.6L56.2 475.0L57.2 474.3L57.8 474.2L58.4 474.5L59.3 475.4L59.9 476.6L60.4 479.0L60.8 479.8L63.7 481.6L67.0 482.7L67.8 483.4L68.2 484.2L68.2 485.0L67.9 485.6L66.8 486.6L65.6 487.0L63.6 487.4L60.2 488.6Z" fill="none" stroke="#a4aaea" stroke-width="0.35"/>
<path d="M59.8 488.2L57.8 488.2L56.0 487.5L54.7 486.2L54.2 484.8L54.3 483.2L55.6 480.5L56.0 477.2L56.6 476.1L57.4 475.6L58.2 475.8L58.9 476.6L59.3 477.6L59.7 479.4L60.0 480.0L63.8 482.5L66.0 483.5L66.7 484.4L66.5 485.2L65.9 485.8L63.6 486.6L61.0 487.9L59.8 488.2Z" fill="none" stroke="#7e86e4" stroke-width="0.4"/>
<path d="M59.6 487.8L58.0 487.8L56.6 487.3L55.4 486.3L54.7 485.0L54.6 484.0L54.8 483.2L56.4 480.6L56.7 478.2L57.0 477.6L57.4 477.3L57.8 477.3L58.2 477.6L58.8 479.6L59.2 480.2L62.2 481.9L63.6 483.4L64.3 484.4L64.0 485.2L62.2 486.7L60.8 487.5L59.6 487.8Z" fill="none" stroke="#5560dc" stroke-width="0.4"/>
<circle cx="58.4" cy="488.8" r="0.28" fill="#9aa2ea"/>
<circle cx="54.0" cy="477.4" r="0.28" fill="#9aa2ea"/>
<circle cx="66.2" cy="481.8" r="0.28" fill="#9aa2ea"/>
<circle cx="54.0" cy="481.8" r="0.28" fill="#9aa2ea"/>
<circle cx="55.6" cy="475.8" r="0.28" fill="#9aa2ea"/>
<circle cx="69.0" cy="484.0" r="0.28" fill="#9aa2ea"/>
<circle cx="54.8" cy="477.2" r="0.28" fill="#9aa2ea"/>
<circle cx="58.8" cy="488.8" r="0.28" fill="#9aa2ea"/>
<path d="M59.8 487.4L58.4 487.5L57.0 487.1L55.8 486.2L55.1 485.0L55.1 483.8L55.4 482.8L56.4 481.5L57.6 480.5L58.8 480.7L61.2 481.7L62.3 482.6L63.1 483.8L63.1 484.8L62.6 485.8L61.2 486.9L59.8 487.4Z" fill="#1c1cc4"/>
<path d="M59.8 486.7L58.6 486.8L57.6 486.5L56.8 486.0L56.1 485.2L55.9 484.4L56.1 483.4L56.6 482.6L57.4 482.0L58.6 481.7L59.8 481.9L61.0 482.5L61.7 483.4L62.0 484.4L61.6 485.4L60.8 486.2L59.8 486.7Z" fill="#1898f0"/>
<path d="M59.4 486.2L57.8 486.1L57.1 485.6L56.7 485.0L56.5 484.4L56.6 483.6L57.0 483.0L57.8 482.5L58.8 482.3L59.8 482.4L60.6 482.9L61.2 483.6L61.3 484.4L61.1 485.2L60.4 485.8L59.4 486.2Z" fill="#30c838"/>
<path d="M59.4 485.8L58.2 485.8L57.2 485.0L57.0 484.4L57.1 483.8L57.8 483.0L58.6 482.7L59.4 482.8L60.2 483.2L60.6 483.6L60.8 484.4L60.6 485.0L60.2 485.4L59.4 485.8Z" fill="#f4f000"/>
<path d="M59.4 485.4L58.4 485.4L57.6 484.9L57.5 484.0L58.0 483.3L59.2 483.1L60.2 483.7L60.4 484.2L60.2 484.8L59.4 485.4Z" fill="#ff9a00"/>
<path d="M59.4 485.0L58.6 485.1L58.1 484.8L57.9 484.4L58.0 483.8L58.8 483.4L59.6 483.7L59.9 484.4L59.4 485.0Z" fill="#f01010"/>
<text x="50.30" y="472.00" font-size="3.2" fill="#7c72c2" text-anchor="end">10</text><text x="50.30" y="470.90" font-size="1.98" fill="#7c72c2">1</text>
<text x="50.30" y="478.40" font-size="3.2" fill="#7c72c2" text-anchor="end">10</text><text x="50.30" y="477.30" font-size="1.98" fill="#7c72c2">2</text>
<text x="50.30" y="484.80" font-size="3.2" fill="#7c72c2" text-anchor="end">10</text><text x="50.30" y="483.70" font-size="1.98" fill="#7c72c2">3</text>
<text x="50.30" y="491.20" font-size="3.2" fill="#7c72c2" text-anchor="end">10</text><text x="50.30" y="490.10" font-size="1.98" fill="#7c72c2">4</text>
<text x="53.30" y="495.10" font-size="3.2" fill="#7c72c2" text-anchor="middle">10</text><text x="55.00" y="494.00" font-size="1.98" fill="#7c72c2">1</text>
<text x="59.97" y="495.10" font-size="3.2" fill="#7c72c2" text-anchor="middle">10</text><text x="61.67" y="494.00" font-size="1.98" fill="#7c72c2">2</text>
<text x="66.63" y="495.10" font-size="3.2" fill="#7c72c2" text-anchor="middle">10</text><text x="68.33" y="494.00" font-size="1.98" fill="#7c72c2">3</text>
<text x="73.30" y="495.10" font-size="3.2" fill="#7c72c2" text-anchor="middle">10</text><text x="75.00" y="494.00" font-size="1.98" fill="#7c72c2">4</text>
<line x1="61.7" y1="470.4" x2="61.7" y2="490.8" stroke="#5a5a5a" stroke-width="0.5"/>
<line x1="52.3" y1="480.8" x2="73.8" y2="480.8" stroke="#8a8a8a" stroke-width="0.6"/>
<path d="M52.3 470.4V490.8H73.8" fill="none" stroke="#5f6c9c" stroke-width="1.0"/>
<text x="52.9" y="473.428" font-size="2.6" text-anchor="start" font-weight="bold" fill="#111" stroke="#111" stroke-width="0.08" >0.01%</text>
<text x="73.5" y="473.428" font-size="2.6" text-anchor="end" font-weight="bold" fill="#111" stroke="#111" stroke-width="0.08" >0.00%</text>
<text x="52.9" y="489.90000000000003" font-size="2.6" text-anchor="start" font-weight="bold" fill="#111" stroke="#111" stroke-width="0.08" >99.90%</text>
<text x="73.5" y="489.90000000000003" font-size="2.6" text-anchor="end" font-weight="bold" fill="#111" stroke="#111" stroke-width="0.08" >0.01%</text>
<line x1="42.6" y1="483.6" x2="42.6" y2="387.6" stroke="#111" stroke-width="1.3"/>
<path d="M42.6 384.6L45.0 389.6L40.2 389.6Z" fill="#111"/>
<text x="27.7" y="395" font-size="7.0" text-anchor="middle" font-weight="normal" fill="#111" textLength="19.41" lengthAdjust="spacingAndGlyphs" stroke="#111" stroke-width="0.12" >Isotype</text>
<text x="30.6" y="419" font-size="7.0" text-anchor="middle" font-weight="normal" fill="#111" textLength="4.02" lengthAdjust="spacingAndGlyphs" stroke="#111" stroke-width="0.12" >V</text>
<text x="30.6" y="452" font-size="7.0" text-anchor="middle" font-weight="normal" fill="#111" textLength="4.35" lengthAdjust="spacingAndGlyphs" stroke="#111" stroke-width="0.12" >D</text>
<text x="30.6" y="481" font-size="7.0" text-anchor="middle" font-weight="normal" fill="#111" textLength="4.02" lengthAdjust="spacingAndGlyphs" stroke="#111" stroke-width="0.12" >K</text>
<text transform="translate(45.95,492.8) rotate(-90)" x="0" y="0" font-size="8.2" text-anchor="middle" fill="#111" stroke="#111" stroke-width="0.22" textLength="10.9" lengthAdjust="spacingAndGlyphs">PD1</text>
<text x="57.7" y="507.4" font-size="8.2" text-anchor="start" font-weight="normal" fill="#111" textLength="15" lengthAdjust="spacingAndGlyphs" stroke="#111" stroke-width="0.3" >CD38</text>
<text transform="translate(91.65,451.2) rotate(-90)" x="0" y="0" font-size="8.2" text-anchor="middle" fill="#111" stroke="#111" stroke-width="0.15" textLength="35.3" lengthAdjust="spacingAndGlyphs">% PD1+ cells</text>
<path d="M110.2 415.8V486.6H177.5" fill="none" stroke="#111" stroke-width="1.3"/>
<line x1="107.4" y1="418.3" x2="110.2" y2="418.3" stroke="#111" stroke-width="1.3"/>
<text x="104.0" y="420.806" font-size="7.0" text-anchor="end" font-weight="normal" fill="#1a1a1a" textLength="7.50" lengthAdjust="spacingAndGlyphs" stroke="#1a1a1a" stroke-width="0.12" >25</text>
<line x1="107.4" y1="432" x2="110.2" y2="432" stroke="#111" stroke-width="1.3"/>
<text x="104.0" y="434.506" font-size="7.0" text-anchor="end" font-weight="normal" fill="#1a1a1a" textLength="7.50" lengthAdjust="spacingAndGlyphs" stroke="#1a1a1a" stroke-width="0.12" >20</text>
<line x1="107.4" y1="445.6" x2="110.2" y2="445.6" stroke="#111" stroke-width="1.3"/>
<text x="104.0" y="448.106" font-size="7.0" text-anchor="end" font-weight="normal" fill="#1a1a1a" textLength="7.50" lengthAdjust="spacingAndGlyphs" stroke="#1a1a1a" stroke-width="0.12" >15</text>
<line x1="107.4" y1="459.2" x2="110.2" y2="459.2" stroke="#111" stroke-width="1.3"/>
<text x="104.0" y="461.70599999999996" font-size="7.0" text-anchor="end" font-weight="normal" fill="#1a1a1a" textLength="7.50" lengthAdjust="spacingAndGlyphs" stroke="#1a1a1a" stroke-width="0.12" >10</text>
<line x1="107.4" y1="473" x2="110.2" y2="473" stroke="#111" stroke-width="1.3"/>
<text x="104.0" y="475.506" font-size="7.0" text-anchor="end" font-weight="normal" fill="#1a1a1a" textLength="3.75" lengthAdjust="spacingAndGlyphs" stroke="#1a1a1a" stroke-width="0.12" >5</text>
<line x1="107.4" y1="486.6" x2="110.2" y2="486.6" stroke="#111" stroke-width="1.3"/>
<text x="104.0" y="489.106" font-size="7.0" text-anchor="end" font-weight="normal" fill="#1a1a1a" textLength="3.75" lengthAdjust="spacingAndGlyphs" stroke="#1a1a1a" stroke-width="0.12" >0</text>
<line x1="126.3" y1="486.6" x2="126.3" y2="489.40000000000003" stroke="#111" stroke-width="1.3"/>
<text x="126.3" y="498.5" font-size="7.0" text-anchor="middle" font-weight="normal" fill="#1a1a1a" textLength="11.98" lengthAdjust="spacingAndGlyphs" stroke="#1a1a1a" stroke-width="0.12" >PD1</text>
<line x1="160.2" y1="486.6" x2="160.2" y2="489.40000000000003" stroke="#111" stroke-width="1.3"/>
<text x="160.2" y="498.5" font-size="7.0" text-anchor="middle" font-weight="normal" fill="#1a1a1a" textLength="29.44" lengthAdjust="spacingAndGlyphs" stroke="#1a1a1a" stroke-width="0.12" >CD38/PD1</text>
<path d="M115.4 416.8V414H138V416.8" fill="none" stroke="#222" stroke-width="1.0"/>
<text x="126.7" y="413.7" font-size="6.2" text-anchor="middle" font-weight="normal" fill="#222" stroke="#222" stroke-width="0.25" >*</text>
<path d="M115.4 427.8V425H127.5V427.8" fill="none" stroke="#222" stroke-width="1.0"/>
<text x="121.45" y="424.7" font-size="6.2" text-anchor="middle" font-weight="normal" fill="#222" stroke="#222" stroke-width="0.25" >*</text>
<path d="M148.1 429.8V427H170.6V429.8" fill="none" stroke="#222" stroke-width="1.0"/>
<text x="159.35" y="426.7" font-size="6.2" text-anchor="middle" font-weight="normal" fill="#222" stroke="#222" stroke-width="0.25" >*</text>
<path d="M149 440.8V438H160.9V440.8" fill="none" stroke="#222" stroke-width="1.0"/>
<text x="154.95" y="437.7" font-size="6.2" text-anchor="middle" font-weight="normal" fill="#222" stroke="#222" stroke-width="0.25" >*</text>
<path d="M116.2 434.5V440.2M114.2 434.5H118.2M114.2 440.2H118.2" stroke="#58a834" stroke-width="0.7" fill="none"/>
<line x1="112.95" y1="437.4" x2="119.45" y2="437.4" stroke="#58a834" stroke-width="1.1"/>
<circle cx="114.7" cy="433.1" r="1.40" fill="#58a834"/>
<circle cx="118.7" cy="431.7" r="1.40" fill="#58a834"/>
<circle cx="116.2" cy="441.8" r="1.40" fill="#58a834"/>
<circle cx="116.2" cy="445.9" r="1.40" fill="#58a834"/>
<path d="M126.2 466V471.5M124.2 466H128.2M124.2 471.5H128.2" stroke="#b01038" stroke-width="0.7" fill="none"/>
<line x1="123.2" y1="468.7" x2="129.2" y2="468.7" stroke="#b01038" stroke-width="1.1"/>
<rect x="122.47" y="459.67" width="3.26" height="3.26" fill="#b01038"/>
<rect x="126.57" y="459.67" width="3.26" height="3.26" fill="#b01038"/>
<rect x="122.47" y="472.87" width="3.26" height="3.26" fill="#b01038"/>
<rect x="126.57" y="472.87" width="3.26" height="3.26" fill="#b01038"/>
<rect x="124.57" y="470.67" width="3.26" height="3.26" fill="#b01038"/>
<path d="M135.6 473V478M133.6 473H137.6M133.6 478H137.6" stroke="#1e4390" stroke-width="0.7" fill="none"/>
<line x1="133.1" y1="475.5" x2="138.1" y2="475.5" stroke="#1e4390" stroke-width="1.1"/>
<path d="M135.6 467.18L137.22 470.04L133.97 470.04Z" fill="#1e4390"/>
<path d="M133.6 472.78L135.22 475.64L131.97 475.64Z" fill="#1e4390"/>
<path d="M137.6 473.58L139.22 476.44L135.97 476.44Z" fill="#1e4390"/>
<path d="M135.6 478.48L137.22 481.34L133.97 481.34Z" fill="#1e4390"/>
<path d="M151.7 450V453M149.7 450H153.7M149.7 453H153.7" stroke="#58a834" stroke-width="0.7" fill="none"/>
<line x1="148.7" y1="451.5" x2="154.7" y2="451.5" stroke="#58a834" stroke-width="1.1"/>
<circle cx="151.7" cy="446.8" r="1.40" fill="#58a834"/>
<circle cx="149.7" cy="451" r="1.40" fill="#58a834"/>
<circle cx="153.7" cy="449.9" r="1.40" fill="#58a834"/>
<circle cx="153.7" cy="455.3" r="1.40" fill="#58a834"/>
<circle cx="149.7" cy="456.6" r="1.40" fill="#58a834"/>
<rect x="157.62" y="482.92" width="3.36" height="3.36" fill="#b01038"/>
<rect x="161.02" y="482.92" width="3.36" height="3.36" fill="#b01038"/>
<rect x="157.62" y="484.62" width="3.36" height="3.36" fill="#b01038"/>
<rect x="161.02" y="484.62" width="3.36" height="3.36" fill="#b01038"/>
<rect x="159.32" y="483.52" width="3.36" height="3.36" fill="#b01038"/>
<path d="M169 484.08L170.44 486.61L167.56 486.61Z" fill="#1e4390"/>
<path d="M171.4 483.68L172.84 486.21L169.96 486.21Z" fill="#1e4390"/>
<path d="M172.5 484.48L173.94 487.01L171.06 487.01Z" fill="#1e4390"/>
<rect x="110.8" y="507.5" width="9" height="3.9" fill="#58a834"/>
<rect x="135.6" y="507.5" width="8.8" height="3.9" fill="#b01038"/>
<rect x="161.2" y="507.5" width="8.2" height="3.9" fill="#1e4390"/>
<text x="123" y="511.7" font-size="6.4" text-anchor="start" font-weight="normal" fill="#222" >V</text>
<text x="147.7" y="511.7" font-size="6.4" text-anchor="start" font-weight="normal" fill="#222" >D</text>
<text x="172.7" y="511.7" font-size="6.4" text-anchor="start" font-weight="normal" fill="#222" >K</text>
<text x="192.3" y="357.0" font-size="10.6" text-anchor="start" font-weight="bold" fill="#000" stroke="#000" stroke-width="0.25" >H</text>
<text x="227.5" y="371.0" font-size="6.5" text-anchor="start" font-weight="normal" fill="#111" textLength="52.1" lengthAdjust="spacingAndGlyphs" stroke="#111" stroke-width="0.06" >CD8<tspan font-size="4.8" baseline-shift="2.2">+</tspan> gated T cells</text>
<path d="M239.9 396.4L238.1 396.6L236.1 396.4L234.3 396.0L232.7 395.1L231.5 393.8L231.4 391.8L231.6 390.6L232.9 389.4L234.7 388.5L236.7 388.1L238.7 388.0L240.5 388.3L244.4 389.6L249.7 390.7L251.2 391.4L251.9 392.0L251.9 392.4L251.7 392.8L250.3 393.7L244.4 395.0L239.9 396.4Z" fill="none" stroke="#a4aaea" stroke-width="0.35"/>
<path d="M238.5 396.0L236.7 396.0L235.3 395.7L233.9 395.1L232.7 394.2L232.1 393.2L231.9 392.2L232.2 391.2L232.9 390.2L233.9 389.5L235.5 388.9L237.3 388.6L239.1 388.7L240.9 389.1L244.3 390.6L247.6 391.4L248.4 391.8L248.8 392.2L248.4 392.8L247.6 393.2L244.1 394.1L240.5 395.6L238.5 396.0Z" fill="none" stroke="#7e86e4" stroke-width="0.4"/>
<path d="M237.9 395.6L236.3 395.5L234.9 395.1L233.8 394.4L233.0 393.6L232.6 392.8L232.6 391.8L233.0 391.0L233.9 390.1L235.1 389.5L236.3 389.1L237.7 389.0L239.3 389.1L241.7 390.0L244.4 392.0L244.5 392.4L244.2 392.8L241.5 394.7L239.9 395.3L237.9 395.6Z" fill="none" stroke="#5560dc" stroke-width="0.4"/>
<circle cx="251.9" cy="390.2" r="0.28" fill="#9aa2ea"/>
<circle cx="244.1" cy="396.4" r="0.28" fill="#9aa2ea"/>
<circle cx="239.5" cy="387.0" r="0.28" fill="#9aa2ea"/>
<circle cx="244.7" cy="389.2" r="0.28" fill="#9aa2ea"/>
<circle cx="247.9" cy="394.4" r="0.28" fill="#9aa2ea"/>
<circle cx="246.1" cy="396.4" r="0.28" fill="#9aa2ea"/>
<circle cx="248.9" cy="389.0" r="0.28" fill="#9aa2ea"/>
<circle cx="247.3" cy="390.0" r="0.28" fill="#9aa2ea"/>
<path d="M238.7 395.2L236.1 395.1L234.9 394.7L233.9 394.0L233.3 393.2L233.1 392.4L233.2 391.6L233.7 390.8L234.5 390.2L235.5 389.7L237.7 389.3L240.1 389.7L242.0 390.8L242.9 392.0L242.9 392.6L242.6 393.2L240.9 394.5L238.7 395.2Z" fill="#1c1cc4"/>
<path d="M238.9 394.4L236.9 394.5L235.1 393.8L234.5 393.2L234.2 392.6L234.2 392.0L234.5 391.4L235.5 390.6L237.1 390.1L238.9 390.2L240.4 390.8L241.3 391.8L241.3 392.8L240.4 393.8L238.9 394.4Z" fill="#1898f0"/>
<path d="M238.5 394.0L237.1 394.1L235.7 393.6L234.9 392.6L235.1 391.6L235.9 390.9L237.3 390.5L238.7 390.6L239.9 391.1L240.6 392.0L240.5 392.8L239.7 393.6L238.5 394.0Z" fill="#30c838"/>
<path d="M238.5 393.6L237.3 393.7L236.1 393.3L235.5 392.6L235.6 391.8L236.3 391.2L237.3 390.9L238.3 390.9L239.3 391.3L239.9 391.8L240.0 392.6L239.5 393.2L238.5 393.6Z" fill="#f4f000"/>
<path d="M237.9 393.4L236.9 393.3L236.2 392.8L236.0 392.2L236.4 391.6L237.1 391.3L237.9 391.2L238.7 391.4L239.3 391.8L239.5 392.2L239.3 392.8L238.7 393.2L237.9 393.4Z" fill="#ff9a00"/>
<path d="M238.1 393.0L237.3 393.0L236.8 392.8L236.5 392.4L236.6 392.0L237.5 391.5L238.7 391.8L239.0 392.2L238.9 392.6L238.1 393.0Z" fill="#f01010"/>
<text x="229.20" y="377.80" font-size="3.2" fill="#7c72c2" text-anchor="end">10</text><text x="229.20" y="376.70" font-size="1.98" fill="#7c72c2">1</text>
<text x="229.20" y="384.83" font-size="3.2" fill="#7c72c2" text-anchor="end">10</text><text x="229.20" y="383.73" font-size="1.98" fill="#7c72c2">2</text>
<text x="229.20" y="391.87" font-size="3.2" fill="#7c72c2" text-anchor="end">10</text><text x="229.20" y="390.77" font-size="1.98" fill="#7c72c2">3</text>
<text x="229.20" y="398.90" font-size="3.2" fill="#7c72c2" text-anchor="end">10</text><text x="229.20" y="397.80" font-size="1.98" fill="#7c72c2">4</text>
<text x="232.20" y="402.80" font-size="3.2" fill="#7c72c2" text-anchor="middle">10</text><text x="233.90" y="401.70" font-size="1.98" fill="#7c72c2">1</text>
<text x="238.73" y="402.80" font-size="3.2" fill="#7c72c2" text-anchor="middle">10</text><text x="240.43" y="401.70" font-size="1.98" fill="#7c72c2">2</text>
<text x="245.27" y="402.80" font-size="3.2" fill="#7c72c2" text-anchor="middle">10</text><text x="246.97" y="401.70" font-size="1.98" fill="#7c72c2">3</text>
<text x="251.80" y="402.80" font-size="3.2" fill="#7c72c2" text-anchor="middle">10</text><text x="253.50" y="401.70" font-size="1.98" fill="#7c72c2">4</text>
<line x1="240.7" y1="376.2" x2="240.7" y2="398.5" stroke="#5a5a5a" stroke-width="0.5"/>
<line x1="231.2" y1="385.7" x2="252.3" y2="385.7" stroke="#8a8a8a" stroke-width="0.6"/>
<path d="M231.2 376.2V398.5H252.3" fill="none" stroke="#5f6c9c" stroke-width="1.0"/>
<text x="231.79999999999998" y="379.228" font-size="2.6" text-anchor="start" font-weight="bold" fill="#111" stroke="#111" stroke-width="0.08" >0.00%</text>
<text x="252.0" y="379.228" font-size="2.6" text-anchor="end" font-weight="bold" fill="#111" stroke="#111" stroke-width="0.08" >0.00%</text>
<text x="231.79999999999998" y="397.6" font-size="2.6" text-anchor="start" font-weight="bold" fill="#111" stroke="#111" stroke-width="0.08" >99.99%</text>
<text x="252.0" y="397.6" font-size="2.6" text-anchor="end" font-weight="bold" fill="#111" stroke="#111" stroke-width="0.08" >0.00%</text>
<path d="M239.3 427.2L237.3 427.3L235.3 426.9L233.7 426.3L232.5 425.6L231.5 424.3L231.5 421.7L231.9 421.0L233.3 419.9L235.1 419.1L237.1 418.7L239.1 418.8L242.1 419.5L244.9 420.8L248.4 422.0L249.5 422.8L249.4 423.4L248.4 424.0L244.9 425.2L241.7 426.7L239.3 427.2Z" fill="none" stroke="#a4aaea" stroke-width="0.35"/>
<path d="M239.3 426.6L237.5 426.7L235.9 426.5L234.5 426.0L233.3 425.3L232.4 424.4L232.0 423.4L232.1 422.4L232.6 421.4L233.5 420.5L235.1 419.7L236.9 419.3L238.7 419.3L240.5 419.6L242.1 420.3L245.1 422.6L245.3 423.0L245.1 423.4L243.1 425.1L241.3 426.1L239.3 426.6Z" fill="none" stroke="#7e86e4" stroke-width="0.4"/>
<path d="M239.1 426.2L237.5 426.3L236.1 426.1L234.9 425.7L233.9 425.1L233.2 424.4L232.7 423.4L232.8 422.4L233.2 421.6L233.9 420.9L234.9 420.3L236.1 419.9L237.5 419.7L238.9 419.8L240.3 420.1L242.3 421.1L243.0 421.8L243.4 422.6L243.5 423.2L243.3 423.8L242.6 424.6L241.7 425.3L240.5 425.9L239.1 426.2Z" fill="none" stroke="#5560dc" stroke-width="0.4"/>
<circle cx="238.3" cy="427.2" r="0.28" fill="#9aa2ea"/>
<circle cx="243.9" cy="426.4" r="0.28" fill="#9aa2ea"/>
<circle cx="245.3" cy="420.4" r="0.28" fill="#9aa2ea"/>
<circle cx="241.3" cy="426.8" r="0.28" fill="#9aa2ea"/>
<circle cx="246.7" cy="419.8" r="0.28" fill="#9aa2ea"/>
<circle cx="233.7" cy="427.6" r="0.28" fill="#9aa2ea"/>
<circle cx="241.9" cy="419.6" r="0.28" fill="#9aa2ea"/>
<circle cx="236.7" cy="428.6" r="0.28" fill="#9aa2ea"/>
<path d="M239.3 425.8L236.7 425.9L235.3 425.5L234.4 425.0L233.6 424.2L233.2 423.4L233.2 422.6L233.6 421.8L234.9 420.7L237.1 420.1L239.5 420.2L241.5 421.1L242.6 422.4L242.6 423.6L242.1 424.4L241.4 425.0L239.3 425.8Z" fill="#1c1cc4"/>
<path d="M238.5 425.2L236.5 425.1L234.9 424.3L234.4 423.6L234.3 423.0L234.4 422.4L234.8 421.8L236.1 421.0L237.9 420.7L239.7 421.1L240.9 421.8L241.4 422.8L241.2 423.8L240.1 424.7L238.5 425.2Z" fill="#1898f0"/>
<path d="M237.9 424.8L236.3 424.5L235.3 423.8L235.0 422.8L235.7 421.8L236.9 421.3L238.3 421.2L239.5 421.5L240.4 422.2L240.7 423.2L240.2 424.0L239.1 424.6L237.9 424.8Z" fill="#30c838"/>
<path d="M238.1 424.4L236.9 424.3L236.0 423.8L235.6 423.0L236.0 422.2L236.9 421.7L237.9 421.6L238.9 421.7L239.7 422.2L240.0 422.8L239.9 423.6L239.1 424.2L238.1 424.4Z" fill="#f4f000"/>
<path d="M238.5 424.0L237.5 424.1L236.6 423.8L236.1 423.2L236.2 422.6L236.7 422.2L237.5 421.9L238.3 421.9L239.0 422.2L239.4 422.6L239.5 423.2L239.1 423.7L238.5 424.0Z" fill="#ff9a00"/>
<path d="M238.5 423.6L237.7 423.8L237.1 423.6L236.6 423.2L236.6 422.8L237.0 422.4L237.5 422.3L238.5 422.4L238.9 422.6L239.0 423.0L238.9 423.4L238.5 423.6Z" fill="#f01010"/>
<text x="229.20" y="408.60" font-size="3.2" fill="#7c72c2" text-anchor="end">10</text><text x="229.20" y="407.50" font-size="1.98" fill="#7c72c2">1</text>
<text x="229.20" y="415.50" font-size="3.2" fill="#7c72c2" text-anchor="end">10</text><text x="229.20" y="414.40" font-size="1.98" fill="#7c72c2">2</text>
<text x="229.20" y="422.40" font-size="3.2" fill="#7c72c2" text-anchor="end">10</text><text x="229.20" y="421.30" font-size="1.98" fill="#7c72c2">3</text>
<text x="229.20" y="429.30" font-size="3.2" fill="#7c72c2" text-anchor="end">10</text><text x="229.20" y="428.20" font-size="1.98" fill="#7c72c2">4</text>
<text x="232.20" y="433.20" font-size="3.2" fill="#7c72c2" text-anchor="middle">10</text><text x="233.90" y="432.10" font-size="1.98" fill="#7c72c2">1</text>
<text x="238.73" y="433.20" font-size="3.2" fill="#7c72c2" text-anchor="middle">10</text><text x="240.43" y="432.10" font-size="1.98" fill="#7c72c2">2</text>
<text x="245.27" y="433.20" font-size="3.2" fill="#7c72c2" text-anchor="middle">10</text><text x="246.97" y="432.10" font-size="1.98" fill="#7c72c2">3</text>
<text x="251.80" y="433.20" font-size="3.2" fill="#7c72c2" text-anchor="middle">10</text><text x="253.50" y="432.10" font-size="1.98" fill="#7c72c2">4</text>
<line x1="240.7" y1="407" x2="240.7" y2="428.9" stroke="#5a5a5a" stroke-width="0.5"/>
<line x1="231.2" y1="416.6" x2="252.3" y2="416.6" stroke="#8a8a8a" stroke-width="0.6"/>
<path d="M231.2 407V428.9H252.3" fill="none" stroke="#5f6c9c" stroke-width="1.0"/>
<text x="231.79999999999998" y="410.028" font-size="2.6" text-anchor="start" font-weight="bold" fill="#111" stroke="#111" stroke-width="0.08" >0.00%</text>
<text x="252.0" y="410.028" font-size="2.6" text-anchor="end" font-weight="bold" fill="#111" stroke="#111" stroke-width="0.08" >0.00%</text>
<text x="231.79999999999998" y="428.0" font-size="2.6" text-anchor="start" font-weight="bold" fill="#111" stroke="#111" stroke-width="0.08" >98.60%</text>
<text x="252.0" y="428.0" font-size="2.6" text-anchor="end" font-weight="bold" fill="#111" stroke="#111" stroke-width="0.08" >1.40%</text>
<path d="M241.3 459.7L239.5 459.9L237.7 459.8L235.7 459.2L234.3 458.5L233.2 457.5L232.6 456.3L232.6 455.1L233.1 453.9L234.3 452.7L235.7 452.0L237.7 451.4L239.5 451.3L241.9 451.6L245.6 452.7L252.3 454.0L252.3 457.2L245.6 458.5L241.3 459.7Z" fill="none" stroke="#a4aaea" stroke-width="0.35"/>
<path d="M239.9 459.3L238.1 459.3L236.7 458.9L235.3 458.3L234.2 457.5L233.6 456.5L233.4 455.5L233.7 454.5L234.4 453.5L235.7 452.6L237.1 452.1L238.9 451.9L240.5 451.9L242.3 452.3L245.4 453.5L250.1 454.4L251.1 454.9L251.7 455.5L251.4 456.1L250.1 456.8L245.5 457.7L241.9 459.0L239.9 459.3Z" fill="none" stroke="#7e86e4" stroke-width="0.4"/>
<path d="M239.5 458.9L237.9 458.8L236.5 458.4L235.5 457.9L234.6 457.1L234.2 456.3L234.1 455.3L234.4 454.5L235.1 453.6L236.1 453.0L237.7 452.4L240.5 452.4L242.3 452.9L245.3 454.3L247.7 455.1L248.3 455.5L248.1 455.9L247.7 456.1L245.3 456.9L242.3 458.3L240.9 458.8L239.5 458.9Z" fill="none" stroke="#5560dc" stroke-width="0.4"/>
<circle cx="234.7" cy="452.3" r="0.28" fill="#9aa2ea"/>
<circle cx="243.9" cy="459.3" r="0.28" fill="#9aa2ea"/>
<circle cx="241.9" cy="459.9" r="0.28" fill="#9aa2ea"/>
<circle cx="232.7" cy="453.3" r="0.28" fill="#9aa2ea"/>
<circle cx="232.5" cy="457.5" r="0.28" fill="#9aa2ea"/>
<circle cx="240.7" cy="459.9" r="0.28" fill="#9aa2ea"/>
<circle cx="240.9" cy="460.9" r="0.28" fill="#9aa2ea"/>
<circle cx="233.1" cy="459.7" r="0.28" fill="#9aa2ea"/>
<path d="M240.1 458.5L237.5 458.4L236.5 458.0L235.4 457.3L234.8 456.5L234.6 455.7L234.7 454.9L235.2 454.1L236.1 453.4L237.1 453.0L238.5 452.7L239.9 452.7L241.1 452.9L242.5 453.4L243.7 454.1L244.7 455.1L244.8 455.9L243.7 457.1L242.1 458.0L240.1 458.5Z" fill="#1c1cc4"/>
<path d="M240.5 457.7L238.5 457.8L236.7 457.2L235.8 456.1L235.7 455.3L236.0 454.7L237.1 453.8L238.7 453.4L240.5 453.5L242.0 454.1L242.9 455.1L242.9 456.1L242.0 457.1L240.5 457.7Z" fill="#1898f0"/>
<path d="M240.1 457.3L238.5 457.3L237.1 456.8L236.4 455.9L236.6 454.9L237.5 454.2L238.9 453.8L240.3 453.9L241.5 454.5L242.1 455.3L242.1 456.1L241.3 456.9L240.1 457.3Z" fill="#30c838"/>
<path d="M240.1 456.9L238.9 457.0L237.7 456.6L237.0 455.9L237.1 455.1L237.8 454.5L238.7 454.2L239.9 454.2L240.9 454.6L241.5 455.3L241.5 455.9L241.0 456.5L240.1 456.9Z" fill="#f4f000"/>
<path d="M239.3 456.7L238.3 456.5L237.7 456.1L237.5 455.5L237.9 454.9L238.7 454.5L239.5 454.5L240.3 454.7L240.8 455.1L241.0 455.5L240.8 456.1L240.3 456.5L239.3 456.7Z" fill="#ff9a00"/>
<path d="M239.7 456.3L238.9 456.4L238.3 456.1L238.0 455.7L238.1 455.3L239.1 454.8L240.2 455.1L240.5 455.7L240.2 456.1L239.7 456.3Z" fill="#f01010"/>
<text x="229.20" y="440.90" font-size="3.2" fill="#7c72c2" text-anchor="end">10</text><text x="229.20" y="439.80" font-size="1.98" fill="#7c72c2">1</text>
<text x="229.20" y="448.07" font-size="3.2" fill="#7c72c2" text-anchor="end">10</text><text x="229.20" y="446.97" font-size="1.98" fill="#7c72c2">2</text>
<text x="229.20" y="455.23" font-size="3.2" fill="#7c72c2" text-anchor="end">10</text><text x="229.20" y="454.13" font-size="1.98" fill="#7c72c2">3</text>
<text x="229.20" y="462.40" font-size="3.2" fill="#7c72c2" text-anchor="end">10</text><text x="229.20" y="461.30" font-size="1.98" fill="#7c72c2">4</text>
<text x="232.20" y="466.30" font-size="3.2" fill="#7c72c2" text-anchor="middle">10</text><text x="233.90" y="465.20" font-size="1.98" fill="#7c72c2">1</text>
<text x="238.73" y="466.30" font-size="3.2" fill="#7c72c2" text-anchor="middle">10</text><text x="240.43" y="465.20" font-size="1.98" fill="#7c72c2">2</text>
<text x="245.27" y="466.30" font-size="3.2" fill="#7c72c2" text-anchor="middle">10</text><text x="246.97" y="465.20" font-size="1.98" fill="#7c72c2">3</text>
<text x="251.80" y="466.30" font-size="3.2" fill="#7c72c2" text-anchor="middle">10</text><text x="253.50" y="465.20" font-size="1.98" fill="#7c72c2">4</text>
<line x1="240.7" y1="439.3" x2="240.7" y2="462" stroke="#5a5a5a" stroke-width="0.5"/>
<line x1="231.2" y1="449" x2="252.3" y2="449" stroke="#8a8a8a" stroke-width="0.6"/>
<path d="M231.2 439.3V462H252.3" fill="none" stroke="#5f6c9c" stroke-width="1.0"/>
<text x="231.79999999999998" y="442.32800000000003" font-size="2.6" text-anchor="start" font-weight="bold" fill="#111" stroke="#111" stroke-width="0.08" >0.00%</text>
<text x="252.0" y="442.32800000000003" font-size="2.6" text-anchor="end" font-weight="bold" fill="#111" stroke="#111" stroke-width="0.08" >0.00%</text>
<text x="231.79999999999998" y="461.1" font-size="2.6" text-anchor="start" font-weight="bold" fill="#111" stroke="#111" stroke-width="0.08" >76.86%</text>
<text x="252.0" y="461.1" font-size="2.6" text-anchor="end" font-weight="bold" fill="#111" stroke="#111" stroke-width="0.08" >23.14%</text>
<path d="M240.7 491.4L238.9 491.6L236.9 491.4L235.1 491.0L233.5 490.1L232.4 489.0L231.9 488.0L231.9 486.8L232.4 485.6L233.5 484.5L235.1 483.6L237.1 483.1L239.3 483.0L241.3 483.3L245.3 484.6L250.1 485.5L252.3 486.4L252.3 488.2L251.7 488.5L249.7 489.2L245.3 490.0L240.7 491.4Z" fill="none" stroke="#a4aaea" stroke-width="0.35"/>
<path d="M239.3 491.0L237.5 491.0L236.1 490.7L234.7 490.1L233.7 489.4L233.0 488.4L232.7 487.4L232.9 486.4L233.5 485.4L234.7 484.5L236.1 483.9L237.7 483.6L239.7 483.6L241.7 484.1L244.9 485.4L248.7 486.3L249.7 486.8L250.0 487.2L249.7 487.8L248.9 488.2L244.8 489.2L241.1 490.7L239.3 491.0Z" fill="none" stroke="#7e86e4" stroke-width="0.4"/>
<path d="M238.7 490.6L237.1 490.5L235.7 490.1L234.6 489.4L233.8 488.6L233.4 487.8L233.4 486.8L233.8 486.0L234.7 485.1L235.9 484.5L237.1 484.1L238.5 484.0L240.1 484.1L242.3 484.9L245.7 487.2L245.3 487.8L241.9 489.9L240.3 490.4L238.7 490.6Z" fill="none" stroke="#5560dc" stroke-width="0.4"/>
<circle cx="249.7" cy="485.0" r="0.28" fill="#9aa2ea"/>
<circle cx="251.3" cy="490.0" r="0.28" fill="#9aa2ea"/>
<circle cx="232.3" cy="488.4" r="0.28" fill="#9aa2ea"/>
<circle cx="246.5" cy="491.4" r="0.28" fill="#9aa2ea"/>
<circle cx="246.7" cy="491.2" r="0.28" fill="#9aa2ea"/>
<circle cx="243.9" cy="484.0" r="0.28" fill="#9aa2ea"/>
<circle cx="245.9" cy="489.8" r="0.28" fill="#9aa2ea"/>
<circle cx="247.7" cy="490.2" r="0.28" fill="#9aa2ea"/>
<path d="M239.5 490.2L236.9 490.1L235.7 489.7L234.7 489.0L234.1 488.2L233.9 487.4L234.0 486.6L234.5 485.8L235.3 485.2L236.3 484.7L238.7 484.3L241.1 484.8L243.1 486.0L243.6 486.6L243.9 487.2L243.5 488.2L241.7 489.6L239.5 490.2Z" fill="#1c1cc4"/>
<path d="M239.7 489.4L237.7 489.5L235.9 488.8L235.3 488.2L235.0 487.6L235.0 487.0L235.3 486.4L236.3 485.6L237.9 485.1L239.7 485.2L241.2 485.8L242.1 486.8L242.1 487.8L241.2 488.8L239.7 489.4Z" fill="#1898f0"/>
<path d="M239.5 489.0L237.9 489.1L236.5 488.6L235.7 487.6L235.9 486.6L236.7 485.9L238.1 485.5L239.5 485.6L240.7 486.1L241.4 487.0L241.3 487.8L240.7 488.5L239.5 489.0Z" fill="#30c838"/>
<path d="M239.3 488.6L238.1 488.7L236.9 488.3L236.3 487.6L236.4 486.8L237.1 486.2L238.1 485.9L239.1 485.9L240.1 486.3L240.7 486.8L240.8 487.6L240.3 488.2L239.3 488.6Z" fill="#f4f000"/>
<path d="M238.7 488.4L237.7 488.3L237.0 487.8L236.8 487.2L237.2 486.6L237.9 486.3L238.7 486.2L239.5 486.4L240.1 486.8L240.3 487.2L240.1 487.8L239.5 488.2L238.7 488.4Z" fill="#ff9a00"/>
<path d="M238.9 488.0L238.1 488.0L237.6 487.8L237.3 487.4L237.4 487.0L238.3 486.5L239.5 486.8L239.8 487.2L239.7 487.6L238.9 488.0Z" fill="#f01010"/>
<text x="229.20" y="473.60" font-size="3.2" fill="#7c72c2" text-anchor="end">10</text><text x="229.20" y="472.50" font-size="1.98" fill="#7c72c2">1</text>
<text x="229.20" y="480.77" font-size="3.2" fill="#7c72c2" text-anchor="end">10</text><text x="229.20" y="479.67" font-size="1.98" fill="#7c72c2">2</text>
<text x="229.20" y="487.93" font-size="3.2" fill="#7c72c2" text-anchor="end">10</text><text x="229.20" y="486.83" font-size="1.98" fill="#7c72c2">3</text>
<text x="229.20" y="495.10" font-size="3.2" fill="#7c72c2" text-anchor="end">10</text><text x="229.20" y="494.00" font-size="1.98" fill="#7c72c2">4</text>
<text x="232.20" y="499.00" font-size="3.2" fill="#7c72c2" text-anchor="middle">10</text><text x="233.90" y="497.90" font-size="1.98" fill="#7c72c2">1</text>
<text x="238.73" y="499.00" font-size="3.2" fill="#7c72c2" text-anchor="middle">10</text><text x="240.43" y="497.90" font-size="1.98" fill="#7c72c2">2</text>
<text x="245.27" y="499.00" font-size="3.2" fill="#7c72c2" text-anchor="middle">10</text><text x="246.97" y="497.90" font-size="1.98" fill="#7c72c2">3</text>
<text x="251.80" y="499.00" font-size="3.2" fill="#7c72c2" text-anchor="middle">10</text><text x="253.50" y="497.90" font-size="1.98" fill="#7c72c2">4</text>
<line x1="240.7" y1="472" x2="240.7" y2="494.7" stroke="#5a5a5a" stroke-width="0.5"/>
<line x1="231.2" y1="480.8" x2="252.3" y2="480.8" stroke="#8a8a8a" stroke-width="0.6"/>
<path d="M231.2 472V494.7H252.3" fill="none" stroke="#5f6c9c" stroke-width="1.0"/>
<text x="231.79999999999998" y="475.028" font-size="2.6" text-anchor="start" font-weight="bold" fill="#111" stroke="#111" stroke-width="0.08" >0.00%</text>
<text x="252.0" y="475.028" font-size="2.6" text-anchor="end" font-weight="bold" fill="#111" stroke="#111" stroke-width="0.08" >0.00%</text>
<text x="231.79999999999998" y="493.8" font-size="2.6" text-anchor="start" font-weight="bold" fill="#111" stroke="#111" stroke-width="0.08" >86.97%</text>
<text x="252.0" y="493.8" font-size="2.6" text-anchor="end" font-weight="bold" fill="#111" stroke="#111" stroke-width="0.08" >13.03%</text>
<text x="213.4" y="390" font-size="7.0" text-anchor="middle" font-weight="normal" fill="#111" textLength="19.41" lengthAdjust="spacingAndGlyphs" stroke="#111" stroke-width="0.12" >Isotype</text>
<text x="218" y="417.7" font-size="7.0" text-anchor="middle" font-weight="normal" fill="#111" textLength="4.02" lengthAdjust="spacingAndGlyphs" stroke="#111" stroke-width="0.12" >V</text>
<text x="218" y="451.3" font-size="7.0" text-anchor="middle" font-weight="normal" fill="#111" textLength="4.35" lengthAdjust="spacingAndGlyphs" stroke="#111" stroke-width="0.12" >D</text>
<text x="218" y="483" font-size="7.0" text-anchor="middle" font-weight="normal" fill="#111" textLength="4.02" lengthAdjust="spacingAndGlyphs" stroke="#111" stroke-width="0.12" >K</text>
<text x="224.2" y="507.4" font-size="8.2" text-anchor="start" font-weight="normal" fill="#111" textLength="31.6" lengthAdjust="spacingAndGlyphs" stroke="#111" stroke-width="0.3" >Granzyme B</text>
<text transform="translate(271.45,441) rotate(-90)" x="0" y="0" font-size="8.2" text-anchor="middle" fill="#111" stroke="#111" stroke-width="0.15" textLength="54.6" lengthAdjust="spacingAndGlyphs">% granzyme B+ cells</text>
<path d="M289.2 397.4V487H344.3" fill="none" stroke="#111" stroke-width="1.3"/>
<line x1="286.4" y1="399.5" x2="289.2" y2="399.5" stroke="#111" stroke-width="1.3"/>
<text x="283.4" y="402.185" font-size="7.5" text-anchor="end" font-weight="normal" fill="#222" textLength="8.00" lengthAdjust="spacingAndGlyphs" stroke="#222" stroke-width="0.04" >25</text>
<line x1="286.4" y1="417.1" x2="289.2" y2="417.1" stroke="#111" stroke-width="1.3"/>
<text x="283.4" y="419.785" font-size="7.5" text-anchor="end" font-weight="normal" fill="#222" textLength="8.00" lengthAdjust="spacingAndGlyphs" stroke="#222" stroke-width="0.04" >20</text>
<line x1="286.4" y1="434.5" x2="289.2" y2="434.5" stroke="#111" stroke-width="1.3"/>
<text x="283.4" y="437.185" font-size="7.5" text-anchor="end" font-weight="normal" fill="#222" textLength="8.00" lengthAdjust="spacingAndGlyphs" stroke="#222" stroke-width="0.04" >15</text>
<line x1="286.4" y1="452" x2="289.2" y2="452" stroke="#111" stroke-width="1.3"/>
<text x="283.4" y="454.685" font-size="7.5" text-anchor="end" font-weight="normal" fill="#222" textLength="8.00" lengthAdjust="spacingAndGlyphs" stroke="#222" stroke-width="0.04" >10</text>
<line x1="286.4" y1="469.4" x2="289.2" y2="469.4" stroke="#111" stroke-width="1.3"/>
<text x="283.4" y="472.085" font-size="7.5" text-anchor="end" font-weight="normal" fill="#222" textLength="4.00" lengthAdjust="spacingAndGlyphs" stroke="#222" stroke-width="0.04" >5</text>
<line x1="286.4" y1="487" x2="289.2" y2="487" stroke="#111" stroke-width="1.3"/>
<text x="283.4" y="489.685" font-size="7.5" text-anchor="end" font-weight="normal" fill="#222" textLength="4.00" lengthAdjust="spacingAndGlyphs" stroke="#222" stroke-width="0.04" >0</text>
<line x1="299.8" y1="487" x2="299.8" y2="489.8" stroke="#111" stroke-width="1.3"/>
<text x="299.8" y="498.9" font-size="7.0" text-anchor="middle" font-weight="normal" fill="#222" textLength="4.11" lengthAdjust="spacingAndGlyphs" stroke="#222" stroke-width="0.04" >V</text>
<line x1="316.1" y1="487" x2="316.1" y2="489.8" stroke="#111" stroke-width="1.3"/>
<text x="316.1" y="498.9" font-size="7.0" text-anchor="middle" font-weight="normal" fill="#222" textLength="4.45" lengthAdjust="spacingAndGlyphs" stroke="#222" stroke-width="0.04" >D</text>
<line x1="333.1" y1="487" x2="333.1" y2="489.8" stroke="#111" stroke-width="1.3"/>
<text x="333.1" y="498.9" font-size="7.0" text-anchor="middle" font-weight="normal" fill="#222" textLength="4.11" lengthAdjust="spacingAndGlyphs" stroke="#222" stroke-width="0.04" >K</text>
<path d="M297.7 396.0V393.2H316.8V396.0" fill="none" stroke="#222" stroke-width="1.0"/>
<text x="307.25" y="392.9" font-size="6.2" text-anchor="middle" font-weight="normal" fill="#222" stroke="#222" stroke-width="0.25" >*</text>
<path d="M299.8 443.5V446.5M297.8 443.5H301.8M297.8 446.5H301.8" stroke="#58a834" stroke-width="0.7" fill="none"/>
<line x1="295.3" y1="444.9" x2="304.3" y2="444.9" stroke="#333" stroke-width="1.1"/>
<circle cx="299.8" cy="434.1" r="1.62" fill="#58a834"/>
<circle cx="299.8" cy="441" r="1.62" fill="#58a834"/>
<circle cx="296.1" cy="452.1" r="1.62" fill="#58a834"/>
<circle cx="303.7" cy="450.7" r="1.62" fill="#58a834"/>
<path d="M299.8 445.35L301.55 448.43L298.05 448.43Z" fill="#58a834"/>
<path d="M316.3 413.4V425.4M314.3 413.4H318.3M314.3 425.4H318.3" stroke="#b01038" stroke-width="0.7" fill="none"/>
<line x1="311.3" y1="419.5" x2="321.3" y2="419.5" stroke="#333" stroke-width="1.1"/>
<rect x="314.67" y="402.87" width="3.26" height="3.26" fill="#b01038"/>
<rect x="314.67" y="408.17" width="3.26" height="3.26" fill="#b01038"/>
<rect x="314.67" y="417.67" width="3.26" height="3.26" fill="#b01038"/>
<rect x="314.67" y="422.37" width="3.26" height="3.26" fill="#b01038"/>
<rect x="314.67" y="438.97" width="3.26" height="3.26" fill="#b01038"/>
<path d="M333 435.8V444.5M331 435.8H335M331 444.5H335" stroke="#1e4390" stroke-width="0.7" fill="none"/>
<line x1="328.0" y1="440.1" x2="338.0" y2="440.1" stroke="#333" stroke-width="1.1"/>
<path d="M328.7 430.39L330.51 433.58L326.89 433.58Z" fill="#1e4390"/>
<path d="M336.9 428.09L338.71 431.28L335.09 431.28Z" fill="#1e4390"/>
<path d="M328.7 442.29L330.51 445.48L326.89 445.48Z" fill="#1e4390"/>
<path d="M337.3 439.39L339.11 442.58L335.49 442.58Z" fill="#1e4390"/>
<path d="M333 452.69L334.81 455.88L331.19 455.88Z" fill="#1e4390"/>
<text x="364.3" y="356.8" font-size="10.6" text-anchor="start" font-weight="bold" fill="#000" stroke="#000" stroke-width="0.25" >I</text>
<text x="394.6" y="371.0" font-size="6.5" text-anchor="start" font-weight="normal" fill="#111" textLength="51.4" lengthAdjust="spacingAndGlyphs" stroke="#111" stroke-width="0.06" >CD8<tspan font-size="4.8" baseline-shift="2.2">+</tspan> gated T cells</text>
<line x1="394.6" y1="372.4" x2="446" y2="372.4" stroke="#333" stroke-width="0.5"/>
<path d="M403.5 397.7L401.7 397.7L400.3 397.2L399.2 396.5L398.3 395.5L398.0 394.5L398.1 393.3L398.8 392.3L399.9 391.4L401.7 390.7L404.1 390.8L405.3 391.1L407.5 392.3L411.7 393.2L412.6 393.7L412.9 394.1L412.6 394.7L411.7 395.2L407.5 396.1L405.3 397.3L403.5 397.7Z" fill="none" stroke="#a4aaea" stroke-width="0.35"/>
<path d="M403.7 397.3L402.3 397.4L400.9 397.0L399.9 396.5L399.0 395.7L398.6 394.7L398.6 393.7L399.0 392.7L399.7 392.0L401.5 391.2L402.7 391.0L403.9 391.1L405.3 391.6L407.5 393.0L410.0 393.7L410.5 394.1L410.3 394.5L410.0 394.7L407.5 395.4L405.3 396.8L403.7 397.3Z" fill="none" stroke="#7e86e4" stroke-width="0.4"/>
<path d="M403.9 396.9L402.5 397.0L401.3 396.8L400.3 396.3L399.6 395.7L399.0 394.7L399.0 393.9L399.3 393.1L399.9 392.4L401.5 391.5L402.5 391.4L403.7 391.4L405.5 392.1L407.3 393.7L407.6 394.3L406.9 395.1L405.3 396.4L403.9 396.9Z" fill="none" stroke="#5560dc" stroke-width="0.4"/>
<circle cx="397.9" cy="395.3" r="0.28" fill="#9aa2ea"/>
<circle cx="398.1" cy="392.1" r="0.28" fill="#9aa2ea"/>
<circle cx="415.9" cy="394.7" r="0.28" fill="#9aa2ea"/>
<circle cx="409.3" cy="391.9" r="0.28" fill="#9aa2ea"/>
<circle cx="408.3" cy="392.7" r="0.28" fill="#9aa2ea"/>
<circle cx="414.1" cy="393.3" r="0.28" fill="#9aa2ea"/>
<path d="M403.5 396.7L402.5 396.8L401.3 396.5L400.3 396.0L399.7 395.3L399.4 394.5L399.4 393.7L399.8 392.9L400.5 392.3L401.9 391.7L403.7 391.7L405.3 392.4L406.4 393.5L406.7 394.3L406.1 395.3L404.9 396.3L403.5 396.7Z" fill="#1c1cc4"/>
<path d="M403.3 396.1L401.7 396.0L400.5 395.1L400.2 394.5L400.2 393.9L400.5 393.3L401.1 392.7L402.3 392.3L403.5 392.3L404.5 392.7L405.4 393.5L405.6 394.3L405.2 395.1L404.3 395.8L403.3 396.1Z" fill="#1898f0"/>
<path d="M403.3 395.7L401.9 395.6L400.9 394.9L400.7 393.9L401.3 393.1L402.1 392.7L403.1 392.6L404.1 392.9L404.8 393.5L405.0 394.1L404.8 394.9L404.1 395.5L403.3 395.7Z" fill="#30c838"/>
<path d="M403.5 395.3L402.5 395.4L401.5 395.0L401.1 394.3L401.4 393.5L402.0 393.1L402.7 393.0L403.5 393.1L404.1 393.4L404.5 393.9L404.5 394.5L404.1 395.0L403.5 395.3Z" fill="#f4f000"/>
<path d="M403.3 395.1L402.5 395.1L401.9 394.9L401.5 394.3L401.7 393.7L402.7 393.2L403.3 393.3L403.9 393.6L404.1 394.1L404.1 394.5L403.3 395.1Z" fill="#ff9a00"/>
<path d="M403.3 394.8L402.7 394.9L402.2 394.7L401.9 394.3L402.0 393.9L402.7 393.5L403.5 393.7L403.8 394.3L403.3 394.8Z" fill="#f01010"/>
<text x="395.70" y="378.10" font-size="3.0" fill="#7c72c2" text-anchor="end">10</text><text x="395.70" y="377.00" font-size="1.86" fill="#7c72c2">1</text>
<text x="395.70" y="383.30" font-size="3.0" fill="#7c72c2" text-anchor="end">10</text><text x="395.70" y="382.20" font-size="1.86" fill="#7c72c2">2</text>
<text x="395.70" y="388.50" font-size="3.0" fill="#7c72c2" text-anchor="end">10</text><text x="395.70" y="387.40" font-size="1.86" fill="#7c72c2">3</text>
<text x="395.70" y="393.70" font-size="3.0" fill="#7c72c2" text-anchor="end">10</text><text x="395.70" y="392.60" font-size="1.86" fill="#7c72c2">4</text>
<text x="395.70" y="398.90" font-size="3.0" fill="#7c72c2" text-anchor="end">10</text><text x="395.70" y="397.80" font-size="1.86" fill="#7c72c2">5</text>
<text x="398.70" y="402.80" font-size="3.0" fill="#7c72c2" text-anchor="middle">10</text><text x="400.40" y="401.70" font-size="1.86" fill="#7c72c2">1</text>
<text x="403.52" y="402.80" font-size="3.0" fill="#7c72c2" text-anchor="middle">10</text><text x="405.22" y="401.70" font-size="1.86" fill="#7c72c2">2</text>
<text x="408.35" y="402.80" font-size="3.0" fill="#7c72c2" text-anchor="middle">10</text><text x="410.05" y="401.70" font-size="1.86" fill="#7c72c2">3</text>
<text x="413.18" y="402.80" font-size="3.0" fill="#7c72c2" text-anchor="middle">10</text><text x="414.88" y="401.70" font-size="1.86" fill="#7c72c2">4</text>
<text x="418.00" y="402.80" font-size="3.0" fill="#7c72c2" text-anchor="middle">10</text><text x="419.70" y="401.70" font-size="1.86" fill="#7c72c2">5</text>
<line x1="404.6" y1="376.5" x2="404.6" y2="398.5" stroke="#5a5a5a" stroke-width="0.5"/>
<line x1="397.7" y1="389.2" x2="418.5" y2="389.2" stroke="#8a8a8a" stroke-width="0.6"/>
<path d="M397.7 376.5V398.5H418.5" fill="none" stroke="#5f6c9c" stroke-width="1.0"/>
<text x="398.3" y="379.606" font-size="2.7" text-anchor="start" font-weight="bold" fill="#111" stroke="#111" stroke-width="0.08" >0.00%</text>
<text x="418.2" y="379.606" font-size="2.7" text-anchor="end" font-weight="bold" fill="#111" stroke="#111" stroke-width="0.08" >0.00%</text>
<text x="398.3" y="397.6" font-size="2.7" text-anchor="start" font-weight="bold" fill="#111" stroke="#111" stroke-width="0.08" >99.99%</text>
<text x="418.2" y="397.6" font-size="2.7" text-anchor="end" font-weight="bold" fill="#111" stroke="#111" stroke-width="0.08" >0.00%</text>
<path d="M403.5 430.8L401.7 430.8L400.3 430.3L399.2 429.6L398.3 428.6L398.0 427.6L398.1 426.4L398.8 425.4L399.9 424.5L401.7 423.8L404.1 423.9L405.3 424.2L407.5 425.4L411.7 426.3L412.6 426.8L412.9 427.2L412.6 427.8L411.7 428.3L407.5 429.2L405.3 430.4L403.5 430.8Z" fill="none" stroke="#a4aaea" stroke-width="0.35"/>
<path d="M403.7 430.4L402.3 430.5L400.9 430.1L399.9 429.6L399.0 428.8L398.6 427.8L398.6 426.8L399.0 425.8L399.7 425.1L401.5 424.3L402.7 424.1L403.9 424.2L405.3 424.7L407.5 426.1L410.0 426.8L410.5 427.2L410.3 427.6L410.0 427.8L407.5 428.5L405.3 429.9L403.7 430.4Z" fill="none" stroke="#7e86e4" stroke-width="0.4"/>
<path d="M403.9 430.0L402.5 430.1L401.3 429.9L400.3 429.4L399.6 428.8L399.0 427.8L399.0 427.0L399.3 426.2L399.9 425.5L401.5 424.6L402.5 424.5L403.7 424.5L405.5 425.2L407.3 426.8L407.6 427.4L406.9 428.2L405.3 429.5L403.9 430.0Z" fill="none" stroke="#5560dc" stroke-width="0.4"/>
<circle cx="408.5" cy="429.0" r="0.28" fill="#9aa2ea"/>
<circle cx="412.5" cy="425.2" r="0.28" fill="#9aa2ea"/>
<circle cx="407.5" cy="425.2" r="0.28" fill="#9aa2ea"/>
<circle cx="410.9" cy="425.0" r="0.28" fill="#9aa2ea"/>
<circle cx="412.1" cy="427.2" r="0.28" fill="#9aa2ea"/>
<circle cx="415.3" cy="426.8" r="0.28" fill="#9aa2ea"/>
<path d="M403.5 429.8L402.5 429.9L401.3 429.6L400.3 429.1L399.7 428.4L399.4 427.6L399.4 426.8L399.8 426.0L400.5 425.4L401.9 424.8L403.7 424.8L405.3 425.5L406.4 426.6L406.7 427.4L406.1 428.4L404.9 429.4L403.5 429.8Z" fill="#1c1cc4"/>
<path d="M403.3 429.2L401.7 429.1L400.5 428.2L400.2 427.6L400.2 427.0L400.5 426.4L401.1 425.8L402.3 425.4L403.5 425.4L404.5 425.8L405.4 426.6L405.6 427.4L405.2 428.2L404.3 428.9L403.3 429.2Z" fill="#1898f0"/>
<path d="M403.3 428.8L401.9 428.7L400.9 428.0L400.7 427.0L401.3 426.2L402.1 425.8L403.1 425.7L404.1 426.0L404.8 426.6L405.0 427.2L404.8 428.0L404.1 428.6L403.3 428.8Z" fill="#30c838"/>
<path d="M403.5 428.4L402.5 428.5L401.5 428.1L401.1 427.4L401.4 426.6L402.0 426.2L402.7 426.1L403.5 426.2L404.1 426.5L404.5 427.0L404.5 427.6L404.1 428.1L403.5 428.4Z" fill="#f4f000"/>
<path d="M403.3 428.2L402.5 428.2L401.9 428.0L401.5 427.4L401.7 426.8L402.7 426.3L403.3 426.4L403.9 426.7L404.1 427.2L404.1 427.6L403.3 428.2Z" fill="#ff9a00"/>
<path d="M403.3 427.9L402.7 428.0L402.2 427.8L401.9 427.4L402.0 427.0L402.7 426.6L403.5 426.8L403.8 427.4L403.3 427.9Z" fill="#f01010"/>
<text x="395.70" y="409.60" font-size="3.0" fill="#7c72c2" text-anchor="end">10</text><text x="395.70" y="408.50" font-size="1.86" fill="#7c72c2">1</text>
<text x="395.70" y="415.10" font-size="3.0" fill="#7c72c2" text-anchor="end">10</text><text x="395.70" y="414.00" font-size="1.86" fill="#7c72c2">2</text>
<text x="395.70" y="420.60" font-size="3.0" fill="#7c72c2" text-anchor="end">10</text><text x="395.70" y="419.50" font-size="1.86" fill="#7c72c2">3</text>
<text x="395.70" y="426.10" font-size="3.0" fill="#7c72c2" text-anchor="end">10</text><text x="395.70" y="425.00" font-size="1.86" fill="#7c72c2">4</text>
<text x="395.70" y="431.60" font-size="3.0" fill="#7c72c2" text-anchor="end">10</text><text x="395.70" y="430.50" font-size="1.86" fill="#7c72c2">5</text>
<text x="398.70" y="435.50" font-size="3.0" fill="#7c72c2" text-anchor="middle">10</text><text x="400.40" y="434.40" font-size="1.86" fill="#7c72c2">1</text>
<text x="403.52" y="435.50" font-size="3.0" fill="#7c72c2" text-anchor="middle">10</text><text x="405.22" y="434.40" font-size="1.86" fill="#7c72c2">2</text>
<text x="408.35" y="435.50" font-size="3.0" fill="#7c72c2" text-anchor="middle">10</text><text x="410.05" y="434.40" font-size="1.86" fill="#7c72c2">3</text>
<text x="413.18" y="435.50" font-size="3.0" fill="#7c72c2" text-anchor="middle">10</text><text x="414.88" y="434.40" font-size="1.86" fill="#7c72c2">4</text>
<text x="418.00" y="435.50" font-size="3.0" fill="#7c72c2" text-anchor="middle">10</text><text x="419.70" y="434.40" font-size="1.86" fill="#7c72c2">5</text>
<line x1="404.6" y1="408" x2="404.6" y2="431.2" stroke="#5a5a5a" stroke-width="0.5"/>
<line x1="397.7" y1="421.2" x2="418.5" y2="421.2" stroke="#8a8a8a" stroke-width="0.6"/>
<path d="M397.7 408V431.2H418.5" fill="none" stroke="#5f6c9c" stroke-width="1.0"/>
<text x="398.3" y="411.106" font-size="2.7" text-anchor="start" font-weight="bold" fill="#111" stroke="#111" stroke-width="0.08" >0.00%</text>
<text x="418.2" y="411.106" font-size="2.7" text-anchor="end" font-weight="bold" fill="#111" stroke="#111" stroke-width="0.08" >0.00%</text>
<text x="398.3" y="430.3" font-size="2.7" text-anchor="start" font-weight="bold" fill="#111" stroke="#111" stroke-width="0.08" >99.28%</text>
<text x="418.2" y="430.3" font-size="2.7" text-anchor="end" font-weight="bold" fill="#111" stroke="#111" stroke-width="0.08" >0.72%</text>
<path d="M404.1 461.8L402.5 462.0L401.1 461.7L399.7 461.1L398.8 460.4L398.2 459.4L398.0 458.2L398.4 457.0L399.1 456.1L400.1 455.5L401.1 455.1L402.3 454.9L403.7 454.9L405.1 455.3L407.7 456.6L411.5 457.3L412.5 457.8L412.8 458.2L412.7 458.8L411.9 459.3L410.5 459.7L407.7 460.2L405.3 461.4L404.1 461.8Z" fill="none" stroke="#a4aaea" stroke-width="0.35"/>
<path d="M404.1 461.4L402.7 461.6L401.3 461.4L400.1 460.8L399.3 460.2L398.7 459.2L398.5 458.2L398.9 457.2L399.5 456.4L401.3 455.4L402.5 455.2L403.7 455.3L405.1 455.7L407.5 457.2L409.8 457.8L410.4 458.2L410.4 458.6L410.1 458.8L407.5 459.6L405.5 460.9L404.1 461.4Z" fill="none" stroke="#7e86e4" stroke-width="0.4"/>
<path d="M403.3 461.2L401.9 461.2L400.9 460.9L399.9 460.2L399.2 459.4L399.0 458.6L399.1 457.6L399.7 456.8L400.5 456.1L402.3 455.6L404.1 455.7L405.7 456.5L407.5 458.2L407.4 458.8L405.7 460.3L404.5 461.0L403.3 461.2Z" fill="none" stroke="#5560dc" stroke-width="0.4"/>
<circle cx="398.1" cy="457.2" r="0.28" fill="#9aa2ea"/>
<circle cx="399.7" cy="455.0" r="0.28" fill="#9aa2ea"/>
<circle cx="412.1" cy="458.0" r="0.28" fill="#9aa2ea"/>
<circle cx="409.1" cy="457.0" r="0.28" fill="#9aa2ea"/>
<circle cx="412.5" cy="459.0" r="0.28" fill="#9aa2ea"/>
<circle cx="402.3" cy="461.8" r="0.28" fill="#9aa2ea"/>
<path d="M403.9 460.8L402.7 461.0L401.7 460.8L400.7 460.4L399.9 459.8L399.4 459.0L399.4 458.2L399.6 457.4L400.1 456.8L401.3 456.1L403.1 455.8L404.7 456.2L406.0 457.2L406.7 458.2L406.5 459.0L405.3 460.2L403.9 460.8Z" fill="#1c1cc4"/>
<path d="M403.7 460.3L402.1 460.3L400.7 459.6L400.3 459.0L400.2 458.4L400.3 457.8L400.7 457.2L401.7 456.6L402.9 456.4L404.1 456.7L405.1 457.3L405.6 458.2L405.4 459.0L404.7 459.8L403.7 460.3Z" fill="#1898f0"/>
<path d="M403.7 459.8L402.3 459.9L401.2 459.4L400.7 458.6L401.0 457.6L401.7 457.1L402.7 456.8L403.7 457.0L404.5 457.4L404.9 458.0L404.9 458.8L404.5 459.4L403.7 459.8Z" fill="#30c838"/>
<path d="M403.1 459.6L402.1 459.5L401.3 459.0L401.2 458.2L401.7 457.5L402.3 457.2L403.1 457.2L403.8 457.4L404.3 457.8L404.5 458.4L404.3 459.0L403.8 459.4L403.1 459.6Z" fill="#f4f000"/>
<path d="M403.5 459.2L402.7 459.4L401.9 459.1L401.5 458.6L401.6 458.0L402.5 457.5L403.7 457.7L404.1 458.4L404.0 458.8L403.5 459.2Z" fill="#ff9a00"/>
<path d="M403.1 459.0L402.5 459.0L402.1 458.8L401.9 458.4L402.1 458.0L402.9 457.7L403.6 458.0L403.7 458.6L403.1 459.0Z" fill="#f01010"/>
<text x="395.70" y="442.00" font-size="3.0" fill="#7c72c2" text-anchor="end">10</text><text x="395.70" y="440.90" font-size="1.86" fill="#7c72c2">1</text>
<text x="395.70" y="447.30" font-size="3.0" fill="#7c72c2" text-anchor="end">10</text><text x="395.70" y="446.20" font-size="1.86" fill="#7c72c2">2</text>
<text x="395.70" y="452.60" font-size="3.0" fill="#7c72c2" text-anchor="end">10</text><text x="395.70" y="451.50" font-size="1.86" fill="#7c72c2">3</text>
<text x="395.70" y="457.90" font-size="3.0" fill="#7c72c2" text-anchor="end">10</text><text x="395.70" y="456.80" font-size="1.86" fill="#7c72c2">4</text>
<text x="395.70" y="463.20" font-size="3.0" fill="#7c72c2" text-anchor="end">10</text><text x="395.70" y="462.10" font-size="1.86" fill="#7c72c2">5</text>
<text x="398.70" y="467.10" font-size="3.0" fill="#7c72c2" text-anchor="middle">10</text><text x="400.40" y="466.00" font-size="1.86" fill="#7c72c2">1</text>
<text x="403.52" y="467.10" font-size="3.0" fill="#7c72c2" text-anchor="middle">10</text><text x="405.22" y="466.00" font-size="1.86" fill="#7c72c2">2</text>
<text x="408.35" y="467.10" font-size="3.0" fill="#7c72c2" text-anchor="middle">10</text><text x="410.05" y="466.00" font-size="1.86" fill="#7c72c2">3</text>
<text x="413.18" y="467.10" font-size="3.0" fill="#7c72c2" text-anchor="middle">10</text><text x="414.88" y="466.00" font-size="1.86" fill="#7c72c2">4</text>
<text x="418.00" y="467.10" font-size="3.0" fill="#7c72c2" text-anchor="middle">10</text><text x="419.70" y="466.00" font-size="1.86" fill="#7c72c2">5</text>
<line x1="404.6" y1="440.4" x2="404.6" y2="462.8" stroke="#5a5a5a" stroke-width="0.5"/>
<line x1="397.7" y1="453.1" x2="418.5" y2="453.1" stroke="#8a8a8a" stroke-width="0.6"/>
<path d="M397.7 440.4V462.8H418.5" fill="none" stroke="#5f6c9c" stroke-width="1.0"/>
<text x="398.3" y="443.506" font-size="2.7" text-anchor="start" font-weight="bold" fill="#111" stroke="#111" stroke-width="0.08" >0.00%</text>
<text x="418.2" y="443.506" font-size="2.7" text-anchor="end" font-weight="bold" fill="#111" stroke="#111" stroke-width="0.08" >0.00%</text>
<text x="398.3" y="461.90000000000003" font-size="2.7" text-anchor="start" font-weight="bold" fill="#111" stroke="#111" stroke-width="0.08" >99.97%</text>
<text x="418.2" y="461.90000000000003" font-size="2.7" text-anchor="end" font-weight="bold" fill="#111" stroke="#111" stroke-width="0.08" >0.03%</text>
<path d="M404.1 493.0L402.5 493.2L401.1 492.9L399.7 492.3L398.8 491.6L398.2 490.6L398.0 489.4L398.4 488.2L399.1 487.3L400.1 486.7L401.1 486.3L402.3 486.1L403.7 486.1L405.1 486.5L407.7 487.8L411.5 488.5L412.5 489.0L412.8 489.4L412.7 490.0L411.9 490.5L410.5 490.9L407.7 491.4L405.3 492.6L404.1 493.0Z" fill="none" stroke="#a4aaea" stroke-width="0.35"/>
<path d="M404.1 492.6L402.7 492.8L401.3 492.6L400.1 492.0L399.3 491.4L398.7 490.4L398.5 489.4L398.9 488.4L399.5 487.6L401.3 486.6L402.5 486.4L403.7 486.5L405.1 486.9L407.5 488.4L409.8 489.0L410.4 489.4L410.4 489.8L410.1 490.0L407.5 490.8L405.5 492.1L404.1 492.6Z" fill="none" stroke="#7e86e4" stroke-width="0.4"/>
<path d="M403.3 492.4L401.9 492.4L400.9 492.1L399.9 491.4L399.2 490.6L399.0 489.8L399.1 488.8L399.7 488.0L400.5 487.3L402.3 486.8L404.1 486.9L405.7 487.7L407.5 489.4L407.4 490.0L405.7 491.5L404.5 492.2L403.3 492.4Z" fill="none" stroke="#5560dc" stroke-width="0.4"/>
<circle cx="413.9" cy="491.0" r="0.28" fill="#9aa2ea"/>
<circle cx="414.3" cy="491.0" r="0.28" fill="#9aa2ea"/>
<circle cx="399.7" cy="492.2" r="0.28" fill="#9aa2ea"/>
<circle cx="414.9" cy="489.2" r="0.28" fill="#9aa2ea"/>
<circle cx="402.1" cy="486.2" r="0.28" fill="#9aa2ea"/>
<circle cx="398.9" cy="487.8" r="0.28" fill="#9aa2ea"/>
<path d="M403.9 492.0L402.7 492.2L401.7 492.0L400.7 491.6L399.9 491.0L399.4 490.2L399.4 489.4L399.6 488.6L400.1 488.0L401.3 487.3L403.1 487.0L404.7 487.4L406.0 488.4L406.7 489.4L406.5 490.2L405.3 491.4L403.9 492.0Z" fill="#1c1cc4"/>
<path d="M403.7 491.5L402.1 491.5L400.7 490.8L400.3 490.2L400.2 489.6L400.3 489.0L400.7 488.4L401.7 487.8L402.9 487.6L404.1 487.9L405.1 488.5L405.6 489.4L405.4 490.2L404.7 491.0L403.7 491.5Z" fill="#1898f0"/>
<path d="M403.7 491.0L402.3 491.1L401.2 490.6L400.7 489.8L401.0 488.8L401.7 488.3L402.7 488.0L403.7 488.2L404.5 488.6L404.9 489.2L404.9 490.0L404.5 490.6L403.7 491.0Z" fill="#30c838"/>
<path d="M403.1 490.8L402.1 490.7L401.3 490.2L401.2 489.4L401.7 488.7L402.3 488.4L403.1 488.4L403.8 488.6L404.3 489.0L404.5 489.6L404.3 490.2L403.8 490.6L403.1 490.8Z" fill="#f4f000"/>
<path d="M403.5 490.4L402.7 490.6L401.9 490.3L401.5 489.8L401.6 489.2L402.5 488.7L403.7 488.9L404.1 489.6L404.0 490.0L403.5 490.4Z" fill="#ff9a00"/>
<path d="M403.1 490.2L402.5 490.2L402.1 490.0L401.9 489.6L402.1 489.2L402.9 488.9L403.6 489.2L403.7 489.8L403.1 490.2Z" fill="#f01010"/>
<text x="395.70" y="473.60" font-size="3.0" fill="#7c72c2" text-anchor="end">10</text><text x="395.70" y="472.50" font-size="1.86" fill="#7c72c2">1</text>
<text x="395.70" y="478.98" font-size="3.0" fill="#7c72c2" text-anchor="end">10</text><text x="395.70" y="477.88" font-size="1.86" fill="#7c72c2">2</text>
<text x="395.70" y="484.35" font-size="3.0" fill="#7c72c2" text-anchor="end">10</text><text x="395.70" y="483.25" font-size="1.86" fill="#7c72c2">3</text>
<text x="395.70" y="489.73" font-size="3.0" fill="#7c72c2" text-anchor="end">10</text><text x="395.70" y="488.62" font-size="1.86" fill="#7c72c2">4</text>
<text x="395.70" y="495.10" font-size="3.0" fill="#7c72c2" text-anchor="end">10</text><text x="395.70" y="494.00" font-size="1.86" fill="#7c72c2">5</text>
<text x="398.70" y="499.00" font-size="3.0" fill="#7c72c2" text-anchor="middle">10</text><text x="400.40" y="497.90" font-size="1.86" fill="#7c72c2">1</text>
<text x="403.52" y="499.00" font-size="3.0" fill="#7c72c2" text-anchor="middle">10</text><text x="405.22" y="497.90" font-size="1.86" fill="#7c72c2">2</text>
<text x="408.35" y="499.00" font-size="3.0" fill="#7c72c2" text-anchor="middle">10</text><text x="410.05" y="497.90" font-size="1.86" fill="#7c72c2">3</text>
<text x="413.18" y="499.00" font-size="3.0" fill="#7c72c2" text-anchor="middle">10</text><text x="414.88" y="497.90" font-size="1.86" fill="#7c72c2">4</text>
<text x="418.00" y="499.00" font-size="3.0" fill="#7c72c2" text-anchor="middle">10</text><text x="419.70" y="497.90" font-size="1.86" fill="#7c72c2">5</text>
<line x1="404.6" y1="472" x2="404.6" y2="494.7" stroke="#5a5a5a" stroke-width="0.5"/>
<line x1="397.7" y1="484.3" x2="418.5" y2="484.3" stroke="#8a8a8a" stroke-width="0.6"/>
<path d="M397.7 472V494.7H418.5" fill="none" stroke="#5f6c9c" stroke-width="1.0"/>
<text x="398.3" y="475.106" font-size="2.7" text-anchor="start" font-weight="bold" fill="#111" stroke="#111" stroke-width="0.08" >0.00%</text>
<text x="418.2" y="475.106" font-size="2.7" text-anchor="end" font-weight="bold" fill="#111" stroke="#111" stroke-width="0.08" >0.00%</text>
<text x="398.3" y="493.8" font-size="2.7" text-anchor="start" font-weight="bold" fill="#111" stroke="#111" stroke-width="0.08" >99.98%</text>
<text x="418.2" y="493.8" font-size="2.7" text-anchor="end" font-weight="bold" fill="#111" stroke="#111" stroke-width="0.08" >0.02%</text>
<text x="380.4" y="390" font-size="7.0" text-anchor="middle" font-weight="normal" fill="#111" textLength="19.41" lengthAdjust="spacingAndGlyphs" stroke="#111" stroke-width="0.12" >Isotype</text>
<text x="385" y="418" font-size="7.0" text-anchor="middle" font-weight="normal" fill="#111" textLength="4.02" lengthAdjust="spacingAndGlyphs" stroke="#111" stroke-width="0.12" >V</text>
<text x="385" y="451" font-size="7.0" text-anchor="middle" font-weight="normal" fill="#111" textLength="4.35" lengthAdjust="spacingAndGlyphs" stroke="#111" stroke-width="0.12" >D</text>
<text x="385" y="483" font-size="7.0" text-anchor="middle" font-weight="normal" fill="#111" textLength="4.02" lengthAdjust="spacingAndGlyphs" stroke="#111" stroke-width="0.12" >K</text>
<text x="398.8" y="507.4" font-size="8.2" text-anchor="start" font-weight="normal" fill="#111" textLength="17.3" lengthAdjust="spacingAndGlyphs" stroke="#111" stroke-width="0.3" >LAMP1</text>
<text transform="translate(436.65,443.3) rotate(-90)" x="0" y="0" font-size="8.2" text-anchor="middle" fill="#111" stroke="#111" stroke-width="0.15" textLength="42.8" lengthAdjust="spacingAndGlyphs">% LAMP1+ cells</text>
<path d="M455.8 400.2V487H512.2" fill="none" stroke="#111" stroke-width="1.3"/>
<line x1="453.0" y1="402.7" x2="455.8" y2="402.7" stroke="#111" stroke-width="1.3"/>
<text x="449.7" y="405.385" font-size="7.5" text-anchor="end" font-weight="normal" fill="#2a2a2a" textLength="7.70" lengthAdjust="spacingAndGlyphs" stroke="#2a2a2a" stroke-width="0.02" >25</text>
<line x1="453.0" y1="419.7" x2="455.8" y2="419.7" stroke="#111" stroke-width="1.3"/>
<text x="449.7" y="422.385" font-size="7.5" text-anchor="end" font-weight="normal" fill="#2a2a2a" textLength="7.70" lengthAdjust="spacingAndGlyphs" stroke="#2a2a2a" stroke-width="0.02" >20</text>
<line x1="453.0" y1="436.6" x2="455.8" y2="436.6" stroke="#111" stroke-width="1.3"/>
<text x="449.7" y="439.285" font-size="7.5" text-anchor="end" font-weight="normal" fill="#2a2a2a" textLength="7.70" lengthAdjust="spacingAndGlyphs" stroke="#2a2a2a" stroke-width="0.02" >15</text>
<line x1="453.0" y1="453.6" x2="455.8" y2="453.6" stroke="#111" stroke-width="1.3"/>
<text x="449.7" y="456.285" font-size="7.5" text-anchor="end" font-weight="normal" fill="#2a2a2a" textLength="7.70" lengthAdjust="spacingAndGlyphs" stroke="#2a2a2a" stroke-width="0.02" >10</text>
<line x1="453.0" y1="470.5" x2="455.8" y2="470.5" stroke="#111" stroke-width="1.3"/>
<text x="449.7" y="473.185" font-size="7.5" text-anchor="end" font-weight="normal" fill="#2a2a2a" textLength="3.85" lengthAdjust="spacingAndGlyphs" stroke="#2a2a2a" stroke-width="0.02" >5</text>
<line x1="453.0" y1="487" x2="455.8" y2="487" stroke="#111" stroke-width="1.3"/>
<text x="449.7" y="489.685" font-size="7.5" text-anchor="end" font-weight="normal" fill="#2a2a2a" textLength="3.85" lengthAdjust="spacingAndGlyphs" stroke="#2a2a2a" stroke-width="0.02" >0</text>
<line x1="467" y1="487" x2="467" y2="489.8" stroke="#111" stroke-width="1.3"/>
<text x="467" y="498.9" font-size="7.0" text-anchor="middle" font-weight="normal" fill="#2a2a2a" textLength="18.03" lengthAdjust="spacingAndGlyphs" stroke="#2a2a2a" stroke-width="0.02" >No Tx.</text>
<line x1="484.4" y1="487" x2="484.4" y2="489.8" stroke="#111" stroke-width="1.3"/>
<text x="484.4" y="498.9" font-size="7.0" text-anchor="middle" font-weight="normal" fill="#2a2a2a" textLength="4.45" lengthAdjust="spacingAndGlyphs" stroke="#2a2a2a" stroke-width="0.02" >D</text>
<line x1="501.6" y1="487" x2="501.6" y2="489.8" stroke="#111" stroke-width="1.3"/>
<text x="501.6" y="498.9" font-size="7.0" text-anchor="middle" font-weight="normal" fill="#2a2a2a" textLength="4.11" lengthAdjust="spacingAndGlyphs" stroke="#2a2a2a" stroke-width="0.02" >K</text>
<path d="M467 446.5V462.2M465 446.5H469M465 462.2H469" stroke="#58a834" stroke-width="0.7" fill="none"/>
<line x1="461.5" y1="454.7" x2="472.5" y2="454.7" stroke="#58a834" stroke-width="1.1"/>
<circle cx="467" cy="430.5" r="1.57" fill="#58a834"/>
<circle cx="467" cy="454.7" r="1.57" fill="#58a834"/>
<circle cx="467" cy="465" r="1.57" fill="#58a834"/>
<circle cx="467" cy="475.2" r="1.57" fill="#58a834"/>
<path d="M465.3 446.7L468.7 446.7L467 449.6Z" fill="#58a834"/>
<path d="M484.2 429.3V439.2M482.2 429.3H486.2M482.2 439.2H486.2" stroke="#b01038" stroke-width="0.7" fill="none"/>
<line x1="478.2" y1="436.5" x2="490.2" y2="436.5" stroke="#b01038" stroke-width="1.1"/>
<rect x="482.57" y="414.87" width="3.26" height="3.26" fill="#b01038"/>
<rect x="478.77" y="432.87" width="3.26" height="3.26" fill="#b01038"/>
<rect x="486.87" y="435.97" width="3.26" height="3.26" fill="#b01038"/>
<rect x="478.77" y="436.87" width="3.26" height="3.26" fill="#b01038"/>
<rect x="482.57" y="444.57" width="3.26" height="3.26" fill="#b01038"/>
<path d="M501.5 443.2V449.6M499.5 443.2H503.5M499.5 449.6H503.5" stroke="#1e4390" stroke-width="0.7" fill="none"/>
<line x1="496.5" y1="446.5" x2="506.5" y2="446.5" stroke="#1e4390" stroke-width="1.1"/>
<path d="M501.5 432.29L503.31 435.48L499.69 435.48Z" fill="#1e4390"/>
<path d="M497.3 444.29L499.11 447.48L495.49 447.48Z" fill="#1e4390"/>
<path d="M505.8 447.69L507.61 450.88L503.99 450.88Z" fill="#1e4390"/>
<path d="M497.3 448.89L499.11 452.08L495.49 452.08Z" fill="#1e4390"/>
<path d="M501.5 453.89L503.31 457.08L499.69 457.08Z" fill="#1e4390"/>
<path d="M0 0H520V0.9H0Z M0 0H1.15V520H0Z M518.9 0H520V520H518.9Z M0 518.6H520V520H0Z" fill="#000"/>
</svg>
</body></html>
